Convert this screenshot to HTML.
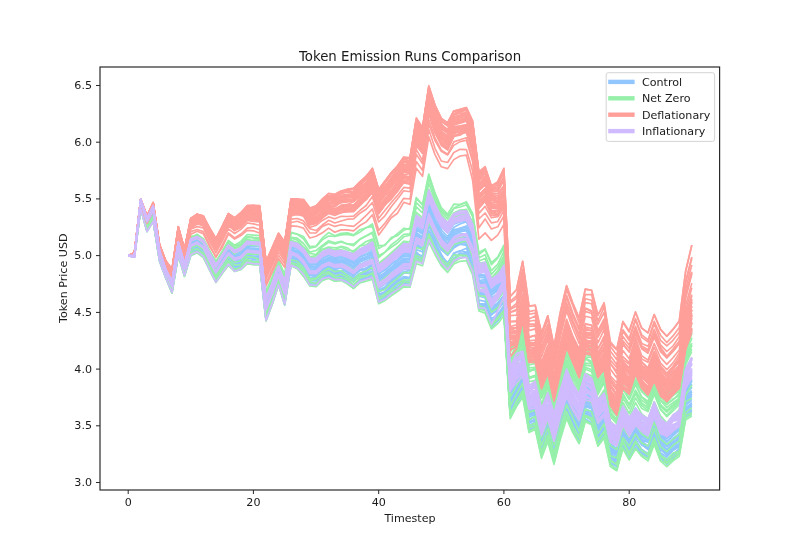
<!DOCTYPE html>
<html><head><meta charset="utf-8"><title>Token Emission Runs Comparison</title>
<style>
html,body{margin:0;padding:0;background:#fff;}
svg{display:block;}
text{font-family:"DejaVu Sans","Liberation Sans",sans-serif;fill:#1a1a1a;}
</style></head>
<body>
<svg width="800" height="560" viewBox="0 0 800 560">
<rect x="0" y="0" width="800" height="560" fill="#ffffff"/>
<clipPath id="ax"><rect x="100" y="66.5" width="620" height="423.5"/></clipPath>
<g clip-path="url(#ax)">
<g fill="none" stroke="#92C6FF" stroke-width="1.67" stroke-linejoin="round" stroke-linecap="butt">
<polyline points="128.2,255.6 134.4,256.0 140.7,206.2 147.0,227.6 153.2,216.6 159.5,257.3 165.8,274.2 172.0,288.5 178.3,247.9 184.5,271.5 190.8,247.9 197.1,244.4 203.3,250.3 209.6,262.8 215.9,275.9 222.1,266.0 228.4,257.0 234.6,261.7 240.9,259.1 247.2,253.3 253.4,253.4 259.7,253.3 266.0,310.8 272.2,294.8 278.5,276.6 284.7,294.8 291.0,254.5 297.3,257.7 303.5,264.9 309.8,274.6 316.1,275.1 322.3,269.6 328.6,266.1 334.8,268.8 341.1,266.4 347.4,269.7 353.6,274.6 359.9,267.4 366.2,265.1 372.4,263.7 378.7,287.1 384.9,283.7 391.2,278.2 397.5,275.2 403.7,269.3 410.0,269.7 416.3,246.0 422.5,248.3 428.8,222.4 435.0,233.3 441.3,245.6 447.6,252.1 453.8,242.7 460.1,240.1 466.4,239.9 472.6,253.9 478.9,292.9 485.1,292.5 491.4,309.9 497.7,303.7 503.9,295.1 510.2,401.4 516.5,389.8 522.7,377.6 529.0,413.6 535.2,413.6 541.5,442.4 547.8,426.2 554.0,450.4 560.3,424.3 566.6,402.4 572.8,419.0 579.1,428.4 585.3,405.7 591.6,408.1 597.9,430.1 604.1,420.5 610.4,449.0 616.7,455.1 622.9,431.2 629.2,444.2 635.5,431.0 641.7,441.1 648.0,446.0 654.2,430.3 660.5,446.4 666.8,451.3 673.0,445.2 679.3,440.3 685.6,402.5 691.8,394.2"/>
<polyline points="128.2,255.6 134.4,256.2 140.7,206.8 147.0,228.4 153.2,217.8 159.5,258.2 165.8,275.4 172.0,289.0 178.3,250.7 184.5,272.3 190.8,249.8 197.1,246.4 203.3,252.8 209.6,265.5 215.9,276.6 222.1,266.3 228.4,258.3 234.6,263.7 240.9,262.3 247.2,255.1 253.4,257.4 259.7,256.5 266.0,312.9 272.2,296.6 278.5,277.5 284.7,296.2 291.0,257.4 297.3,259.0 303.5,267.0 309.8,274.6 316.1,273.8 322.3,269.1 328.6,266.6 334.8,269.3 341.1,268.0 347.4,272.0 353.6,275.2 359.9,270.3 366.2,268.2 372.4,265.2 378.7,290.0 384.9,287.8 391.2,280.0 397.5,276.4 403.7,272.6 410.0,269.9 416.3,244.6 422.5,248.0 428.8,221.4 435.0,235.4 441.3,248.5 447.6,254.2 453.8,245.3 460.1,242.2 466.4,241.6 472.6,256.6 478.9,293.2 485.1,295.3 491.4,311.2 497.7,306.0 503.9,298.3 510.2,402.1 516.5,392.4 522.7,379.9 529.0,416.8 535.2,414.7 541.5,442.7 547.8,426.0 554.0,449.5 560.3,423.4 566.6,403.2 572.8,417.8 579.1,430.8 585.3,406.3 591.6,408.1 597.9,429.5 604.1,421.6 610.4,452.2 616.7,454.7 622.9,434.8 629.2,447.2 635.5,434.5 641.7,443.4 648.0,448.2 654.2,433.1 660.5,448.4 666.8,454.2 673.0,446.9 679.3,441.0 685.6,405.4 691.8,400.4"/>
<polyline points="128.2,255.6 134.4,255.1 140.7,204.0 147.0,224.7 153.2,213.3 159.5,254.9 165.8,271.9 172.0,285.2 178.3,244.8 184.5,266.7 190.8,244.1 197.1,240.7 203.3,244.6 209.6,257.2 215.9,269.7 222.1,260.4 228.4,250.9 234.6,255.6 240.9,253.5 247.2,247.9 253.4,249.3 259.7,248.3 266.0,305.9 272.2,290.2 278.5,271.7 284.7,289.1 291.0,248.4 297.3,252.0 303.5,256.9 309.8,268.0 316.1,267.8 322.3,261.4 328.6,257.7 334.8,260.8 341.1,260.0 347.4,260.2 353.6,264.4 359.9,258.6 366.2,256.7 372.4,254.1 378.7,277.2 384.9,272.4 391.2,266.8 397.5,261.5 403.7,255.9 410.0,256.7 416.3,229.7 422.5,234.1 428.8,205.2 435.0,219.8 441.3,232.9 447.6,238.5 453.8,229.3 460.1,229.1 466.4,226.1 472.6,238.9 478.9,277.3 485.1,277.9 491.4,295.3 497.7,288.6 503.9,279.0 510.2,389.7 516.5,378.8 522.7,365.3 529.0,405.4 535.2,401.4 541.5,429.3 547.8,413.8 554.0,437.1 560.3,411.5 566.6,389.2 572.8,403.8 579.1,414.9 585.3,392.4 591.6,394.4 597.9,417.9 604.1,409.5 610.4,439.2 616.7,445.2 622.9,420.8 629.2,430.7 635.5,418.5 641.7,429.5 648.0,433.1 654.2,416.3 660.5,432.1 666.8,438.9 673.0,431.7 679.3,428.1 685.6,388.1 691.8,379.6"/>
<polyline points="128.2,255.6 134.4,255.4 140.7,205.0 147.0,225.8 153.2,214.8 159.5,255.7 165.8,273.0 172.0,286.4 178.3,247.7 184.5,269.2 190.8,247.3 197.1,244.3 203.3,248.0 209.6,260.3 215.9,271.7 222.1,260.8 228.4,253.3 234.6,259.8 240.9,256.5 247.2,249.8 253.4,250.9 259.7,252.3 266.0,308.1 272.2,292.4 278.5,275.5 284.7,292.9 291.0,251.6 297.3,256.4 303.5,261.1 309.8,270.8 316.1,269.0 322.3,263.2 328.6,260.9 334.8,262.5 341.1,262.5 347.4,263.2 353.6,266.2 359.9,261.7 366.2,259.2 372.4,256.7 378.7,281.4 384.9,275.4 391.2,270.1 397.5,264.9 403.7,259.3 410.0,259.2 416.3,233.1 422.5,238.4 428.8,212.3 435.0,225.3 441.3,237.2 447.6,243.1 453.8,232.8 460.1,230.1 466.4,229.1 472.6,244.2 478.9,283.3 485.1,284.7 491.4,302.0 497.7,296.8 503.9,287.8 510.2,395.5 516.5,383.2 522.7,371.9 529.0,409.5 535.2,406.0 541.5,433.3 547.8,416.8 554.0,441.6 560.3,414.8 566.6,394.5 572.8,408.0 579.1,418.0 585.3,398.3 591.6,398.7 597.9,420.2 604.1,411.8 610.4,443.6 616.7,448.7 622.9,426.2 629.2,436.7 635.5,422.8 641.7,432.9 648.0,437.4 654.2,420.8 660.5,436.4 666.8,444.7 673.0,438.3 679.3,433.4 685.6,395.0 691.8,387.1"/>
<polyline points="128.2,255.6 134.4,256.4 140.7,207.1 147.0,228.7 153.2,218.2 159.5,258.6 165.8,275.5 172.0,289.6 178.3,251.6 184.5,272.5 190.8,249.3 197.1,247.1 203.3,251.9 209.6,266.2 215.9,277.2 222.1,269.5 228.4,259.3 234.6,266.1 240.9,262.1 247.2,258.4 253.4,257.5 259.7,257.9 266.0,316.1 272.2,298.6 278.5,278.7 284.7,297.6 291.0,259.8 297.3,261.6 303.5,268.7 309.8,277.9 316.1,278.0 322.3,270.1 328.6,268.6 334.8,271.8 341.1,271.2 347.4,273.8 353.6,277.8 359.9,273.4 366.2,269.9 372.4,268.8 378.7,292.4 384.9,287.8 391.2,281.7 397.5,278.2 403.7,273.1 410.0,272.8 416.3,246.6 422.5,249.2 428.8,223.0 435.0,237.1 441.3,248.2 447.6,255.3 453.8,248.0 460.1,244.0 466.4,245.4 472.6,259.2 478.9,295.3 485.1,297.9 491.4,315.0 497.7,309.9 503.9,301.8 510.2,408.0 516.5,396.3 522.7,386.6 529.0,422.7 535.2,420.2 541.5,447.8 547.8,432.6 554.0,455.3 560.3,429.3 566.6,409.4 572.8,423.6 579.1,433.1 585.3,411.2 591.6,413.7 597.9,435.1 604.1,427.3 610.4,453.2 616.7,460.4 622.9,437.2 629.2,448.9 635.5,436.3 641.7,444.4 648.0,449.7 654.2,432.6 660.5,449.8 666.8,454.1 673.0,449.5 679.3,446.2 685.6,407.4 691.8,403.7"/>
<polyline points="128.2,255.6 134.4,255.3 140.7,204.7 147.0,225.3 153.2,214.2 159.5,255.2 165.8,272.5 172.0,285.3 178.3,246.9 184.5,268.0 190.8,244.8 197.1,242.2 203.3,245.8 209.6,258.7 215.9,269.8 222.1,260.9 228.4,252.0 234.6,256.8 240.9,254.7 247.2,247.1 253.4,250.2 259.7,249.8 266.0,305.9 272.2,289.9 278.5,272.4 284.7,290.8 291.0,250.8 297.3,251.8 303.5,256.9 309.8,266.4 316.1,267.6 322.3,261.6 328.6,259.8 334.8,263.5 341.1,260.6 347.4,263.4 353.6,267.2 359.9,260.6 366.2,257.5 372.4,254.9 378.7,279.3 384.9,276.1 391.2,271.1 397.5,266.8 403.7,261.3 410.0,261.0 416.3,235.9 422.5,239.6 428.8,210.3 435.0,225.1 441.3,237.7 447.6,244.2 453.8,234.3 460.1,231.8 466.4,230.7 472.6,243.6 478.9,282.8 485.1,282.9 491.4,299.7 497.7,294.5 503.9,286.1 510.2,393.8 516.5,383.3 522.7,371.2 529.0,406.7 535.2,403.1 541.5,431.6 547.8,413.7 554.0,439.5 560.3,410.7 566.6,388.0 572.8,403.5 579.1,414.3 585.3,393.1 591.6,394.5 597.9,416.6 604.1,407.8 610.4,440.3 616.7,444.4 622.9,420.5 629.2,430.4 635.5,417.4 641.7,427.5 648.0,432.0 654.2,415.6 660.5,432.5 666.8,438.6 673.0,433.3 679.3,427.2 685.6,389.9 691.8,381.3"/>
<polyline points="128.2,255.6 134.4,255.3 140.7,204.7 147.0,225.5 153.2,214.0 159.5,255.1 165.8,272.3 172.0,284.7 178.3,245.9 184.5,267.8 190.8,244.5 197.1,241.8 203.3,245.6 209.6,258.7 215.9,270.8 222.1,261.7 228.4,250.8 234.6,256.4 240.9,254.9 247.2,247.8 253.4,249.5 259.7,251.3 266.0,306.1 272.2,289.7 278.5,273.2 284.7,290.3 291.0,249.3 297.3,252.7 303.5,258.1 309.8,267.6 316.1,267.0 322.3,261.2 328.6,259.3 334.8,261.8 341.1,260.3 347.4,262.4 353.6,266.5 359.9,260.7 366.2,257.0 372.4,254.8 378.7,276.0 384.9,273.6 391.2,268.5 397.5,263.4 403.7,258.2 410.0,258.4 416.3,232.4 422.5,237.0 428.8,210.2 435.0,223.7 441.3,234.7 447.6,243.7 453.8,235.4 460.1,231.5 466.4,229.9 472.6,244.6 478.9,282.9 485.1,284.3 491.4,300.3 497.7,295.0 503.9,285.0 510.2,392.6 516.5,380.9 522.7,369.6 529.0,405.6 535.2,404.2 541.5,433.6 547.8,414.7 554.0,440.1 560.3,413.7 566.6,391.8 572.8,406.3 579.1,418.1 585.3,396.2 591.6,397.4 597.9,420.0 604.1,411.1 610.4,441.0 616.7,446.1 622.9,425.0 629.2,435.4 635.5,421.2 641.7,429.7 648.0,434.6 654.2,419.4 660.5,434.6 666.8,442.0 673.0,435.3 679.3,430.0 685.6,391.5 691.8,383.9"/>
<polyline points="128.2,255.6 134.4,254.7 140.7,203.2 147.0,223.3 153.2,211.9 159.5,253.4 165.8,270.7 172.0,283.3 178.3,243.7 184.5,266.3 190.8,241.4 197.1,239.3 203.3,242.6 209.6,256.1 215.9,266.9 222.1,256.5 228.4,248.4 234.6,253.8 240.9,250.3 247.2,243.9 253.4,245.1 259.7,245.6 266.0,302.4 272.2,287.4 278.5,269.1 284.7,285.7 291.0,245.4 297.3,247.9 303.5,253.8 309.8,263.0 316.1,262.9 322.3,257.5 328.6,253.8 334.8,257.4 341.1,254.9 347.4,256.1 353.6,258.4 359.9,253.2 366.2,249.4 372.4,247.4 378.7,272.1 384.9,266.3 391.2,262.0 397.5,257.5 403.7,253.1 410.0,252.9 416.3,225.7 422.5,230.2 428.8,202.9 435.0,215.2 441.3,227.0 447.6,232.8 453.8,224.1 460.1,222.0 466.4,220.9 472.6,235.7 478.9,275.6 485.1,275.9 491.4,292.7 497.7,286.8 503.9,279.6 510.2,388.9 516.5,375.9 522.7,363.7 529.0,400.8 535.2,398.6 541.5,427.8 547.8,411.0 554.0,436.1 560.3,408.9 566.6,384.9 572.8,399.9 579.1,410.8 585.3,386.8 591.6,389.6 597.9,410.7 604.1,401.6 610.4,432.5 616.7,436.5 622.9,414.4 629.2,424.5 635.5,410.2 641.7,421.6 648.0,425.5 654.2,409.3 660.5,426.6 666.8,432.8 673.0,428.1 679.3,422.3 685.6,382.6 691.8,371.7"/>
<polyline points="128.2,255.6 134.4,255.7 140.7,205.7 147.0,226.9 153.2,216.1 159.5,256.0 165.8,273.3 172.0,287.1 178.3,248.1 184.5,269.1 190.8,246.7 197.1,244.3 203.3,248.3 209.6,260.4 215.9,273.2 222.1,264.8 228.4,254.1 234.6,261.7 240.9,258.7 247.2,251.1 253.4,252.3 259.7,252.7 266.0,309.3 272.2,292.4 278.5,274.8 284.7,294.0 291.0,252.7 297.3,257.3 303.5,262.7 309.8,269.8 316.1,270.6 322.3,265.6 328.6,263.1 334.8,265.9 341.1,264.6 347.4,267.9 353.6,271.8 359.9,265.8 366.2,263.3 372.4,260.6 378.7,285.0 384.9,280.7 391.2,276.1 397.5,271.5 403.7,266.2 410.0,265.4 416.3,238.2 422.5,242.9 428.8,217.7 435.0,230.7 441.3,244.1 447.6,248.7 453.8,239.9 460.1,238.2 466.4,239.5 472.6,253.6 478.9,290.2 485.1,292.1 491.4,307.4 497.7,302.6 503.9,296.1 510.2,400.5 516.5,390.4 522.7,378.0 529.0,413.5 535.2,412.7 541.5,440.6 547.8,424.2 554.0,448.5 560.3,420.8 566.6,401.5 572.8,414.3 579.1,427.6 585.3,404.4 591.6,406.9 597.9,429.0 604.1,420.5 610.4,450.3 616.7,455.9 622.9,432.5 629.2,442.1 635.5,431.1 641.7,440.6 648.0,441.9 654.2,426.5 660.5,442.1 666.8,449.4 673.0,443.2 679.3,437.6 685.6,399.2 691.8,391.8"/>
<polyline points="128.2,255.6 134.4,257.1 140.7,208.3 147.0,231.1 153.2,220.6 159.5,260.6 165.8,277.4 172.0,292.6 178.3,255.0 184.5,274.8 190.8,254.0 197.1,250.1 203.3,256.2 209.6,269.0 215.9,279.3 222.1,273.0 228.4,264.6 234.6,270.5 240.9,269.0 247.2,262.3 253.4,263.6 259.7,263.8 266.0,319.5 272.2,300.9 278.5,282.8 284.7,305.0 291.0,264.5 297.3,267.6 303.5,273.9 309.8,284.2 316.1,283.1 322.3,278.0 328.6,276.1 334.8,279.4 341.1,279.0 347.4,282.1 353.6,285.4 359.9,279.4 366.2,278.4 372.4,275.1 378.7,299.7 384.9,296.3 391.2,291.4 397.5,287.1 403.7,282.0 410.0,282.9 416.3,255.7 422.5,259.3 428.8,235.0 435.0,246.4 441.3,258.3 447.6,265.4 453.8,258.2 460.1,254.9 466.4,253.6 472.6,267.2 478.9,304.5 485.1,306.2 491.4,323.9 497.7,320.1 503.9,309.8 510.2,414.3 516.5,402.7 522.7,394.2 529.0,429.2 535.2,427.1 541.5,454.4 547.8,438.3 554.0,460.4 560.3,435.3 566.6,413.9 572.8,427.9 579.1,439.1 585.3,416.4 591.6,420.0 597.9,442.8 604.1,433.9 610.4,461.0 616.7,466.7 622.9,443.4 629.2,455.4 635.5,444.4 641.7,453.2 648.0,457.0 654.2,441.3 660.5,456.8 666.8,464.1 673.0,458.8 679.3,453.9 685.6,416.4 691.8,414.5"/>
<polyline points="128.2,255.6 134.4,256.1 140.7,206.3 147.0,227.7 153.2,217.2 159.5,257.0 165.8,274.6 172.0,288.5 178.3,250.5 184.5,269.9 190.8,247.3 197.1,246.5 203.3,250.2 209.6,262.3 215.9,276.2 222.1,266.6 228.4,255.7 234.6,263.3 240.9,261.1 247.2,255.4 253.4,256.2 259.7,256.0 266.0,313.7 272.2,297.7 278.5,278.5 284.7,295.1 291.0,256.5 297.3,259.9 303.5,265.6 309.8,274.8 316.1,275.4 322.3,270.3 328.6,266.3 334.8,269.2 341.1,267.4 347.4,272.2 353.6,273.7 359.9,269.4 366.2,268.1 372.4,263.7 378.7,288.7 384.9,284.1 391.2,279.3 397.5,273.0 403.7,267.7 410.0,268.4 416.3,244.7 422.5,249.7 428.8,223.8 435.0,236.4 441.3,249.2 447.6,254.1 453.8,244.8 460.1,242.0 466.4,240.3 472.6,254.9 478.9,292.6 485.1,294.3 491.4,309.5 497.7,303.8 503.9,297.0 510.2,403.0 516.5,390.2 522.7,379.4 529.0,415.6 535.2,413.1 541.5,440.5 547.8,422.6 554.0,447.1 560.3,419.4 566.6,397.8 572.8,412.8 579.1,425.4 585.3,402.7 591.6,404.9 597.9,427.2 604.1,418.2 610.4,448.6 616.7,453.5 622.9,429.5 629.2,443.0 635.5,430.0 641.7,438.6 648.0,442.2 654.2,426.5 660.5,443.8 666.8,450.5 673.0,444.8 679.3,440.7 685.6,403.4 691.8,396.1"/>
<polyline points="128.2,255.6 134.4,257.2 140.7,208.8 147.0,231.3 153.2,221.0 159.5,260.5 165.8,277.8 172.0,292.0 178.3,254.9 184.5,275.4 190.8,255.6 197.1,252.8 203.3,255.7 209.6,269.5 215.9,281.2 222.1,272.4 228.4,263.5 234.6,270.4 240.9,268.4 247.2,262.8 253.4,264.5 259.7,264.2 266.0,320.2 272.2,303.9 278.5,284.2 284.7,303.3 291.0,264.3 297.3,267.3 303.5,275.4 309.8,284.7 316.1,284.9 322.3,278.4 328.6,276.2 334.8,280.0 341.1,279.4 347.4,280.7 353.6,286.4 359.9,279.7 366.2,277.8 372.4,277.8 378.7,301.6 384.9,297.7 391.2,292.6 397.5,288.3 403.7,283.5 410.0,283.3 416.3,259.5 422.5,262.2 428.8,237.9 435.0,249.8 441.3,261.9 447.6,268.4 453.8,259.2 460.1,257.7 466.4,256.8 472.6,270.4 478.9,308.2 485.1,310.3 491.4,327.3 497.7,321.2 503.9,312.5 510.2,414.6 516.5,404.9 522.7,394.3 529.0,430.4 535.2,426.7 541.5,454.9 547.8,439.0 554.0,461.2 560.3,436.7 566.6,416.1 572.8,430.7 579.1,440.1 585.3,418.9 591.6,422.6 597.9,443.6 604.1,437.4 610.4,463.9 616.7,469.6 622.9,446.0 629.2,458.1 635.5,447.2 641.7,453.8 648.0,456.9 654.2,440.8 660.5,457.7 666.8,463.8 673.0,458.0 679.3,452.0 685.6,416.3 691.8,411.8"/>
<polyline points="128.2,255.6 134.4,256.6 140.7,207.6 147.0,229.9 153.2,219.1 159.5,259.1 165.8,276.7 172.0,290.3 178.3,253.2 184.5,273.6 190.8,251.7 197.1,248.6 203.3,253.1 209.6,267.4 215.9,278.5 222.1,270.2 228.4,260.5 234.6,266.2 240.9,264.3 247.2,258.5 253.4,257.9 259.7,259.1 266.0,315.8 272.2,299.5 278.5,279.3 284.7,299.1 291.0,261.0 297.3,261.6 303.5,267.6 309.8,277.8 316.1,279.9 322.3,273.4 328.6,270.8 334.8,273.1 341.1,273.7 347.4,277.6 353.6,281.1 359.9,275.7 366.2,274.8 372.4,272.0 378.7,295.7 384.9,292.4 391.2,286.2 397.5,282.0 403.7,276.8 410.0,278.4 416.3,254.9 422.5,256.2 428.8,231.2 435.0,243.5 441.3,255.9 447.6,263.0 453.8,253.5 460.1,250.8 466.4,252.0 472.6,265.8 478.9,303.9 485.1,303.9 491.4,321.3 497.7,314.5 503.9,306.4 510.2,410.1 516.5,399.3 522.7,387.7 529.0,422.4 535.2,419.5 541.5,447.8 547.8,429.8 554.0,453.4 560.3,428.3 566.6,409.6 572.8,423.6 579.1,434.7 585.3,412.6 591.6,415.7 597.9,436.8 604.1,429.4 610.4,456.6 616.7,462.3 622.9,440.7 629.2,451.7 635.5,439.1 641.7,449.5 648.0,453.8 654.2,437.8 660.5,454.3 666.8,460.5 673.0,454.0 679.3,451.5 685.6,412.0 691.8,406.0"/>
<polyline points="128.2,255.6 134.4,256.6 140.7,207.7 147.0,229.5 153.2,219.3 159.5,259.6 165.8,276.0 172.0,289.8 178.3,251.6 184.5,273.6 190.8,252.3 197.1,249.8 203.3,253.6 209.6,265.9 215.9,278.2 222.1,270.5 228.4,260.4 234.6,266.3 240.9,264.0 247.2,257.7 253.4,258.9 259.7,258.4 266.0,315.0 272.2,298.8 278.5,280.4 284.7,298.5 291.0,259.7 297.3,263.4 303.5,268.6 309.8,278.9 316.1,279.0 322.3,273.8 328.6,271.6 334.8,274.5 341.1,274.6 347.4,277.1 353.6,282.2 359.9,274.0 366.2,273.9 372.4,271.0 378.7,294.3 384.9,291.7 391.2,286.5 397.5,282.0 403.7,276.5 410.0,277.5 416.3,251.8 422.5,258.3 428.8,233.1 435.0,245.9 441.3,257.1 447.6,262.7 453.8,254.6 460.1,254.8 466.4,254.3 472.6,267.3 478.9,304.2 485.1,304.7 491.4,321.2 497.7,317.0 503.9,309.4 510.2,412.8 516.5,400.9 522.7,391.5 529.0,424.9 535.2,422.2 541.5,450.8 547.8,434.7 554.0,456.4 560.3,431.3 566.6,409.4 572.8,424.9 579.1,436.1 585.3,413.3 591.6,416.7 597.9,440.4 604.1,430.7 610.4,458.4 616.7,463.1 622.9,442.3 629.2,453.8 635.5,441.3 641.7,450.5 648.0,456.0 654.2,438.2 660.5,453.9 666.8,459.6 673.0,454.5 679.3,448.3 685.6,411.4 691.8,406.8"/>
<polyline points="128.2,255.6 134.4,254.8 140.7,203.5 147.0,223.6 153.2,212.9 159.5,253.9 165.8,270.8 172.0,283.9 178.3,243.4 184.5,266.1 190.8,243.5 197.1,239.3 203.3,242.4 209.6,257.2 215.9,268.3 222.1,259.4 228.4,249.6 234.6,254.3 240.9,251.4 247.2,245.3 253.4,245.9 259.7,244.7 266.0,303.8 272.2,288.6 278.5,269.1 284.7,286.0 291.0,247.3 297.3,247.8 303.5,254.8 309.8,265.1 316.1,264.4 322.3,258.2 328.6,253.7 334.8,259.0 341.1,257.1 347.4,258.7 353.6,261.9 359.9,256.6 366.2,254.7 372.4,252.0 378.7,274.6 384.9,269.3 391.2,263.1 397.5,260.2 403.7,253.7 410.0,254.3 416.3,228.0 422.5,232.1 428.8,204.1 435.0,216.2 441.3,230.1 447.6,236.5 453.8,227.2 460.1,224.0 466.4,221.7 472.6,236.7 478.9,275.9 485.1,275.3 491.4,292.3 497.7,287.8 503.9,278.6 510.2,389.1 516.5,377.1 522.7,364.6 529.0,402.4 535.2,399.0 541.5,428.2 547.8,411.8 554.0,434.7 560.3,408.6 566.6,384.5 572.8,399.0 579.1,412.4 585.3,388.1 591.6,390.0 597.9,413.4 604.1,405.3 610.4,435.0 616.7,442.3 622.9,416.7 629.2,427.7 635.5,415.1 641.7,424.9 648.0,429.1 654.2,414.1 660.5,429.7 666.8,436.1 673.0,431.2 679.3,426.9 685.6,386.1 691.8,379.1"/>
<polyline points="128.2,255.6 134.4,255.0 140.7,203.9 147.0,224.3 153.2,213.0 159.5,254.2 165.8,271.9 172.0,284.4 178.3,244.5 184.5,267.5 190.8,242.5 197.1,241.3 203.3,245.7 209.6,259.2 215.9,270.8 222.1,261.7 228.4,251.1 234.6,255.8 240.9,254.0 247.2,247.8 253.4,248.7 259.7,248.7 266.0,305.9 272.2,290.4 278.5,270.2 284.7,288.9 291.0,250.0 297.3,251.0 303.5,255.8 309.8,266.7 316.1,265.8 322.3,260.2 328.6,257.7 334.8,257.8 341.1,255.1 347.4,260.0 353.6,263.2 359.9,255.3 366.2,252.3 372.4,249.6 378.7,272.9 384.9,270.3 391.2,264.4 397.5,260.1 403.7,255.3 410.0,255.4 416.3,228.9 422.5,233.8 428.8,207.5 435.0,222.6 441.3,233.5 447.6,239.6 453.8,230.5 460.1,228.1 466.4,226.3 472.6,241.2 478.9,280.5 485.1,279.5 491.4,295.4 497.7,290.4 503.9,283.3 510.2,390.0 516.5,379.8 522.7,366.6 529.0,402.8 535.2,400.4 541.5,428.8 547.8,410.8 554.0,435.0 560.3,409.2 566.6,384.6 572.8,399.1 579.1,410.5 585.3,387.5 591.6,389.8 597.9,411.3 604.1,402.5 610.4,434.8 616.7,440.1 622.9,417.0 629.2,428.8 635.5,416.5 641.7,426.4 648.0,432.4 654.2,416.0 660.5,432.4 666.8,437.4 673.0,432.2 679.3,430.0 685.6,390.0 691.8,381.1"/>
<polyline points="128.2,255.6 134.4,254.6 140.7,203.1 147.0,222.9 153.2,211.8 159.5,253.1 165.8,270.0 172.0,282.8 178.3,243.8 184.5,264.6 190.8,239.9 197.1,238.2 203.3,243.5 209.6,256.6 215.9,267.5 222.1,258.7 228.4,247.4 234.6,252.3 240.9,251.9 247.2,243.6 253.4,243.7 259.7,244.8 266.0,301.0 272.2,285.8 278.5,267.6 284.7,283.2 291.0,244.9 297.3,248.1 303.5,253.1 309.8,262.8 316.1,261.4 322.3,255.7 328.6,252.8 334.8,254.4 341.1,252.1 347.4,254.4 353.6,257.6 359.9,252.6 366.2,250.1 372.4,248.2 378.7,271.5 384.9,266.4 391.2,260.4 397.5,255.1 403.7,248.0 410.0,250.2 416.3,223.6 422.5,228.4 428.8,199.0 435.0,212.8 441.3,225.8 447.6,230.4 453.8,221.5 460.1,219.9 466.4,217.8 472.6,232.5 478.9,270.7 485.1,272.3 491.4,289.3 497.7,284.3 503.9,274.9 510.2,384.3 516.5,373.7 522.7,357.4 529.0,396.2 535.2,393.6 541.5,423.0 547.8,404.8 554.0,430.0 560.3,402.2 566.6,378.9 572.8,394.0 579.1,406.3 585.3,382.5 591.6,385.4 597.9,407.4 604.1,397.4 610.4,429.7 616.7,434.5 622.9,411.6 629.2,420.7 635.5,407.9 641.7,418.3 648.0,423.3 654.2,408.0 660.5,424.1 666.8,431.3 673.0,425.5 679.3,422.2 685.6,382.0 691.8,371.0"/>
<polyline points="128.2,255.6 134.4,256.1 140.7,206.5 147.0,228.0 153.2,217.5 159.5,257.7 165.8,274.7 172.0,288.6 178.3,249.6 184.5,271.2 190.8,248.9 197.1,245.7 203.3,251.1 209.6,264.4 215.9,276.0 222.1,267.2 228.4,257.4 234.6,263.5 240.9,261.8 247.2,255.4 253.4,256.9 259.7,256.6 266.0,313.0 272.2,296.0 278.5,278.5 284.7,296.9 291.0,257.1 297.3,260.2 303.5,266.5 309.8,277.5 316.1,276.3 322.3,270.2 328.6,267.5 334.8,270.4 341.1,270.8 347.4,270.7 353.6,276.0 359.9,270.4 366.2,269.5 372.4,265.7 378.7,290.5 384.9,286.9 391.2,281.8 397.5,276.4 403.7,271.9 410.0,272.7 416.3,244.1 422.5,248.9 428.8,223.8 435.0,235.4 441.3,247.7 447.6,254.4 453.8,246.3 460.1,243.2 466.4,242.7 472.6,256.9 478.9,294.6 485.1,296.1 491.4,312.2 497.7,306.6 503.9,298.0 510.2,403.5 516.5,392.8 522.7,381.4 529.0,418.7 535.2,416.6 541.5,443.3 547.8,428.3 554.0,449.9 560.3,422.4 566.6,404.2 572.8,416.5 579.1,430.9 585.3,406.5 591.6,408.6 597.9,430.6 604.1,424.5 610.4,453.8 616.7,457.9 622.9,433.4 629.2,445.9 635.5,433.7 641.7,441.8 648.0,446.5 654.2,429.7 660.5,446.3 666.8,454.0 673.0,445.4 679.3,444.5 685.6,404.1 691.8,399.2"/>
<polyline points="128.2,255.6 134.4,256.6 140.7,207.4 147.0,229.4 153.2,218.7 159.5,259.2 165.8,276.2 172.0,289.8 178.3,252.8 184.5,273.3 190.8,252.7 197.1,248.8 203.3,253.2 209.6,266.1 215.9,278.6 222.1,270.2 228.4,260.6 234.6,266.7 240.9,263.4 247.2,257.0 253.4,259.5 259.7,258.5 266.0,315.8 272.2,299.3 278.5,281.1 284.7,300.7 291.0,259.9 297.3,262.7 303.5,270.7 309.8,280.8 316.1,280.5 322.3,275.4 328.6,272.0 334.8,273.8 341.1,272.4 347.4,276.8 353.6,279.8 359.9,274.3 366.2,273.5 372.4,273.1 378.7,295.0 384.9,292.3 391.2,286.2 397.5,282.2 403.7,277.5 410.0,278.0 416.3,254.4 422.5,255.8 428.8,230.5 435.0,241.4 441.3,254.2 447.6,265.0 453.8,253.0 460.1,250.9 466.4,248.3 472.6,263.5 478.9,300.1 485.1,301.4 491.4,318.8 497.7,314.6 503.9,304.9 510.2,409.3 516.5,398.1 522.7,386.2 529.0,422.9 535.2,419.3 541.5,447.9 547.8,431.6 554.0,454.6 560.3,428.9 566.6,408.0 572.8,422.2 579.1,432.8 585.3,409.8 591.6,413.8 597.9,437.2 604.1,428.0 610.4,456.4 616.7,460.8 622.9,438.3 629.2,449.8 635.5,435.6 641.7,445.0 648.0,448.3 654.2,434.2 660.5,448.5 666.8,455.4 673.0,448.7 679.3,444.2 685.6,408.4 691.8,405.2"/>
<polyline points="128.2,255.6 134.4,255.9 140.7,206.0 147.0,227.6 153.2,216.3 159.5,256.8 165.8,275.0 172.0,287.3 178.3,249.4 184.5,269.7 190.8,247.8 197.1,245.3 203.3,249.2 209.6,261.6 215.9,274.3 222.1,265.1 228.4,256.8 234.6,260.8 240.9,259.0 247.2,252.0 253.4,254.3 259.7,254.9 266.0,311.8 272.2,294.8 278.5,277.1 284.7,295.9 291.0,255.1 297.3,257.4 303.5,265.5 309.8,275.3 316.1,273.6 322.3,269.1 328.6,263.9 334.8,268.4 341.1,266.4 347.4,271.2 353.6,274.1 359.9,266.7 366.2,265.0 372.4,262.9 378.7,284.8 384.9,282.7 391.2,277.6 397.5,273.0 403.7,267.4 410.0,266.4 416.3,241.5 422.5,245.6 428.8,219.5 435.0,232.1 441.3,244.7 447.6,250.6 453.8,242.5 460.1,239.9 466.4,238.3 472.6,252.3 478.9,291.9 485.1,291.8 491.4,306.1 497.7,304.9 503.9,296.0 510.2,403.5 516.5,390.3 522.7,378.5 529.0,414.5 535.2,411.3 541.5,440.6 547.8,422.0 554.0,447.1 560.3,421.6 566.6,398.3 572.8,413.8 579.1,424.5 585.3,401.4 591.6,403.3 597.9,425.6 604.1,418.5 610.4,447.1 616.7,453.0 622.9,426.3 629.2,438.7 635.5,426.5 641.7,436.0 648.0,439.4 654.2,423.7 660.5,439.8 666.8,445.6 673.0,442.5 679.3,438.3 685.6,399.8 691.8,392.0"/>
<polyline points="128.2,255.6 134.4,254.9 140.7,203.7 147.0,223.9 153.2,212.7 159.5,254.3 165.8,271.3 172.0,284.5 178.3,245.4 184.5,266.4 190.8,242.4 197.1,239.1 203.3,243.3 209.6,256.5 215.9,269.0 222.1,259.2 228.4,249.2 234.6,253.7 240.9,251.8 247.2,246.2 253.4,247.0 259.7,246.1 266.0,303.7 272.2,287.3 278.5,269.7 284.7,286.2 291.0,248.1 297.3,249.3 303.5,254.8 309.8,264.2 316.1,263.8 322.3,258.4 328.6,255.8 334.8,257.3 341.1,257.3 347.4,258.1 353.6,261.6 359.9,256.9 366.2,254.3 372.4,251.3 378.7,272.8 384.9,268.0 391.2,262.5 397.5,257.1 403.7,250.8 410.0,252.0 416.3,225.4 422.5,228.2 428.8,200.8 435.0,214.0 441.3,227.0 447.6,232.1 453.8,223.2 460.1,219.1 466.4,219.6 472.6,234.2 478.9,274.3 485.1,275.0 491.4,291.8 497.7,286.4 503.9,278.7 510.2,386.9 516.5,376.2 522.7,363.1 529.0,401.6 535.2,399.6 541.5,426.5 547.8,411.2 554.0,435.0 560.3,407.8 566.6,385.3 572.8,402.2 579.1,414.2 585.3,388.3 591.6,390.9 597.9,414.4 604.1,405.4 610.4,437.0 616.7,441.9 622.9,417.5 629.2,430.0 635.5,416.2 641.7,425.7 648.0,431.5 654.2,414.8 660.5,434.1 666.8,438.3 673.0,433.2 679.3,426.2 685.6,388.9 691.8,381.0"/>
<polyline points="128.2,255.6 134.4,255.5 140.7,205.1 147.0,226.0 153.2,214.7 159.5,256.2 165.8,272.7 172.0,286.1 178.3,247.4 184.5,269.2 190.8,246.1 197.1,243.6 203.3,246.2 209.6,259.9 215.9,271.2 222.1,262.2 228.4,253.6 234.6,259.3 240.9,257.0 247.2,249.8 253.4,251.2 259.7,251.4 266.0,307.4 272.2,292.2 278.5,272.5 284.7,292.3 291.0,250.8 297.3,253.6 303.5,261.3 309.8,269.6 316.1,270.4 322.3,264.0 328.6,262.1 334.8,263.7 341.1,263.8 347.4,266.9 353.6,269.0 359.9,264.2 366.2,262.9 372.4,258.6 378.7,282.2 384.9,276.7 391.2,272.8 397.5,268.6 403.7,261.4 410.0,262.1 416.3,235.2 422.5,240.3 428.8,212.1 435.0,226.2 441.3,239.9 447.6,245.1 453.8,235.0 460.1,231.6 466.4,230.2 472.6,244.5 478.9,283.3 485.1,282.4 491.4,300.7 497.7,295.5 503.9,285.8 510.2,394.1 516.5,382.3 522.7,369.3 529.0,407.9 535.2,404.2 541.5,434.1 547.8,416.6 554.0,441.5 560.3,415.4 566.6,395.5 572.8,410.0 579.1,421.1 585.3,398.0 591.6,401.0 597.9,423.4 604.1,414.0 610.4,444.7 616.7,450.4 622.9,428.7 629.2,439.0 635.5,425.0 641.7,435.1 648.0,438.5 654.2,423.6 660.5,438.8 666.8,446.2 673.0,439.3 679.3,435.8 685.6,396.9 691.8,390.5"/>
<polyline points="128.2,255.6 134.4,255.2 140.7,204.4 147.0,224.7 153.2,213.4 159.5,255.1 165.8,271.7 172.0,284.7 178.3,247.1 184.5,266.9 190.8,245.4 197.1,241.1 203.3,246.5 209.6,259.7 215.9,269.7 222.1,260.6 228.4,251.3 234.6,256.8 240.9,254.6 247.2,248.3 253.4,249.9 259.7,248.9 266.0,305.8 272.2,290.3 278.5,272.4 284.7,289.3 291.0,250.3 297.3,252.1 303.5,258.0 309.8,267.1 316.1,268.1 322.3,261.2 328.6,258.2 334.8,259.8 341.1,258.7 347.4,261.1 353.6,263.9 359.9,259.8 366.2,257.1 372.4,252.6 378.7,278.8 384.9,273.5 391.2,269.7 397.5,266.0 403.7,260.2 410.0,259.6 416.3,234.5 422.5,237.4 428.8,208.9 435.0,222.7 441.3,234.6 447.6,240.3 453.8,231.3 460.1,229.2 466.4,229.0 472.6,241.7 478.9,281.9 485.1,280.7 491.4,298.0 497.7,293.4 503.9,283.2 510.2,392.7 516.5,382.0 522.7,367.7 529.0,405.8 535.2,402.4 541.5,430.0 547.8,414.3 554.0,439.0 560.3,411.8 566.6,389.7 572.8,404.6 579.1,417.5 585.3,395.1 591.6,395.7 597.9,417.9 604.1,409.5 610.4,440.1 616.7,445.0 622.9,421.1 629.2,432.0 635.5,421.1 641.7,431.6 648.0,435.3 654.2,418.4 660.5,433.9 666.8,441.8 673.0,435.6 679.3,429.6 685.6,392.6 691.8,384.7"/>
<polyline points="128.2,255.6 134.4,256.9 140.7,208.2 147.0,230.3 153.2,220.3 159.5,259.9 165.8,277.4 172.0,291.2 178.3,253.7 184.5,274.8 190.8,254.2 197.1,250.5 203.3,256.1 209.6,268.2 215.9,280.3 222.1,270.9 228.4,263.4 234.6,267.9 240.9,267.3 247.2,262.0 253.4,261.9 259.7,261.6 266.0,318.6 272.2,302.7 278.5,282.8 284.7,302.6 291.0,263.2 297.3,264.5 303.5,271.8 309.8,282.3 316.1,282.4 322.3,276.6 328.6,274.0 334.8,276.2 341.1,275.7 347.4,278.9 353.6,281.0 359.9,276.7 366.2,275.4 372.4,271.3 378.7,296.9 384.9,294.2 391.2,287.4 397.5,283.5 403.7,278.1 410.0,278.9 416.3,255.8 422.5,258.4 428.8,234.2 435.0,247.1 441.3,258.1 447.6,266.0 453.8,258.3 460.1,252.7 466.4,254.5 472.6,267.3 478.9,304.2 485.1,306.4 491.4,324.1 497.7,317.6 503.9,309.4 510.2,412.8 516.5,401.2 522.7,390.8 529.0,426.1 535.2,425.1 541.5,451.8 547.8,436.1 554.0,459.9 560.3,434.4 566.6,411.5 572.8,425.2 579.1,438.6 585.3,415.1 591.6,417.3 597.9,440.3 604.1,433.4 610.4,463.4 616.7,466.0 622.9,443.5 629.2,454.2 635.5,442.1 641.7,450.8 648.0,455.7 654.2,440.6 660.5,457.1 666.8,462.9 673.0,457.5 679.3,451.2 685.6,415.9 691.8,410.4"/>
<polyline points="128.2,255.6 134.4,256.8 140.7,208.0 147.0,230.1 153.2,220.0 159.5,259.5 165.8,276.9 172.0,291.9 178.3,253.4 184.5,275.2 190.8,253.5 197.1,250.1 203.3,255.5 209.6,267.0 215.9,280.7 222.1,270.7 228.4,261.4 234.6,267.1 240.9,265.8 247.2,259.9 253.4,261.0 259.7,261.0 266.0,316.7 272.2,301.7 278.5,282.3 284.7,302.3 291.0,263.1 297.3,266.5 303.5,271.7 309.8,283.7 316.1,284.0 322.3,277.0 328.6,274.5 334.8,277.7 341.1,276.5 347.4,278.8 353.6,285.1 359.9,278.9 366.2,278.2 372.4,274.6 378.7,299.9 384.9,296.6 391.2,291.0 397.5,284.7 403.7,281.1 410.0,281.7 416.3,257.4 422.5,260.2 428.8,235.1 435.0,246.3 441.3,257.8 447.6,262.9 453.8,255.1 460.1,254.5 466.4,252.1 472.6,267.5 478.9,304.9 485.1,307.2 491.4,321.3 497.7,317.1 503.9,309.1 510.2,413.1 516.5,401.9 522.7,390.6 529.0,426.0 535.2,423.3 541.5,453.3 547.8,437.6 554.0,457.8 560.3,433.7 566.6,411.2 572.8,426.8 579.1,436.4 585.3,414.8 591.6,417.3 597.9,439.5 604.1,432.2 610.4,460.8 616.7,464.9 622.9,441.9 629.2,454.1 635.5,442.5 641.7,449.8 648.0,453.8 654.2,436.3 660.5,452.8 666.8,457.1 673.0,450.5 679.3,446.2 685.6,410.3 691.8,403.7"/>
<polyline points="128.2,255.6 134.4,255.6 140.7,205.3 147.0,226.3 153.2,215.2 159.5,256.0 165.8,273.4 172.0,286.6 178.3,248.2 184.5,270.3 190.8,247.7 197.1,245.4 203.3,248.5 209.6,261.5 215.9,273.9 222.1,263.3 228.4,254.6 234.6,259.5 240.9,256.2 247.2,250.7 253.4,252.0 259.7,252.4 266.0,306.2 272.2,291.3 278.5,274.7 284.7,291.2 291.0,253.1 297.3,254.8 303.5,260.5 309.8,270.5 316.1,270.8 322.3,261.8 328.6,260.6 334.8,262.5 341.1,261.6 347.4,264.9 353.6,267.7 359.9,261.9 366.2,259.0 372.4,257.1 378.7,281.3 384.9,277.7 391.2,271.8 397.5,269.0 403.7,261.9 410.0,263.1 416.3,236.3 422.5,242.1 428.8,213.8 435.0,226.3 441.3,236.6 447.6,245.5 453.8,237.3 460.1,233.9 466.4,233.9 472.6,246.9 478.9,285.9 485.1,287.5 491.4,303.0 497.7,298.1 503.9,289.9 510.2,397.6 516.5,386.9 522.7,375.2 529.0,412.1 535.2,411.0 541.5,437.3 547.8,421.7 554.0,445.3 560.3,420.6 566.6,397.7 572.8,412.5 579.1,424.4 585.3,402.3 591.6,404.5 597.9,424.9 604.1,416.3 610.4,447.5 616.7,451.8 622.9,429.4 629.2,441.2 635.5,428.3 641.7,436.6 648.0,440.9 654.2,424.9 660.5,440.6 666.8,446.7 673.0,442.4 679.3,439.8 685.6,400.9 691.8,394.0"/>
<polyline points="128.2,255.6 134.4,256.3 140.7,206.8 147.0,228.7 153.2,217.7 159.5,258.7 165.8,275.5 172.0,289.4 178.3,251.1 184.5,272.8 190.8,251.9 197.1,249.1 203.3,251.8 209.6,265.2 215.9,278.1 222.1,267.8 228.4,260.2 234.6,266.3 240.9,264.6 247.2,256.7 253.4,257.1 259.7,259.4 266.0,315.0 272.2,298.1 278.5,278.5 284.7,300.4 291.0,258.7 297.3,260.9 303.5,269.0 309.8,277.7 316.1,277.8 322.3,271.7 328.6,270.5 334.8,272.8 341.1,272.4 347.4,274.9 353.6,278.6 359.9,273.3 366.2,272.5 372.4,268.2 378.7,291.7 384.9,288.7 391.2,285.2 397.5,280.0 403.7,272.9 410.0,273.4 416.3,249.5 422.5,251.9 428.8,226.1 435.0,239.0 441.3,249.9 447.6,255.0 453.8,246.1 460.1,244.4 466.4,244.4 472.6,258.6 478.9,296.3 485.1,297.0 491.4,314.7 497.7,308.1 503.9,300.6 510.2,406.7 516.5,396.6 522.7,384.6 529.0,420.9 535.2,416.7 541.5,443.5 547.8,426.9 554.0,451.3 560.3,426.4 566.6,403.0 572.8,418.8 579.1,431.1 585.3,408.7 591.6,411.5 597.9,433.1 604.1,424.8 610.4,453.2 616.7,458.5 622.9,435.7 629.2,446.5 635.5,435.7 641.7,444.0 648.0,449.1 654.2,433.1 660.5,448.9 666.8,455.5 673.0,449.2 679.3,445.1 685.6,408.5 691.8,402.5"/>
<polyline points="128.2,255.6 134.4,257.0 140.7,208.3 147.0,230.7 153.2,220.2 159.5,260.4 165.8,276.9 172.0,291.8 178.3,253.5 184.5,274.9 190.8,253.6 197.1,249.7 203.3,254.9 209.6,268.5 215.9,281.3 222.1,270.7 228.4,262.1 234.6,269.0 240.9,266.9 247.2,261.2 253.4,262.0 259.7,261.7 266.0,317.2 272.2,300.9 278.5,282.7 284.7,301.2 291.0,261.6 297.3,264.8 303.5,271.7 309.8,282.6 316.1,283.4 322.3,276.9 328.6,275.3 334.8,277.9 341.1,278.5 347.4,279.9 353.6,286.4 359.9,279.9 366.2,277.9 372.4,275.3 378.7,298.2 384.9,295.3 391.2,290.8 397.5,288.0 403.7,283.4 410.0,282.8 416.3,258.7 422.5,260.3 428.8,236.6 435.0,250.3 441.3,261.5 447.6,268.3 453.8,260.9 460.1,258.1 466.4,256.4 472.6,269.8 478.9,305.3 485.1,307.2 491.4,325.2 497.7,319.1 503.9,310.6 510.2,415.5 516.5,402.4 522.7,390.7 529.0,426.1 535.2,423.4 541.5,452.6 547.8,437.1 554.0,459.2 560.3,435.4 566.6,412.4 572.8,425.8 579.1,438.1 585.3,416.3 591.6,420.1 597.9,440.9 604.1,432.0 610.4,461.5 616.7,465.2 622.9,443.9 629.2,455.5 635.5,442.7 641.7,451.1 648.0,456.0 654.2,439.5 660.5,455.4 666.8,461.6 673.0,456.5 679.3,450.5 685.6,413.5 691.8,409.4"/>
<polyline points="128.2,255.6 134.4,255.7 140.7,205.6 147.0,226.5 153.2,215.7 159.5,256.5 165.8,273.8 172.0,287.0 178.3,247.2 184.5,270.0 190.8,247.3 197.1,244.4 203.3,248.4 209.6,262.3 215.9,274.8 222.1,264.7 228.4,255.2 234.6,261.4 240.9,259.0 247.2,252.9 253.4,253.3 259.7,253.5 266.0,310.6 272.2,294.2 278.5,275.2 284.7,293.3 291.0,254.8 297.3,256.6 303.5,262.5 309.8,271.9 316.1,273.7 322.3,265.6 328.6,263.5 334.8,265.7 341.1,264.4 347.4,267.8 353.6,270.9 359.9,264.4 366.2,261.2 372.4,258.7 378.7,283.9 384.9,280.2 391.2,275.3 397.5,269.5 403.7,266.5 410.0,266.8 416.3,240.1 422.5,244.3 428.8,218.7 435.0,232.0 441.3,242.7 447.6,249.9 453.8,240.7 460.1,238.1 466.4,236.9 472.6,250.8 478.9,287.2 485.1,287.8 491.4,305.0 497.7,299.3 503.9,291.3 510.2,398.5 516.5,387.7 522.7,374.3 529.0,411.0 535.2,408.5 541.5,436.7 547.8,420.3 554.0,444.8 560.3,417.1 566.6,395.0 572.8,409.4 579.1,419.7 585.3,397.0 591.6,400.4 597.9,422.1 604.1,413.5 610.4,445.0 616.7,450.3 622.9,427.1 629.2,437.1 635.5,423.7 641.7,432.9 648.0,439.4 654.2,422.9 660.5,440.4 666.8,445.8 673.0,440.6 679.3,435.9 685.6,394.9 691.8,387.4"/>
<polyline points="128.2,255.6 134.4,254.5 140.7,203.0 147.0,222.7 153.2,211.6 159.5,253.3 165.8,270.4 172.0,283.4 178.3,244.0 184.5,265.6 190.8,241.3 197.1,239.5 203.3,243.7 209.6,254.2 215.9,267.5 222.1,257.5 228.4,246.8 234.6,252.7 240.9,250.7 247.2,244.4 253.4,243.7 259.7,244.6 266.0,301.2 272.2,285.2 278.5,270.1 284.7,285.1 291.0,245.1 297.3,247.8 303.5,251.4 309.8,260.8 316.1,260.8 322.3,255.2 328.6,250.5 334.8,252.8 341.1,251.8 347.4,253.6 353.6,256.1 359.9,250.1 366.2,248.4 372.4,243.1 378.7,267.7 384.9,262.9 391.2,256.6 397.5,252.3 403.7,248.0 410.0,247.7 416.3,222.1 422.5,226.3 428.8,193.7 435.0,209.2 441.3,222.6 447.6,228.8 453.8,219.7 460.1,217.7 466.4,216.5 472.6,232.1 478.9,271.3 485.1,272.0 491.4,290.2 497.7,285.0 503.9,276.0 510.2,385.7 516.5,373.1 522.7,359.7 529.0,398.0 535.2,394.9 541.5,422.3 547.8,406.1 554.0,432.3 560.3,403.2 566.6,381.0 572.8,395.0 579.1,406.1 585.3,382.9 591.6,387.3 597.9,408.8 604.1,399.2 610.4,431.0 616.7,438.2 622.9,414.3 629.2,423.2 635.5,410.6 641.7,421.1 648.0,426.3 654.2,409.7 660.5,427.0 666.8,433.6 673.0,425.7 679.3,421.2 685.6,383.5 691.8,374.7"/>
</g>
<g fill="none" stroke="#97F0AA" stroke-width="1.67" stroke-linejoin="round" stroke-linecap="butt">
<polyline points="128.2,255.6 134.4,257.0 140.7,208.4 147.0,230.9 153.2,220.7 159.5,260.6 165.8,277.6 172.0,292.4 178.3,255.0 184.5,275.9 190.8,252.7 197.1,251.4 203.3,256.4 209.6,269.3 215.9,280.7 222.1,271.8 228.4,263.7 234.6,271.5 240.9,267.9 247.2,261.4 253.4,262.7 259.7,262.7 266.0,319.1 272.2,301.6 278.5,283.7 284.7,302.2 291.0,263.6 297.3,266.0 303.5,272.9 309.8,282.5 316.1,283.4 322.3,276.4 328.6,273.4 334.8,277.8 341.1,277.9 347.4,279.6 353.6,285.1 359.9,278.2 366.2,276.0 372.4,273.8 378.7,299.8 384.9,295.6 391.2,291.0 397.5,288.9 403.7,281.7 410.0,282.9 416.3,258.3 422.5,261.1 428.8,236.9 435.0,249.9 441.3,261.0 447.6,267.6 453.8,259.1 460.1,255.1 466.4,255.8 472.6,270.9 478.9,305.4 485.1,308.0 491.4,324.5 497.7,317.6 503.9,311.0 510.2,415.0 516.5,400.8 522.7,390.7 529.0,426.0 535.2,423.0 541.5,452.3 547.8,435.1 554.0,458.7 560.3,433.4 566.6,412.0 572.8,426.7 579.1,438.1 585.3,415.8 591.6,420.3 597.9,440.1 604.1,431.6 610.4,460.0 616.7,464.8 622.9,442.1 629.2,455.3 635.5,442.2 641.7,450.6 648.0,455.1 654.2,439.5 660.5,455.5 666.8,462.6 673.0,456.1 679.3,451.7 685.6,415.3 691.8,412.9"/>
<polyline points="128.2,255.6 134.4,256.7 140.7,207.8 147.0,230.1 153.2,219.2 159.5,260.0 165.8,276.6 172.0,290.3 178.3,253.7 184.5,275.2 190.8,253.8 197.1,251.5 203.3,254.9 209.6,268.3 215.9,281.0 222.1,271.6 228.4,262.1 234.6,269.3 240.9,267.2 247.2,259.3 253.4,261.9 259.7,261.3 266.0,316.3 272.2,300.7 278.5,283.0 284.7,301.6 291.0,262.5 297.3,264.0 303.5,270.2 309.8,281.2 316.1,279.0 322.3,273.7 328.6,271.9 334.8,275.7 341.1,274.3 347.4,277.5 353.6,282.0 359.9,275.8 366.2,275.9 372.4,273.0 378.7,297.6 384.9,293.9 391.2,289.1 397.5,283.5 403.7,280.1 410.0,279.8 416.3,255.3 422.5,258.8 428.8,233.8 435.0,248.1 441.3,258.7 447.6,264.3 453.8,254.8 460.1,255.3 466.4,255.7 472.6,269.7 478.9,307.0 485.1,308.1 491.4,324.9 497.7,318.1 503.9,310.5 510.2,413.6 516.5,402.6 522.7,391.8 529.0,427.7 535.2,425.7 541.5,452.5 547.8,435.0 554.0,458.6 560.3,433.2 566.6,411.5 572.8,426.1 579.1,436.4 585.3,415.3 591.6,418.0 597.9,440.2 604.1,431.3 610.4,460.9 616.7,464.2 622.9,440.5 629.2,452.6 635.5,441.1 641.7,450.4 648.0,454.1 654.2,437.7 660.5,454.9 666.8,459.7 673.0,453.1 679.3,451.3 685.6,412.5 691.8,407.6"/>
<polyline points="128.2,255.6 134.4,255.5 140.7,205.3 147.0,226.5 153.2,215.9 159.5,256.7 165.8,274.2 172.0,287.5 178.3,249.4 184.5,270.7 190.8,248.1 197.1,245.3 203.3,249.7 209.6,263.0 215.9,275.5 222.1,266.0 228.4,256.7 234.6,262.5 240.9,260.8 247.2,253.8 253.4,254.1 259.7,254.4 266.0,310.9 272.2,293.8 278.5,275.1 284.7,294.5 291.0,252.7 297.3,255.3 303.5,262.0 309.8,271.4 316.1,272.0 322.3,265.8 328.6,263.9 334.8,265.9 341.1,264.5 347.4,266.4 353.6,270.1 359.9,264.9 366.2,262.2 372.4,259.0 378.7,282.9 384.9,278.1 391.2,273.2 397.5,269.2 403.7,263.9 410.0,265.9 416.3,239.3 422.5,242.9 428.8,218.0 435.0,231.8 441.3,242.8 447.6,248.3 453.8,239.2 460.1,237.6 466.4,235.8 472.6,248.5 478.9,286.9 485.1,288.4 491.4,303.9 497.7,299.9 503.9,291.5 510.2,397.2 516.5,386.1 522.7,374.0 529.0,412.3 535.2,410.1 541.5,437.8 547.8,420.8 554.0,445.0 560.3,418.5 566.6,395.6 572.8,411.1 579.1,420.8 585.3,399.5 591.6,402.6 597.9,423.4 604.1,415.2 610.4,445.6 616.7,449.6 622.9,427.4 629.2,437.2 635.5,423.8 641.7,434.0 648.0,438.3 654.2,422.4 660.5,439.0 666.8,444.4 673.0,439.3 679.3,434.2 685.6,395.0 691.8,385.2"/>
<polyline points="128.2,255.6 134.4,257.3 140.7,209.1 147.0,231.8 153.2,221.6 159.5,261.3 165.8,278.3 172.0,293.1 178.3,255.6 184.5,276.4 190.8,255.6 197.1,252.8 203.3,257.3 209.6,270.4 215.9,282.6 222.1,273.8 228.4,265.3 234.6,271.5 240.9,269.8 247.2,263.6 253.4,264.7 259.7,264.7 266.0,321.1 272.2,304.4 278.5,285.1 284.7,305.0 291.0,265.8 297.3,268.7 303.5,276.1 309.8,286.0 316.1,286.6 322.3,280.6 328.6,278.3 334.8,281.2 341.1,280.6 347.4,284.0 353.6,288.5 359.9,282.9 366.2,281.2 372.4,279.5 378.7,303.8 384.9,300.7 391.2,295.9 397.5,291.5 403.7,286.8 410.0,287.2 416.3,263.6 422.5,265.8 428.8,242.0 435.0,254.5 441.3,265.8 447.6,272.4 453.8,264.1 460.1,261.3 466.4,260.7 472.6,274.9 478.9,310.9 485.1,313.1 491.4,329.0 497.7,323.7 503.9,315.8 510.2,418.6 516.5,406.5 522.7,397.4 529.0,432.6 535.2,429.6 541.5,458.3 547.8,441.7 554.0,464.4 560.3,439.4 566.6,418.4 572.8,432.6 579.1,443.6 585.3,421.8 591.6,424.7 597.9,446.2 604.1,438.3 610.4,466.6 616.7,470.7 622.9,448.5 629.2,459.8 635.5,448.5 641.7,456.4 648.0,460.9 654.2,444.5 660.5,460.9 666.8,466.6 673.0,460.9 679.3,456.4 685.6,420.1 691.8,416.1"/>
<polyline points="128.2,255.6 134.4,257.2 140.7,208.8 147.0,231.4 153.2,220.7 159.5,260.9 165.8,277.8 172.0,293.1 178.3,255.6 184.5,276.3 190.8,254.7 197.1,252.8 203.3,257.3 209.6,269.6 215.9,282.1 222.1,273.8 228.4,265.0 234.6,270.6 240.9,268.8 247.2,263.6 253.4,264.4 259.7,264.7 266.0,319.9 272.2,304.1 278.5,285.1 284.7,304.5 291.0,265.1 297.3,268.7 303.5,276.1 309.8,285.4 316.1,285.7 322.3,280.0 328.6,278.3 334.8,281.2 341.1,279.8 347.4,283.0 353.6,288.5 359.9,282.5 366.2,279.6 372.4,278.1 378.7,302.8 384.9,299.6 391.2,294.0 397.5,289.8 403.7,285.0 410.0,284.8 416.3,260.5 422.5,262.1 428.8,238.0 435.0,250.4 441.3,264.1 447.6,269.5 453.8,262.4 460.1,258.2 466.4,256.7 472.6,271.8 478.9,308.9 485.1,310.7 491.4,326.0 497.7,319.2 503.9,312.3 510.2,415.4 516.5,402.5 522.7,394.1 529.0,431.1 535.2,428.0 541.5,456.1 547.8,439.2 554.0,462.8 560.3,436.3 566.6,416.7 572.8,430.2 579.1,443.3 585.3,420.3 591.6,424.3 597.9,444.4 604.1,436.0 610.4,464.5 616.7,469.5 622.9,448.1 629.2,459.6 635.5,448.5 641.7,455.2 648.0,458.6 654.2,442.6 660.5,460.8 666.8,463.2 673.0,459.5 679.3,454.0 685.6,418.4 691.8,414.4"/>
<polyline points="128.2,255.6 134.4,256.1 140.7,206.7 147.0,228.4 153.2,217.7 159.5,258.3 165.8,275.3 172.0,289.8 178.3,251.5 184.5,273.4 190.8,250.3 197.1,248.7 203.3,253.3 209.6,266.9 215.9,277.9 222.1,269.2 228.4,260.3 234.6,265.1 240.9,264.5 247.2,256.9 253.4,257.4 259.7,259.6 266.0,314.1 272.2,297.7 278.5,279.4 284.7,298.0 291.0,259.8 297.3,261.3 303.5,267.6 309.8,278.9 316.1,278.1 322.3,272.0 328.6,268.3 334.8,271.8 341.1,270.5 347.4,275.4 353.6,279.1 359.9,273.6 366.2,270.9 372.4,267.3 378.7,291.2 384.9,289.7 391.2,283.2 397.5,278.3 403.7,272.5 410.0,272.6 416.3,247.3 422.5,249.5 428.8,222.5 435.0,235.0 441.3,247.1 447.6,253.9 453.8,244.5 460.1,242.7 466.4,240.6 472.6,256.6 478.9,295.8 485.1,296.2 491.4,312.2 497.7,307.7 503.9,298.9 510.2,406.2 516.5,394.1 522.7,383.4 529.0,419.7 535.2,416.3 541.5,445.6 547.8,428.3 554.0,453.5 560.3,427.7 566.6,404.5 572.8,417.7 579.1,431.1 585.3,409.0 591.6,411.8 597.9,433.6 604.1,423.9 610.4,455.7 616.7,458.0 622.9,437.5 629.2,446.0 635.5,434.0 641.7,443.1 648.0,446.0 654.2,428.6 660.5,446.7 666.8,451.6 673.0,445.3 679.3,441.0 685.6,401.9 691.8,398.2"/>
<polyline points="128.2,255.6 134.4,255.7 140.7,199.3 147.0,218.3 153.2,206.2 159.5,250.5 165.8,270.1 172.0,282.2 178.3,242.6 184.5,264.1 190.8,240.0 197.1,237.8 203.3,241.6 209.6,254.9 215.9,264.8 222.1,256.6 228.4,245.3 234.6,251.8 240.9,248.4 247.2,244.1 253.4,244.0 259.7,245.1 266.0,300.8 272.2,285.2 278.5,267.9 284.7,284.3 291.0,243.7 297.3,245.0 303.5,251.5 309.8,261.9 316.1,260.7 322.3,253.7 328.6,253.1 334.8,253.4 341.1,253.1 347.4,255.0 353.6,256.0 359.9,249.8 366.2,246.9 372.4,244.8 378.7,269.1 384.9,263.5 391.2,257.7 397.5,251.9 403.7,246.3 410.0,247.8 416.3,218.8 422.5,223.8 428.8,195.8 435.0,208.8 441.3,220.9 447.6,227.9 453.8,220.1 460.1,214.5 466.4,215.3 472.6,227.7 478.9,266.3 485.1,266.4 491.4,282.2 497.7,277.2 503.9,264.5 510.2,373.6 516.5,363.2 522.7,346.7 529.0,385.2 535.2,383.0 541.5,410.6 547.8,394.6 554.0,420.1 560.3,391.8 566.6,368.7 572.8,383.9 579.1,397.5 585.3,373.4 591.6,375.7 597.9,399.4 604.1,389.9 610.4,421.2 616.7,428.0 622.9,402.3 629.2,413.5 635.5,397.9 641.7,408.4 648.0,411.6 654.2,394.3 660.5,409.3 666.8,416.6 673.0,410.8 679.3,404.6 685.6,364.6 691.8,351.5"/>
<polyline points="128.2,255.6 134.4,255.0 140.7,201.4 147.0,220.4 153.2,208.8 159.5,251.5 165.8,269.6 172.0,280.9 178.3,241.4 184.5,262.9 190.8,239.2 197.1,235.3 203.3,240.1 209.6,252.3 215.9,264.9 222.1,254.4 228.4,244.3 234.6,248.4 240.9,245.3 247.2,241.8 253.4,240.2 259.7,240.1 266.0,297.1 272.2,281.8 278.5,262.8 284.7,279.7 291.0,238.0 297.3,240.1 303.5,246.7 309.8,253.4 316.1,254.5 322.3,246.8 328.6,242.3 334.8,244.0 341.1,241.9 347.4,244.0 353.6,245.7 359.9,239.5 366.2,236.1 372.4,232.9 378.7,255.8 384.9,252.1 391.2,247.3 397.5,243.0 403.7,236.8 410.0,235.3 416.3,206.8 422.5,212.9 428.8,182.9 435.0,200.7 441.3,213.7 447.6,222.5 453.8,213.0 460.1,210.1 466.4,210.3 472.6,222.2 478.9,260.9 485.1,258.4 491.4,274.4 497.7,267.4 503.9,256.0 510.2,351.7 516.5,342.4 522.7,323.0 529.0,361.6 535.2,361.3 541.5,390.5 547.8,373.7 554.0,400.1 560.3,371.7 566.6,348.8 572.8,365.4 579.1,376.4 585.3,353.1 591.6,354.9 597.9,377.0 604.1,367.4 610.4,401.7 616.7,405.2 622.9,380.1 629.2,388.7 635.5,374.3 641.7,386.8 648.0,392.0 654.2,376.3 660.5,392.2 666.8,399.6 673.0,394.7 679.3,388.8 685.6,346.6 691.8,333.3"/>
<polyline points="128.2,255.6 134.4,255.6 140.7,199.3 147.0,218.4 153.2,206.3 159.5,250.7 165.8,270.2 172.0,282.0 178.3,241.9 184.5,264.6 190.8,240.4 197.1,237.0 203.3,241.6 209.6,253.8 215.9,265.8 222.1,256.1 228.4,245.2 234.6,251.5 240.9,249.1 247.2,243.7 253.4,244.5 259.7,244.0 266.0,299.8 272.2,283.3 278.5,267.8 284.7,284.8 291.0,243.1 297.3,247.5 303.5,250.9 309.8,260.3 316.1,259.5 322.3,254.4 328.6,251.2 334.8,255.3 341.1,253.1 347.4,254.8 353.6,258.7 359.9,253.0 366.2,248.2 372.4,246.7 378.7,270.6 384.9,265.3 391.2,258.9 397.5,254.4 403.7,247.8 410.0,248.7 416.3,219.0 422.5,224.9 428.8,195.8 435.0,209.4 441.3,219.2 447.6,227.2 453.8,218.5 460.1,215.4 466.4,215.4 472.6,230.4 478.9,269.7 485.1,267.5 491.4,284.6 497.7,276.0 503.9,264.0 510.2,366.1 516.5,357.4 522.7,339.6 529.0,378.8 535.2,376.2 541.5,406.5 547.8,387.7 554.0,414.9 560.3,386.0 566.6,363.8 572.8,378.9 579.1,390.5 585.3,367.3 591.6,369.6 597.9,392.4 604.1,382.3 610.4,414.2 616.7,421.6 622.9,394.8 629.2,405.2 635.5,391.6 641.7,404.2 648.0,406.6 654.2,388.8 660.5,405.1 666.8,411.8 673.0,405.9 679.3,400.2 685.6,359.8 691.8,345.0"/>
<polyline points="128.2,255.6 134.4,255.7 140.7,199.4 147.0,218.3 153.2,206.5 159.5,250.5 165.8,270.0 172.0,281.5 178.3,242.7 184.5,265.4 190.8,240.4 197.1,236.8 203.3,242.1 209.6,254.3 215.9,266.1 222.1,256.0 228.4,246.5 234.6,253.9 240.9,249.2 247.2,244.5 253.4,245.1 259.7,246.0 266.0,301.1 272.2,286.1 278.5,268.0 284.7,284.6 291.0,244.8 297.3,247.1 303.5,251.3 309.8,261.1 316.1,260.5 322.3,256.1 328.6,253.1 334.8,253.3 341.1,252.5 347.4,256.9 353.6,259.0 359.9,253.7 366.2,251.8 372.4,248.2 378.7,270.4 384.9,267.4 391.2,260.9 397.5,256.4 403.7,250.8 410.0,248.6 416.3,221.7 422.5,227.1 428.8,197.6 435.0,212.2 441.3,224.4 447.6,228.9 453.8,219.3 460.1,218.4 466.4,217.6 472.6,231.0 478.9,270.3 485.1,270.2 491.4,285.5 497.7,277.6 503.9,266.4 510.2,374.1 516.5,365.9 522.7,350.6 529.0,389.0 535.2,386.3 541.5,414.2 547.8,397.7 554.0,423.7 560.3,393.1 566.6,370.9 572.8,386.7 579.1,400.4 585.3,375.0 591.6,378.8 597.9,401.8 604.1,391.9 610.4,425.6 616.7,430.2 622.9,405.7 629.2,417.7 635.5,402.6 641.7,413.8 648.0,418.9 654.2,401.7 660.5,415.9 666.8,423.1 673.0,415.9 679.3,409.7 685.6,368.9 691.8,357.9"/>
<polyline points="128.2,255.6 134.4,255.5 140.7,199.6 147.0,218.7 153.2,206.6 159.5,250.9 165.8,270.0 172.0,281.9 178.3,241.5 184.5,263.6 190.8,239.7 197.1,237.8 203.3,240.8 209.6,254.6 215.9,266.5 222.1,256.2 228.4,246.2 234.6,252.1 240.9,248.0 247.2,242.7 253.4,244.2 259.7,243.8 266.0,301.6 272.2,284.6 278.5,266.8 284.7,283.0 291.0,243.8 297.3,244.3 303.5,250.1 309.8,259.0 316.1,259.1 322.3,253.5 328.6,250.7 334.8,253.6 341.1,252.9 347.4,253.7 353.6,255.5 359.9,250.4 366.2,247.9 372.4,245.1 378.7,268.4 384.9,264.4 391.2,258.9 397.5,254.6 403.7,248.5 410.0,246.7 416.3,218.1 422.5,222.9 428.8,193.3 435.0,208.4 441.3,221.3 447.6,226.7 453.8,218.2 460.1,216.6 466.4,214.3 472.6,227.2 478.9,266.8 485.1,265.3 491.4,283.3 497.7,275.5 503.9,262.0 510.2,360.5 516.5,351.2 522.7,332.5 529.0,370.7 535.2,369.7 541.5,397.8 547.8,381.8 554.0,408.7 560.3,378.0 566.6,354.1 572.8,369.8 579.1,383.4 585.3,358.1 591.6,361.6 597.9,384.9 604.1,375.8 610.4,408.8 616.7,413.9 622.9,388.8 629.2,399.6 635.5,384.2 641.7,397.2 648.0,403.6 654.2,386.4 660.5,400.5 666.8,407.7 673.0,402.6 679.3,398.3 685.6,354.9 691.8,343.3"/>
<polyline points="128.2,255.6 134.4,255.6 140.7,199.5 147.0,218.9 153.2,206.9 159.5,251.2 165.8,270.0 172.0,281.8 178.3,243.6 184.5,265.0 190.8,240.5 197.1,236.5 203.3,241.3 209.6,253.4 215.9,265.5 222.1,255.6 228.4,247.3 234.6,253.5 240.9,248.8 247.2,241.3 253.4,244.6 259.7,244.7 266.0,299.2 272.2,283.0 278.5,267.6 284.7,283.6 291.0,242.6 297.3,244.7 303.5,249.9 309.8,258.9 316.1,260.5 322.3,254.9 328.6,250.7 334.8,254.9 341.1,252.0 347.4,254.9 353.6,256.5 359.9,251.7 366.2,248.8 372.4,244.7 378.7,269.4 384.9,264.7 391.2,260.0 397.5,253.3 403.7,247.9 410.0,247.6 416.3,219.7 422.5,225.4 428.8,193.4 435.0,208.2 441.3,220.4 447.6,227.3 453.8,217.2 460.1,214.5 466.4,214.7 472.6,227.2 478.9,267.8 485.1,265.8 491.4,281.4 497.7,273.9 503.9,265.0 510.2,364.2 516.5,352.3 522.7,333.3 529.0,372.0 535.2,368.3 541.5,398.2 547.8,384.4 554.0,408.9 560.3,381.6 566.6,359.2 572.8,373.7 579.1,387.1 585.3,363.1 591.6,363.8 597.9,387.7 604.1,378.6 610.4,412.2 616.7,419.2 622.9,394.5 629.2,404.9 635.5,390.1 641.7,400.1 648.0,405.2 654.2,388.3 660.5,404.6 666.8,410.3 673.0,404.7 679.3,398.5 685.6,356.2 691.8,343.5"/>
<polyline points="128.2,255.6 134.4,255.3 140.7,200.5 147.0,220.0 153.2,207.9 159.5,251.1 165.8,269.3 172.0,281.4 178.3,242.7 184.5,263.2 190.8,238.9 197.1,237.1 203.3,239.3 209.6,253.1 215.9,265.5 222.1,255.1 228.4,244.5 234.6,250.0 240.9,248.2 247.2,239.9 253.4,242.1 259.7,242.6 266.0,298.4 272.2,282.5 278.5,263.9 284.7,279.4 291.0,241.5 297.3,242.5 303.5,247.5 309.8,256.9 316.1,255.6 322.3,249.2 328.6,247.1 334.8,247.9 341.1,247.0 347.4,250.0 353.6,251.0 359.9,246.0 366.2,244.8 372.4,240.0 378.7,263.6 384.9,258.9 391.2,254.2 397.5,248.9 403.7,241.5 410.0,244.2 416.3,214.3 422.5,220.5 428.8,190.1 435.0,205.5 441.3,218.1 447.6,225.0 453.8,216.5 460.1,214.0 466.4,213.6 472.6,224.7 478.9,265.4 485.1,263.1 491.4,278.5 497.7,270.8 503.9,259.0 510.2,357.5 516.5,344.9 522.7,326.1 529.0,364.9 535.2,363.5 541.5,393.1 547.8,377.1 554.0,404.4 560.3,374.4 566.6,349.8 572.8,366.0 579.1,379.0 585.3,354.1 591.6,356.5 597.9,380.1 604.1,370.5 610.4,402.9 616.7,410.3 622.9,385.0 629.2,394.5 635.5,379.3 641.7,390.3 648.0,395.7 654.2,378.7 660.5,395.6 666.8,402.2 673.0,395.6 679.3,391.3 685.6,348.4 691.8,333.7"/>
<polyline points="128.2,255.6 134.4,254.5 140.7,203.0 147.0,222.4 153.2,210.3 159.5,251.8 165.8,268.8 172.0,279.8 178.3,240.6 184.5,262.6 190.8,237.8 197.1,234.2 203.3,238.8 209.6,250.3 215.9,261.2 222.1,251.5 228.4,240.4 234.6,245.2 240.9,241.4 247.2,234.5 253.4,235.1 259.7,235.5 266.0,291.4 272.2,276.5 278.5,259.9 284.7,275.8 291.0,232.2 297.3,234.0 303.5,236.5 309.8,246.7 316.1,246.0 322.3,238.1 328.6,232.6 334.8,235.7 341.1,233.4 347.4,232.9 353.6,234.8 359.9,229.7 366.2,227.9 372.4,224.0 378.7,245.6 384.9,245.4 391.2,237.6 397.5,235.6 403.7,230.3 410.0,228.1 416.3,197.5 422.5,204.7 428.8,174.0 435.0,193.7 441.3,209.9 447.6,216.2 453.8,208.2 460.1,204.6 466.4,202.1 472.6,214.3 478.9,254.5 485.1,249.7 491.4,264.7 497.7,258.1 503.9,247.7 510.2,349.5 516.5,338.0 522.7,316.7 529.0,357.9 535.2,356.3 541.5,384.1 547.8,368.6 554.0,395.1 560.3,364.8 566.6,341.6 572.8,359.3 579.1,372.1 585.3,346.1 591.6,347.8 597.9,373.4 604.1,361.9 610.4,396.1 616.7,401.7 622.9,377.0 629.2,387.0 635.5,371.7 641.7,384.9 648.0,388.6 654.2,370.3 660.5,386.3 666.8,392.2 673.0,386.5 679.3,381.8 685.6,337.7 691.8,324.5"/>
<polyline points="128.2,255.6 134.4,254.9 140.7,201.6 147.0,220.9 153.2,209.2 159.5,251.5 165.8,269.8 172.0,280.8 178.3,241.7 184.5,263.0 190.8,237.9 197.1,235.6 203.3,238.7 209.6,253.2 215.9,263.8 222.1,253.0 228.4,243.3 234.6,247.7 240.9,244.8 247.2,237.4 253.4,237.9 259.7,239.4 266.0,295.4 272.2,280.0 278.5,263.3 284.7,278.1 291.0,237.3 297.3,238.1 303.5,243.5 309.8,252.1 316.1,250.5 322.3,245.5 328.6,240.7 334.8,242.8 341.1,241.2 347.4,243.9 353.6,244.2 359.9,239.1 366.2,235.8 372.4,232.1 378.7,257.7 384.9,252.3 391.2,244.9 397.5,240.2 403.7,234.4 410.0,233.8 416.3,202.6 422.5,208.6 428.8,177.9 435.0,196.9 441.3,211.2 447.6,219.1 453.8,208.5 460.1,207.0 466.4,204.8 472.6,216.7 478.9,257.7 485.1,254.7 491.4,270.7 497.7,264.3 503.9,251.5 510.2,351.6 516.5,342.9 522.7,320.3 529.0,362.3 535.2,358.9 541.5,388.9 547.8,373.0 554.0,399.0 560.3,369.4 566.6,346.7 572.8,361.5 579.1,375.3 585.3,349.5 591.6,354.2 597.9,376.1 604.1,367.1 610.4,401.0 616.7,406.6 622.9,380.1 629.2,390.1 635.5,375.8 641.7,388.8 648.0,392.4 654.2,374.5 660.5,389.1 666.8,396.5 673.0,390.6 679.3,386.9 685.6,344.5 691.8,331.7"/>
<polyline points="128.2,255.6 134.4,255.7 140.7,199.3 147.0,218.3 153.2,206.8 159.5,250.7 165.8,269.7 172.0,283.0 178.3,242.2 184.5,264.4 190.8,241.1 197.1,238.4 203.3,242.7 209.6,254.5 215.9,268.0 222.1,256.1 228.4,247.7 234.6,253.0 240.9,250.3 247.2,243.4 253.4,244.9 259.7,244.8 266.0,300.0 272.2,284.0 278.5,267.5 284.7,284.1 291.0,244.0 297.3,246.1 303.5,251.3 309.8,261.4 316.1,262.2 322.3,254.6 328.6,251.6 334.8,253.4 341.1,252.4 347.4,253.7 353.6,257.9 359.9,251.5 366.2,249.8 372.4,245.0 378.7,268.1 384.9,264.3 391.2,257.8 397.5,251.5 403.7,247.5 410.0,247.1 416.3,219.5 422.5,222.6 428.8,195.9 435.0,209.2 441.3,220.2 447.6,224.2 453.8,217.1 460.1,217.7 466.4,216.7 472.6,228.4 478.9,269.3 485.1,267.4 491.4,283.5 497.7,276.6 503.9,264.4 510.2,370.0 516.5,359.0 522.7,342.7 529.0,381.7 535.2,380.4 541.5,409.0 547.8,392.5 554.0,417.6 560.3,389.1 566.6,364.7 572.8,382.6 579.1,393.7 585.3,369.0 591.6,371.7 597.9,394.7 604.1,382.6 610.4,416.8 616.7,423.6 622.9,398.1 629.2,408.8 635.5,393.7 641.7,405.6 648.0,410.3 654.2,393.1 660.5,409.3 666.8,415.3 673.0,408.7 679.3,402.4 685.6,362.2 691.8,348.9"/>
<polyline points="128.2,255.6 134.4,255.6 140.7,199.3 147.0,218.5 153.2,207.0 159.5,250.9 165.8,270.0 172.0,281.9 178.3,241.9 184.5,264.4 190.8,240.4 197.1,238.4 203.3,242.6 209.6,255.1 215.9,267.2 222.1,256.5 228.4,245.8 234.6,251.9 240.9,249.9 247.2,242.8 253.4,243.0 259.7,244.5 266.0,300.9 272.2,285.3 278.5,267.7 284.7,285.7 291.0,244.5 297.3,247.2 303.5,251.7 309.8,260.8 316.1,261.1 322.3,253.6 328.6,251.5 334.8,254.0 341.1,252.4 347.4,255.8 353.6,257.4 359.9,252.6 366.2,251.0 372.4,246.6 378.7,270.3 384.9,267.2 391.2,260.4 397.5,253.4 403.7,247.7 410.0,248.2 416.3,219.8 422.5,223.6 428.8,193.8 435.0,208.6 441.3,220.7 447.6,227.6 453.8,217.4 460.1,217.7 466.4,215.3 472.6,231.1 478.9,270.8 485.1,268.7 491.4,282.9 497.7,277.2 503.9,264.6 510.2,365.4 516.5,355.9 522.7,338.3 529.0,377.3 535.2,375.4 541.5,404.6 547.8,385.0 554.0,412.9 560.3,383.7 566.6,361.1 572.8,376.2 579.1,387.2 585.3,365.2 591.6,366.1 597.9,390.5 604.1,380.8 610.4,412.8 616.7,419.3 622.9,393.3 629.2,404.9 635.5,392.0 641.7,402.8 648.0,408.5 654.2,390.8 660.5,406.7 666.8,412.0 673.0,406.5 679.3,400.3 685.6,358.9 691.8,345.7"/>
<polyline points="128.2,255.6 134.4,255.4 140.7,200.2 147.0,219.6 153.2,207.4 159.5,251.0 165.8,269.8 172.0,281.7 178.3,242.7 184.5,264.7 190.8,238.4 197.1,238.1 203.3,240.2 209.6,254.0 215.9,265.0 222.1,255.1 228.4,244.7 234.6,250.7 240.9,246.6 247.2,239.3 253.4,240.7 259.7,240.9 266.0,298.8 272.2,283.3 278.5,265.1 284.7,282.8 291.0,239.9 297.3,242.8 303.5,248.0 309.8,256.5 316.1,257.7 322.3,249.7 328.6,248.1 334.8,250.2 341.1,246.3 347.4,247.9 353.6,252.4 359.9,246.0 366.2,241.5 372.4,239.1 378.7,263.4 384.9,258.5 391.2,252.8 397.5,247.2 403.7,241.3 410.0,241.8 416.3,212.3 422.5,217.7 428.8,189.0 435.0,204.0 441.3,216.3 447.6,223.8 453.8,213.2 460.1,210.6 466.4,209.4 472.6,224.0 478.9,263.3 485.1,262.1 491.4,277.9 497.7,271.7 503.9,259.9 510.2,357.7 516.5,347.9 522.7,326.4 529.0,367.8 535.2,367.4 541.5,396.3 547.8,378.3 554.0,405.9 560.3,375.8 566.6,354.8 572.8,369.8 579.1,382.4 585.3,357.0 591.6,357.4 597.9,382.5 604.1,373.4 610.4,405.3 616.7,411.3 622.9,387.4 629.2,397.9 635.5,381.8 641.7,391.6 648.0,397.3 654.2,382.2 660.5,396.6 666.8,403.1 673.0,400.0 679.3,393.4 685.6,352.0 691.8,338.6"/>
<polyline points="128.2,255.6 134.4,254.7 140.7,202.5 147.0,222.1 153.2,209.9 159.5,251.4 165.8,269.0 172.0,281.2 178.3,239.7 184.5,262.8 190.8,236.3 197.1,235.7 203.3,239.4 209.6,251.3 215.9,262.6 222.1,253.7 228.4,242.4 234.6,246.1 240.9,243.6 247.2,236.6 253.4,237.3 259.7,237.8 266.0,293.0 272.2,277.9 278.5,260.9 284.7,274.4 291.0,232.8 297.3,234.4 303.5,238.7 309.8,248.3 316.1,246.7 322.3,239.9 328.6,236.0 334.8,236.4 341.1,234.9 347.4,234.4 353.6,235.6 359.9,232.2 366.2,227.5 372.4,226.6 378.7,248.5 384.9,244.7 391.2,239.0 397.5,233.7 403.7,228.4 410.0,229.3 416.3,198.4 422.5,204.8 428.8,175.2 435.0,193.2 441.3,207.5 447.6,214.1 453.8,204.2 460.1,204.7 466.4,202.1 472.6,213.3 478.9,252.4 485.1,248.9 491.4,262.7 497.7,257.1 503.9,245.2 510.2,348.9 516.5,336.9 522.7,315.3 529.0,358.7 535.2,356.8 541.5,386.9 547.8,370.1 554.0,397.1 560.3,367.5 566.6,344.4 572.8,359.4 579.1,370.7 585.3,345.1 591.6,349.0 597.9,371.1 604.1,361.9 610.4,397.1 616.7,403.1 622.9,377.7 629.2,388.6 635.5,372.9 641.7,386.4 648.0,390.4 654.2,372.1 660.5,387.2 666.8,395.2 673.0,389.0 679.3,385.2 685.6,344.4 691.8,329.0"/>
<polyline points="128.2,255.6 134.4,255.5 140.7,200.0 147.0,219.1 153.2,207.0 159.5,250.8 165.8,269.8 172.0,281.6 178.3,242.8 184.5,265.2 190.8,240.7 197.1,237.3 203.3,241.4 209.6,254.1 215.9,266.7 222.1,256.1 228.4,245.0 234.6,251.3 240.9,247.9 247.2,242.3 253.4,243.2 259.7,242.4 266.0,298.3 272.2,283.4 278.5,265.7 284.7,283.1 291.0,243.1 297.3,245.6 303.5,249.6 309.8,258.1 316.1,258.6 322.3,253.3 328.6,248.7 334.8,250.9 341.1,249.4 347.4,252.1 353.6,253.2 359.9,249.2 366.2,245.9 372.4,243.3 378.7,265.4 384.9,260.6 391.2,254.8 397.5,252.3 403.7,244.2 410.0,246.2 416.3,217.2 422.5,222.5 428.8,193.4 435.0,208.3 441.3,221.8 447.6,228.4 453.8,217.6 460.1,216.9 466.4,216.2 472.6,228.8 478.9,269.1 485.1,268.4 491.4,282.6 497.7,275.7 503.9,264.4 510.2,360.8 516.5,350.6 522.7,330.6 529.0,370.5 535.2,368.5 541.5,396.0 547.8,380.4 554.0,405.2 560.3,376.9 566.6,354.3 572.8,369.7 579.1,382.8 585.3,358.7 591.6,363.0 597.9,386.3 604.1,376.2 610.4,409.6 616.7,415.9 622.9,389.4 629.2,398.6 635.5,384.9 641.7,396.9 648.0,401.2 654.2,383.2 660.5,399.7 666.8,404.9 673.0,399.1 679.3,395.7 685.6,352.4 691.8,337.5"/>
</g>
<g fill="none" stroke="#FF9F9A" stroke-width="1.67" stroke-linejoin="round" stroke-linecap="butt">
<polyline points="128.2,255.6 134.4,253.8 140.7,202.0 147.0,219.5 153.2,206.2 159.5,248.5 165.8,264.9 172.0,275.0 178.3,231.9 184.5,255.1 190.8,224.6 197.1,222.1 203.3,225.0 209.6,237.6 215.9,248.0 222.1,238.1 228.4,225.0 234.6,230.2 240.9,223.6 247.2,218.4 253.4,218.7 259.7,221.3 266.0,274.1 272.2,261.3 278.5,246.4 284.7,255.2 291.0,213.3 297.3,213.5 303.5,214.2 309.8,223.0 316.1,221.4 322.3,215.9 328.6,210.6 334.8,213.2 341.1,209.8 347.4,209.8 353.6,209.3 359.9,204.0 366.2,199.1 372.4,191.7 378.7,212.6 384.9,205.2 391.2,196.1 397.5,189.1 403.7,180.5 410.0,180.7 416.3,141.4 422.5,150.5 428.8,110.5 435.0,130.8 441.3,141.7 447.6,144.9 453.8,133.6 460.1,131.7 466.4,129.5 472.6,150.3 478.9,203.4 485.1,197.9 491.4,211.3 497.7,211.6 503.9,204.2 510.2,342.4 516.5,339.4 522.7,313.3 529.0,354.8 535.2,354.9 541.5,380.7 547.8,364.8 554.0,392.4 560.3,363.6 566.6,339.7 572.8,356.4 579.1,369.8 585.3,343.8 591.6,345.9 597.9,369.8 604.1,359.7 610.4,397.0 616.7,407.0 622.9,377.5 629.2,385.0 635.5,364.3 641.7,380.1 648.0,387.2 654.2,369.8 660.5,386.6 666.8,393.4 673.0,386.9 679.3,378.9 685.6,341.2 691.8,322.6"/>
<polyline points="128.2,255.6 134.4,253.1 140.7,199.9 147.0,217.0 153.2,203.5 159.5,245.5 165.8,262.5 172.0,271.5 178.3,228.9 184.5,251.4 190.8,219.7 197.1,217.0 203.3,218.3 209.6,231.0 215.9,240.2 222.1,228.5 228.4,218.2 234.6,220.7 240.9,216.0 247.2,208.9 253.4,208.5 259.7,209.4 266.0,264.2 272.2,251.9 278.5,238.0 284.7,245.6 291.0,202.6 297.3,203.9 303.5,203.7 309.8,212.3 316.1,210.4 322.3,203.9 328.6,199.5 334.8,199.8 341.1,197.1 347.4,197.0 353.6,196.3 359.9,189.5 366.2,185.1 372.4,176.7 378.7,197.6 384.9,190.4 391.2,180.3 397.5,173.8 403.7,165.2 410.0,165.3 416.3,124.9 422.5,134.9 428.8,93.7 435.0,112.9 441.3,126.6 447.6,130.7 453.8,118.7 460.1,115.4 466.4,115.0 472.6,129.8 478.9,183.4 485.1,177.4 491.4,195.1 497.7,197.7 503.9,189.9 510.2,326.5 516.5,324.8 522.7,298.2 529.0,340.8 535.2,340.2 541.5,365.7 547.8,350.8 554.0,380.2 560.3,347.5 566.6,322.2 572.8,339.7 579.1,354.2 585.3,327.1 591.6,328.4 597.9,352.8 604.1,342.6 610.4,380.9 616.7,388.8 622.9,361.0 629.2,367.8 635.5,347.4 641.7,362.1 648.0,367.9 654.2,351.8 660.5,367.7 666.8,373.6 673.0,366.6 679.3,359.6 685.6,315.8 691.8,294.4"/>
<polyline points="128.2,255.6 134.4,253.9 140.7,202.4 147.0,219.8 153.2,207.4 159.5,249.0 165.8,266.2 172.0,274.8 178.3,234.4 184.5,256.1 190.8,226.2 197.1,222.1 203.3,225.6 209.6,237.1 215.9,249.3 222.1,237.3 228.4,225.9 234.6,230.0 240.9,225.0 247.2,220.0 253.4,220.0 259.7,219.8 266.0,273.4 272.2,260.5 278.5,246.7 284.7,254.3 291.0,212.5 297.3,212.2 303.5,213.2 309.8,224.9 316.1,223.5 322.3,218.2 328.6,212.7 334.8,213.7 341.1,212.3 347.4,211.9 353.6,211.7 359.9,205.6 366.2,199.1 372.4,192.2 378.7,213.0 384.9,204.5 391.2,197.5 397.5,190.5 403.7,183.0 410.0,184.3 416.3,145.9 422.5,152.9 428.8,113.1 435.0,131.5 441.3,143.2 447.6,148.0 453.8,136.7 460.1,133.0 466.4,132.4 472.6,151.3 478.9,206.6 485.1,199.3 491.4,213.6 497.7,215.0 503.9,206.5 510.2,344.3 516.5,343.6 522.7,318.6 529.0,356.7 535.2,358.0 541.5,382.5 547.8,369.1 554.0,396.1 560.3,366.4 566.6,343.0 572.8,359.0 579.1,373.5 585.3,349.5 591.6,350.6 597.9,373.4 604.1,362.9 610.4,401.5 616.7,410.1 622.9,382.0 629.2,386.2 635.5,367.2 641.7,383.1 648.0,389.4 654.2,374.4 660.5,388.7 666.8,396.3 673.0,390.3 679.3,382.6 685.6,343.9 691.8,327.6"/>
<polyline points="128.2,255.6 134.4,253.2 140.7,200.2 147.0,217.5 153.2,204.2 159.5,246.1 165.8,262.9 172.0,272.0 178.3,228.6 184.5,251.8 190.8,221.4 197.1,218.7 203.3,219.2 209.6,232.4 215.9,242.4 222.1,230.2 228.4,217.7 234.6,222.1 240.9,216.3 247.2,210.4 253.4,209.4 259.7,211.9 266.0,266.4 272.2,253.1 278.5,237.5 284.7,247.1 291.0,205.2 297.3,204.2 303.5,205.7 309.8,214.8 316.1,213.5 322.3,205.9 328.6,200.1 334.8,202.0 341.1,198.8 347.4,196.5 353.6,197.4 359.9,189.6 366.2,185.4 372.4,178.3 378.7,198.6 384.9,191.0 391.2,182.0 397.5,175.6 403.7,166.9 410.0,168.0 416.3,128.6 422.5,136.9 428.8,93.9 435.0,112.8 441.3,128.5 447.6,132.3 453.8,121.4 460.1,120.8 466.4,118.1 472.6,136.2 478.9,187.8 485.1,182.6 491.4,199.6 497.7,201.8 503.9,192.4 510.2,329.9 516.5,327.6 522.7,300.8 529.0,342.5 535.2,344.1 541.5,366.2 547.8,353.5 554.0,381.5 560.3,348.4 566.6,324.9 572.8,342.0 579.1,355.5 585.3,329.9 591.6,330.5 597.9,354.4 604.1,343.1 610.4,381.7 616.7,389.9 622.9,363.4 629.2,367.9 635.5,347.8 641.7,366.0 648.0,370.0 654.2,353.6 660.5,369.0 666.8,376.8 673.0,369.0 679.3,361.5 685.6,320.4 691.8,299.1"/>
<polyline points="128.2,255.6 134.4,254.0 140.7,202.5 147.0,220.0 153.2,207.0 159.5,249.1 165.8,266.1 172.0,275.3 178.3,233.3 184.5,255.5 190.8,228.1 197.1,224.1 203.3,224.9 209.6,238.0 215.9,249.9 222.1,237.1 228.4,224.6 234.6,230.6 240.9,225.3 247.2,219.7 253.4,219.0 259.7,219.9 266.0,275.7 272.2,262.0 278.5,247.5 284.7,257.5 291.0,213.2 297.3,212.8 303.5,214.5 309.8,224.0 316.1,222.0 322.3,217.1 328.6,213.0 334.8,214.0 341.1,211.7 347.4,209.2 353.6,210.9 359.9,203.9 366.2,199.5 372.4,189.7 378.7,211.8 384.9,203.5 391.2,198.2 397.5,191.5 403.7,181.3 410.0,182.5 416.3,144.4 422.5,153.3 428.8,113.5 435.0,132.8 441.3,144.2 447.6,149.8 453.8,135.7 460.1,134.6 466.4,132.0 472.6,151.4 478.9,208.0 485.1,200.8 491.4,212.5 497.7,214.6 503.9,206.3 510.2,343.1 516.5,343.0 522.7,317.2 529.0,358.8 535.2,359.1 541.5,383.5 547.8,370.0 554.0,396.7 560.3,366.6 566.6,344.3 572.8,358.6 579.1,372.4 585.3,347.2 591.6,349.9 597.9,373.4 604.1,363.8 610.4,400.1 616.7,409.7 622.9,383.2 629.2,388.9 635.5,368.2 641.7,384.0 648.0,391.1 654.2,377.5 660.5,390.0 666.8,398.7 673.0,392.7 679.3,384.8 685.6,345.4 691.8,328.4"/>
<polyline points="128.2,255.6 134.4,253.4 140.7,200.9 147.0,218.0 153.2,205.1 159.5,247.0 165.8,263.6 172.0,272.1 178.3,231.0 184.5,253.4 190.8,222.9 197.1,219.5 203.3,221.5 209.6,232.7 215.9,244.9 222.1,232.6 228.4,220.6 234.6,223.9 240.9,219.8 247.2,213.0 253.4,213.1 259.7,213.9 266.0,270.2 272.2,254.5 278.5,239.8 284.7,250.0 291.0,206.3 297.3,207.2 303.5,206.8 309.8,216.7 316.1,214.1 322.3,207.4 328.6,202.6 334.8,203.7 341.1,202.6 347.4,201.4 353.6,199.1 359.9,194.4 366.2,189.4 372.4,182.8 378.7,202.7 384.9,194.9 391.2,185.4 397.5,180.0 403.7,169.3 410.0,170.3 416.3,131.9 422.5,142.5 428.8,99.2 435.0,119.1 441.3,131.8 447.6,136.9 453.8,123.6 460.1,121.9 466.4,119.8 472.6,136.8 478.9,190.7 485.1,185.2 491.4,200.1 497.7,202.7 503.9,195.7 510.2,331.9 516.5,333.1 522.7,306.7 529.0,350.5 535.2,347.8 541.5,374.7 547.8,359.3 554.0,387.5 560.3,358.1 566.6,334.0 572.8,351.0 579.1,364.9 585.3,341.0 591.6,341.5 597.9,364.5 604.1,353.2 610.4,393.1 616.7,401.0 622.9,371.4 629.2,379.3 635.5,357.7 641.7,374.8 648.0,378.2 654.2,362.4 660.5,377.6 666.8,384.7 673.0,378.8 679.3,370.0 685.6,328.8 691.8,309.6"/>
<polyline points="128.2,255.6 134.4,253.7 140.7,201.8 147.0,219.3 153.2,206.2 159.5,248.1 165.8,265.1 172.0,273.2 178.3,231.4 184.5,254.9 190.8,224.9 197.1,220.4 203.3,224.5 209.6,237.8 215.9,247.9 222.1,236.3 228.4,223.6 234.6,228.4 240.9,222.4 247.2,216.9 253.4,217.0 259.7,217.4 266.0,271.8 272.2,259.1 278.5,244.2 284.7,252.8 291.0,210.5 297.3,210.6 303.5,212.9 309.8,221.2 316.1,220.5 322.3,214.0 328.6,209.8 334.8,212.6 341.1,209.4 347.4,208.6 353.6,208.6 359.9,202.7 366.2,197.0 372.4,188.3 378.7,211.1 384.9,202.3 391.2,193.3 397.5,185.3 403.7,176.7 410.0,177.5 416.3,139.6 422.5,149.4 428.8,108.2 435.0,127.8 441.3,139.5 447.6,144.0 453.8,132.3 460.1,132.0 466.4,129.3 472.6,146.2 478.9,201.4 485.1,195.4 491.4,208.1 497.7,208.7 503.9,202.2 510.2,339.7 516.5,338.4 522.7,314.3 529.0,355.8 535.2,356.4 541.5,381.6 547.8,365.2 554.0,393.2 560.3,363.5 566.6,337.9 572.8,356.5 579.1,370.3 585.3,345.5 591.6,346.6 597.9,368.9 604.1,360.4 610.4,398.5 616.7,404.9 622.9,378.1 629.2,385.2 635.5,364.8 641.7,381.5 648.0,386.6 654.2,372.4 660.5,385.7 666.8,393.6 673.0,387.6 679.3,377.7 685.6,338.4 691.8,317.2"/>
<polyline points="128.2,255.6 134.4,253.7 140.7,201.7 147.0,219.1 153.2,206.3 159.5,248.0 165.8,265.1 172.0,274.0 178.3,232.3 184.5,254.9 190.8,225.0 197.1,221.9 203.3,224.2 209.6,237.2 215.9,247.7 222.1,237.1 228.4,223.4 234.6,228.0 240.9,223.1 247.2,216.4 253.4,217.0 259.7,216.8 266.0,273.3 272.2,258.0 278.5,243.6 284.7,253.2 291.0,210.6 297.3,209.8 303.5,211.8 309.8,220.4 316.1,218.4 322.3,212.9 328.6,208.2 334.8,211.4 341.1,207.5 347.4,206.3 353.6,206.0 359.9,200.9 366.2,196.3 372.4,189.3 378.7,210.2 384.9,201.3 391.2,193.4 397.5,186.8 403.7,178.1 410.0,180.1 416.3,139.3 422.5,149.7 428.8,108.8 435.0,127.1 441.3,138.3 447.6,141.9 453.8,130.4 460.1,128.9 466.4,127.0 472.6,144.0 478.9,197.6 485.1,191.6 491.4,205.3 497.7,205.3 503.9,200.1 510.2,338.6 516.5,336.8 522.7,309.6 529.0,350.7 535.2,348.5 541.5,374.3 547.8,360.8 554.0,386.4 560.3,358.5 566.6,335.1 572.8,352.0 579.1,367.1 585.3,340.5 591.6,341.5 597.9,364.7 604.1,355.1 610.4,393.6 616.7,401.9 622.9,376.1 629.2,381.1 635.5,361.5 641.7,377.2 648.0,382.2 654.2,368.7 660.5,382.9 666.8,389.0 673.0,381.5 679.3,375.2 685.6,336.3 691.8,319.3"/>
<polyline points="128.2,255.6 134.4,253.5 140.7,201.2 147.0,218.4 153.2,205.2 159.5,247.5 165.8,264.3 172.0,273.3 178.3,231.5 184.5,254.4 190.8,222.7 197.1,220.6 203.3,222.2 209.6,234.5 215.9,244.8 222.1,235.6 228.4,221.4 234.6,226.5 240.9,222.0 247.2,216.3 253.4,214.3 259.7,214.9 266.0,270.3 272.2,257.4 278.5,243.3 284.7,251.5 291.0,208.0 297.3,209.0 303.5,209.2 309.8,218.5 316.1,217.0 322.3,210.5 328.6,205.7 334.8,209.6 341.1,205.2 347.4,204.4 353.6,201.8 359.9,196.8 366.2,191.0 372.4,184.2 378.7,203.2 384.9,195.6 391.2,187.5 397.5,180.0 403.7,171.4 410.0,172.3 416.3,135.2 422.5,144.4 428.8,101.7 435.0,121.7 441.3,134.4 447.6,137.9 453.8,126.7 460.1,125.9 466.4,124.9 472.6,140.7 478.9,194.8 485.1,188.9 491.4,202.3 497.7,203.3 503.9,194.9 510.2,333.8 516.5,332.5 522.7,307.6 529.0,347.3 535.2,347.7 541.5,371.6 547.8,358.1 554.0,386.2 560.3,355.0 566.6,331.0 572.8,348.0 579.1,363.4 585.3,337.6 591.6,338.6 597.9,362.7 604.1,353.1 610.4,390.2 616.7,398.2 622.9,371.9 629.2,379.1 635.5,359.0 641.7,372.8 648.0,378.9 654.2,364.2 660.5,378.8 666.8,384.4 673.0,379.3 679.3,370.5 685.6,330.6 691.8,313.0"/>
<polyline points="128.2,255.6 134.4,253.6 140.7,201.1 147.0,218.4 153.2,205.1 159.5,247.7 165.8,264.2 172.0,273.2 178.3,231.2 184.5,254.2 190.8,224.5 197.1,221.2 203.3,223.7 209.6,233.9 215.9,246.4 222.1,235.1 228.4,221.3 234.6,226.5 240.9,221.5 247.2,214.5 253.4,214.6 259.7,214.9 266.0,269.9 272.2,257.9 278.5,242.1 284.7,250.7 291.0,209.0 297.3,207.9 303.5,210.2 309.8,219.3 316.1,217.8 322.3,211.5 328.6,204.9 334.8,209.1 341.1,206.9 347.4,205.1 353.6,205.4 359.9,198.7 366.2,193.2 372.4,186.1 378.7,207.1 384.9,198.8 391.2,190.8 397.5,182.8 403.7,174.6 410.0,173.6 416.3,136.5 422.5,146.5 428.8,106.0 435.0,124.2 441.3,136.5 447.6,142.4 453.8,129.9 460.1,128.8 466.4,125.8 472.6,143.6 478.9,197.5 485.1,192.6 491.4,205.2 497.7,208.3 503.9,200.9 510.2,337.3 516.5,337.4 522.7,311.1 529.0,352.4 535.2,351.7 541.5,375.7 547.8,361.6 554.0,390.6 560.3,359.1 566.6,334.9 572.8,350.3 579.1,363.3 585.3,339.4 591.6,342.2 597.9,365.5 604.1,353.5 610.4,392.5 616.7,401.9 622.9,373.7 629.2,379.3 635.5,359.3 641.7,375.4 648.0,381.0 654.2,365.1 660.5,379.9 666.8,387.6 673.0,380.1 679.3,373.3 685.6,333.4 691.8,314.5"/>
<polyline points="128.2,255.6 134.4,253.3 140.7,200.5 147.0,217.7 153.2,204.1 159.5,246.7 165.8,263.6 172.0,271.5 178.3,230.0 184.5,252.8 190.8,223.0 197.1,219.2 203.3,220.9 209.6,232.8 215.9,244.7 222.1,232.5 228.4,220.1 234.6,222.7 240.9,217.5 247.2,212.0 253.4,212.4 259.7,212.3 266.0,268.2 272.2,254.1 278.5,239.6 284.7,248.9 291.0,205.5 297.3,205.1 303.5,206.3 309.8,215.4 316.1,212.8 322.3,205.9 328.6,202.0 334.8,204.0 341.1,200.6 347.4,199.4 353.6,200.3 359.9,194.3 366.2,189.3 372.4,180.7 378.7,202.2 384.9,194.2 391.2,185.7 397.5,180.3 403.7,171.9 410.0,172.0 416.3,131.7 422.5,141.0 428.8,100.4 435.0,120.2 441.3,132.1 447.6,136.5 453.8,125.0 460.1,123.3 466.4,121.1 472.6,136.0 478.9,188.5 485.1,183.3 491.4,198.4 497.7,202.6 503.9,195.7 510.2,332.3 516.5,332.3 522.7,304.4 529.0,347.4 535.2,347.3 541.5,373.5 547.8,358.6 554.0,384.6 560.3,353.9 566.6,331.0 572.8,345.1 579.1,360.1 585.3,334.8 591.6,335.1 597.9,358.8 604.1,348.9 610.4,385.2 616.7,394.9 622.9,365.9 629.2,372.5 635.5,353.3 641.7,369.2 648.0,374.5 654.2,358.3 660.5,371.8 666.8,379.7 673.0,373.0 679.3,365.1 685.6,323.3 691.8,302.7"/>
<polyline points="128.2,255.6 134.4,253.1 140.7,200.0 147.0,217.1 153.2,203.7 159.5,246.0 165.8,262.3 172.0,271.5 178.3,229.3 184.5,250.2 190.8,219.5 197.1,217.9 203.3,220.4 209.6,231.5 215.9,241.6 222.1,230.2 228.4,217.0 234.6,222.3 240.9,215.9 247.2,208.8 253.4,210.1 259.7,208.9 266.0,265.9 272.2,252.8 278.5,237.2 284.7,246.2 291.0,203.5 297.3,202.3 303.5,204.4 309.8,212.3 316.1,211.2 322.3,203.7 328.6,198.4 334.8,199.9 341.1,196.5 347.4,195.1 353.6,193.8 359.9,190.2 366.2,184.8 372.4,175.4 378.7,195.7 384.9,186.9 391.2,178.5 397.5,173.5 403.7,164.4 410.0,166.6 416.3,126.2 422.5,136.7 428.8,94.8 435.0,113.3 441.3,127.3 447.6,130.0 453.8,120.3 460.1,117.8 466.4,116.3 472.6,130.6 478.9,184.9 485.1,179.8 491.4,197.6 497.7,198.8 503.9,190.9 510.2,327.3 516.5,327.8 522.7,301.1 529.0,343.7 535.2,342.5 541.5,365.7 547.8,352.5 554.0,379.3 560.3,348.1 566.6,323.2 572.8,340.0 579.1,354.0 585.3,327.9 591.6,331.2 597.9,354.4 604.1,343.0 610.4,380.1 616.7,389.6 622.9,362.5 629.2,370.4 635.5,348.3 641.7,365.0 648.0,370.4 654.2,356.8 660.5,369.5 666.8,375.8 673.0,369.3 679.3,361.3 685.6,319.6 691.8,299.5"/>
<polyline points="128.2,255.6 134.4,253.6 140.7,201.6 147.0,218.9 153.2,205.7 159.5,248.0 165.8,265.0 172.0,274.0 178.3,231.9 184.5,253.8 190.8,224.2 197.1,221.3 203.3,222.6 209.6,235.7 215.9,246.6 222.1,235.6 228.4,221.5 234.6,226.1 240.9,222.5 247.2,215.6 253.4,216.3 259.7,216.9 266.0,271.2 272.2,257.5 278.5,245.0 284.7,251.0 291.0,208.9 297.3,210.4 303.5,210.8 309.8,220.5 316.1,219.1 322.3,213.2 328.6,207.9 334.8,209.7 341.1,206.9 347.4,205.3 353.6,205.9 359.9,201.1 366.2,195.3 372.4,188.3 378.7,208.6 384.9,199.7 391.2,193.5 397.5,187.3 403.7,177.3 410.0,178.2 416.3,140.7 422.5,148.9 428.8,109.5 435.0,128.0 441.3,139.4 447.6,143.8 453.8,133.9 460.1,129.2 466.4,127.9 472.6,145.4 478.9,198.0 485.1,191.2 491.4,206.7 497.7,207.7 503.9,199.5 510.2,337.2 516.5,335.9 522.7,310.2 529.0,350.6 535.2,350.4 541.5,377.3 547.8,362.6 554.0,390.1 560.3,359.8 566.6,335.5 572.8,351.3 579.1,366.1 585.3,342.9 591.6,343.3 597.9,368.8 604.1,357.7 610.4,395.8 616.7,403.2 622.9,377.3 629.2,382.1 635.5,362.6 641.7,377.8 648.0,382.2 654.2,368.6 660.5,382.0 666.8,389.4 673.0,383.2 679.3,376.5 685.6,335.6 691.8,315.1"/>
<polyline points="128.2,255.6 134.4,253.2 140.7,200.3 147.0,217.5 153.2,203.9 159.5,246.1 165.8,262.5 172.0,272.1 178.3,229.1 184.5,251.2 190.8,222.0 197.1,218.7 203.3,218.8 209.6,232.0 215.9,242.3 222.1,229.8 228.4,218.6 234.6,221.5 240.9,216.3 247.2,210.5 253.4,208.7 259.7,210.5 266.0,264.5 272.2,250.6 278.5,236.8 284.7,244.8 291.0,202.1 297.3,202.5 303.5,204.2 309.8,212.4 316.1,211.0 322.3,205.3 328.6,199.1 334.8,200.8 341.1,197.4 347.4,196.0 353.6,194.8 359.9,189.1 366.2,184.0 372.4,174.6 378.7,195.9 384.9,190.2 391.2,181.5 397.5,175.0 403.7,164.7 410.0,164.8 416.3,125.8 422.5,134.2 428.8,92.9 435.0,113.4 441.3,126.3 447.6,129.7 453.8,118.2 460.1,116.5 466.4,114.3 472.6,132.1 478.9,183.2 485.1,178.7 491.4,195.7 497.7,198.1 503.9,191.2 510.2,327.5 516.5,327.9 522.7,301.8 529.0,342.9 535.2,344.3 541.5,368.0 547.8,353.9 554.0,383.3 560.3,352.0 566.6,328.0 572.8,345.8 579.1,361.7 585.3,335.3 591.6,335.9 597.9,359.3 604.1,348.2 610.4,387.0 616.7,394.3 622.9,365.4 629.2,372.1 635.5,350.8 641.7,368.4 648.0,371.6 654.2,356.4 660.5,373.1 666.8,379.3 673.0,374.3 679.3,365.9 685.6,325.8 691.8,306.2"/>
<polyline points="128.2,255.6 134.4,252.7 140.7,199.1 147.0,216.0 153.2,202.7 159.5,244.4 165.8,260.7 172.0,269.3 178.3,226.9 184.5,248.8 190.8,218.5 197.1,214.2 203.3,216.0 209.6,228.5 215.9,238.6 222.1,227.4 228.4,213.9 234.6,218.2 240.9,213.0 247.2,206.0 253.4,205.8 259.7,206.0 266.0,261.8 272.2,248.2 278.5,233.6 284.7,242.0 291.0,199.8 297.3,199.5 303.5,201.2 309.8,208.4 316.1,208.3 322.3,199.8 328.6,195.3 334.8,195.4 341.1,191.3 347.4,189.3 353.6,189.2 359.9,182.5 366.2,177.5 372.4,170.3 378.7,190.3 384.9,181.3 391.2,173.5 397.5,167.4 403.7,158.0 410.0,158.6 416.3,119.3 422.5,128.7 428.8,88.5 435.0,107.4 441.3,120.7 447.6,125.9 453.8,114.6 460.1,112.0 466.4,110.0 472.6,122.8 478.9,172.7 485.1,167.2 491.4,185.9 497.7,181.9 503.9,168.6 510.2,296.5 516.5,289.7 522.7,261.3 529.0,306.1 535.2,305.5 541.5,333.7 547.8,315.8 554.0,346.4 560.3,312.4 566.6,285.7 572.8,303.3 579.1,318.0 585.3,289.1 591.6,290.3 597.9,315.2 604.1,304.4 610.4,343.8 616.7,349.9 622.9,322.3 629.2,332.0 635.5,312.5 641.7,328.2 648.0,332.8 654.2,314.6 660.5,329.4 666.8,336.2 673.0,329.4 679.3,320.9 685.6,271.5 691.8,245.1"/>
<polyline points="128.2,255.6 134.4,253.2 140.7,200.4 147.0,217.8 153.2,204.2 159.5,246.4 165.8,263.2 172.0,271.6 178.3,229.9 184.5,251.2 190.8,221.1 197.1,218.4 203.3,218.7 209.6,233.1 215.9,243.2 222.1,230.8 228.4,218.3 234.6,221.5 240.9,217.7 247.2,210.2 253.4,209.9 259.7,211.0 266.0,265.8 272.2,253.7 278.5,237.1 284.7,247.2 291.0,204.7 297.3,205.0 303.5,204.5 309.8,213.3 316.1,212.4 322.3,205.8 328.6,199.9 334.8,202.4 341.1,200.1 347.4,197.7 353.6,196.7 359.9,190.7 366.2,185.9 372.4,179.3 378.7,198.6 384.9,190.8 391.2,181.9 397.5,177.2 403.7,167.5 410.0,167.8 416.3,128.7 422.5,139.1 428.8,97.6 435.0,116.5 441.3,129.1 447.6,133.3 453.8,120.3 460.1,119.2 466.4,117.6 472.6,132.1 478.9,185.5 485.1,180.6 491.4,195.9 497.7,198.2 503.9,192.0 510.2,327.8 516.5,328.5 522.7,301.7 529.0,343.7 535.2,342.9 541.5,369.3 547.8,353.8 554.0,382.6 560.3,350.9 566.6,326.2 572.8,343.6 579.1,358.3 585.3,333.1 591.6,333.9 597.9,356.2 604.1,348.7 610.4,385.6 616.7,394.8 622.9,366.8 629.2,374.5 635.5,352.0 641.7,367.5 648.0,374.3 654.2,358.8 660.5,373.6 666.8,379.0 673.0,371.5 679.3,365.8 685.6,322.5 691.8,301.2"/>
<polyline points="128.2,255.6 134.4,253.4 140.7,200.9 147.0,218.4 153.2,205.0 159.5,247.0 165.8,263.7 172.0,272.5 178.3,231.8 184.5,252.6 190.8,223.2 197.1,218.6 203.3,222.2 209.6,234.5 215.9,244.2 222.1,233.2 228.4,221.3 234.6,225.2 240.9,220.3 247.2,213.8 253.4,213.7 259.7,215.3 266.0,269.0 272.2,255.0 278.5,242.6 284.7,250.2 291.0,206.5 297.3,207.8 303.5,208.9 309.8,218.4 316.1,214.5 322.3,209.1 328.6,205.4 334.8,205.2 341.1,202.5 347.4,201.8 353.6,200.9 359.9,195.5 366.2,191.2 372.4,182.9 378.7,204.8 384.9,195.4 391.2,190.1 397.5,182.4 403.7,172.0 410.0,173.3 416.3,134.1 422.5,143.3 428.8,103.4 435.0,122.3 441.3,133.5 447.6,139.5 453.8,127.2 460.1,127.1 466.4,125.2 472.6,142.9 478.9,195.6 485.1,188.7 491.4,205.3 497.7,206.1 503.9,199.3 510.2,334.9 516.5,335.2 522.7,308.9 529.0,349.0 535.2,350.1 541.5,375.7 547.8,361.9 554.0,388.5 560.3,359.2 566.6,334.5 572.8,351.6 579.1,366.7 585.3,340.7 591.6,341.4 597.9,364.4 604.1,352.8 610.4,390.6 616.7,398.3 622.9,370.1 629.2,377.6 635.5,356.5 641.7,372.0 648.0,375.7 654.2,361.4 660.5,375.9 666.8,387.1 673.0,379.7 679.3,372.8 685.6,329.7 691.8,310.2"/>
<polyline points="128.2,255.6 134.4,252.8 140.7,199.3 147.0,216.4 153.2,202.9 159.5,244.5 165.8,261.2 172.0,270.3 178.3,227.4 184.5,249.9 190.8,218.7 197.1,214.4 203.3,216.9 209.6,230.7 215.9,240.6 222.1,228.7 228.4,214.4 234.6,220.0 240.9,214.3 247.2,206.9 253.4,205.7 259.7,208.9 266.0,261.7 272.2,249.2 278.5,233.7 284.7,244.3 291.0,200.3 297.3,200.9 303.5,202.5 309.8,210.1 316.1,208.1 322.3,202.0 328.6,195.5 334.8,197.6 341.1,192.6 347.4,191.9 353.6,191.3 359.9,184.2 366.2,178.3 372.4,169.6 378.7,190.6 384.9,182.7 391.2,173.3 397.5,166.0 403.7,157.8 410.0,157.5 416.3,119.6 422.5,128.7 428.8,86.5 435.0,105.3 441.3,118.4 447.6,122.9 453.8,111.3 460.1,110.4 466.4,109.5 472.6,123.5 478.9,176.6 485.1,171.5 491.4,189.9 497.7,189.2 503.9,177.0 510.2,309.5 516.5,306.0 522.7,278.5 529.0,321.2 535.2,320.2 541.5,347.3 547.8,330.7 554.0,360.2 560.3,327.8 566.6,302.8 572.8,320.3 579.1,334.0 585.3,308.0 591.6,310.8 597.9,333.2 604.1,321.7 610.4,360.3 616.7,367.4 622.9,340.7 629.2,348.3 635.5,329.0 641.7,345.9 648.0,349.8 654.2,332.7 660.5,347.3 666.8,356.3 673.0,349.1 679.3,340.9 685.6,294.2 691.8,271.8"/>
<polyline points="128.2,255.6 134.4,252.9 140.7,199.5 147.0,216.8 153.2,203.0 159.5,244.8 165.8,262.0 172.0,270.2 178.3,228.4 184.5,249.8 190.8,219.7 197.1,214.8 203.3,217.7 209.6,229.0 215.9,241.0 222.1,227.9 228.4,215.5 234.6,220.6 240.9,214.5 247.2,207.8 253.4,207.3 259.7,207.6 266.0,263.7 272.2,249.0 278.5,235.9 284.7,242.7 291.0,201.2 297.3,201.2 303.5,202.3 309.8,210.1 316.1,208.2 322.3,201.1 328.6,195.5 334.8,196.4 341.1,193.7 347.4,191.4 353.6,191.7 359.9,185.1 366.2,178.1 372.4,171.9 378.7,193.2 384.9,186.1 391.2,178.5 397.5,171.7 403.7,161.0 410.0,162.4 416.3,122.0 422.5,131.1 428.8,87.8 435.0,109.3 441.3,121.2 447.6,125.0 453.8,113.9 460.1,110.1 466.4,110.8 472.6,125.2 478.9,177.2 485.1,170.7 491.4,188.7 497.7,187.3 503.9,179.9 510.2,312.4 516.5,310.4 522.7,282.5 529.0,326.3 535.2,325.9 541.5,352.5 547.8,337.1 554.0,365.8 560.3,332.5 566.6,307.8 572.8,323.1 579.1,339.4 585.3,311.4 591.6,313.5 597.9,336.0 604.1,326.5 610.4,363.8 616.7,371.0 622.9,344.6 629.2,351.8 635.5,333.9 641.7,348.7 648.0,353.2 654.2,337.2 660.5,351.6 666.8,358.0 673.0,351.4 679.3,343.6 685.6,298.6 691.8,273.7"/>
<polyline points="128.2,255.6 134.4,253.0 140.7,199.8 147.0,216.7 153.2,203.5 159.5,245.1 165.8,261.9 172.0,271.1 178.3,228.9 184.5,252.0 190.8,219.8 197.1,216.8 203.3,218.4 209.6,229.2 215.9,242.7 222.1,230.1 228.4,216.8 234.6,220.9 240.9,214.7 247.2,208.1 253.4,208.1 259.7,209.4 266.0,264.7 272.2,251.5 278.5,235.7 284.7,244.6 291.0,201.9 297.3,203.7 303.5,203.2 309.8,212.5 316.1,208.9 322.3,202.6 328.6,197.7 334.8,198.8 341.1,195.2 347.4,194.7 353.6,193.8 359.9,187.2 366.2,182.4 372.4,173.8 378.7,194.9 384.9,187.1 391.2,178.7 397.5,172.7 403.7,162.2 410.0,163.1 416.3,124.8 422.5,135.5 428.8,93.7 435.0,112.8 441.3,126.4 447.6,130.6 453.8,117.3 460.1,117.6 466.4,114.8 472.6,129.6 478.9,184.0 485.1,178.2 491.4,193.9 497.7,195.8 503.9,186.9 510.2,321.7 516.5,320.9 522.7,294.1 529.0,337.1 535.2,335.4 541.5,363.3 547.8,347.4 554.0,376.2 560.3,344.6 566.6,320.0 572.8,336.2 579.1,348.8 585.3,323.6 591.6,325.3 597.9,349.0 604.1,336.2 610.4,376.0 616.7,382.7 622.9,356.6 629.2,362.6 635.5,340.7 641.7,359.1 648.0,362.3 654.2,347.3 660.5,363.1 666.8,369.7 673.0,362.9 679.3,353.1 685.6,311.1 691.8,287.8"/>
<polyline points="128.2,255.6 134.4,253.9 140.7,202.1 147.0,219.6 153.2,206.7 159.5,249.2 165.8,265.9 172.0,274.5 178.3,232.9 184.5,255.8 190.8,227.3 197.1,222.7 203.3,225.8 209.6,237.1 215.9,248.7 222.1,237.7 228.4,224.5 234.6,229.3 240.9,224.8 247.2,219.4 253.4,219.6 259.7,219.1 266.0,274.5 272.2,260.1 278.5,246.0 284.7,256.8 291.0,213.8 297.3,215.0 303.5,214.2 309.8,224.7 316.1,223.1 322.3,217.7 328.6,213.5 334.8,215.4 341.1,212.8 347.4,210.3 353.6,210.0 359.9,203.5 366.2,198.5 372.4,192.6 378.7,213.7 384.9,205.0 391.2,199.3 397.5,190.8 403.7,181.2 410.0,183.8 416.3,142.9 422.5,152.2 428.8,111.6 435.0,131.9 441.3,143.2 447.6,146.8 453.8,135.4 460.1,134.6 466.4,130.2 472.6,150.8 478.9,204.4 485.1,197.6 491.4,210.9 497.7,213.7 503.9,204.0 510.2,342.4 516.5,341.4 522.7,316.4 529.0,356.7 535.2,355.8 541.5,380.6 547.8,367.5 554.0,394.4 560.3,364.6 566.6,341.5 572.8,357.3 579.1,371.6 585.3,345.8 591.6,349.8 597.9,372.4 604.1,360.0 610.4,399.7 616.7,409.4 622.9,381.5 629.2,385.6 635.5,365.5 641.7,382.2 648.0,387.7 654.2,371.5 660.5,385.2 666.8,393.5 673.0,385.5 679.3,378.7 685.6,340.3 691.8,322.3"/>
<polyline points="128.2,255.6 134.4,253.6 140.7,201.3 147.0,218.6 153.2,205.6 159.5,247.9 165.8,264.6 172.0,273.5 178.3,231.4 184.5,253.7 190.8,225.3 197.1,219.4 203.3,222.5 209.6,235.6 215.9,247.2 222.1,234.7 228.4,221.6 234.6,227.3 240.9,222.5 247.2,214.6 253.4,215.1 259.7,216.0 266.0,271.5 272.2,256.8 278.5,244.0 284.7,252.9 291.0,210.8 297.3,210.6 303.5,212.1 309.8,220.0 316.1,218.3 322.3,212.5 328.6,206.3 334.8,209.0 341.1,206.2 347.4,204.9 353.6,205.0 359.9,199.1 366.2,193.4 372.4,186.9 378.7,207.8 384.9,199.3 391.2,191.2 397.5,184.6 403.7,175.5 410.0,176.9 416.3,137.1 422.5,146.7 428.8,106.0 435.0,125.0 441.3,136.1 447.6,140.2 453.8,129.8 460.1,128.9 466.4,125.8 472.6,144.6 478.9,197.8 485.1,191.5 491.4,207.1 497.7,207.8 503.9,202.6 510.2,339.5 516.5,337.7 522.7,311.4 529.0,353.3 535.2,351.6 541.5,377.8 547.8,362.5 554.0,391.4 560.3,360.8 566.6,338.0 572.8,354.9 579.1,367.5 585.3,340.4 591.6,343.6 597.9,367.8 604.1,357.9 610.4,394.9 616.7,404.2 622.9,377.3 629.2,382.4 635.5,360.6 641.7,376.0 648.0,380.4 654.2,365.4 660.5,381.2 666.8,388.5 673.0,382.0 679.3,376.1 685.6,337.5 691.8,314.7"/>
<polyline points="128.2,255.6 134.4,253.3 140.7,200.5 147.0,217.8 153.2,204.4 159.5,246.4 165.8,263.1 172.0,271.9 178.3,229.7 184.5,252.4 190.8,222.4 197.1,218.1 203.3,220.7 209.6,232.4 215.9,243.9 222.1,231.2 228.4,219.6 234.6,221.7 240.9,218.4 247.2,212.0 253.4,212.4 259.7,212.6 266.0,266.0 272.2,252.3 278.5,239.2 284.7,247.6 291.0,205.4 297.3,204.9 303.5,207.0 309.8,214.8 316.1,213.1 322.3,207.9 328.6,202.5 334.8,203.2 341.1,200.7 347.4,199.0 353.6,198.8 359.9,193.0 366.2,187.1 372.4,182.0 378.7,200.1 384.9,192.6 391.2,183.8 397.5,177.0 403.7,167.8 410.0,169.9 416.3,130.0 422.5,139.2 428.8,96.9 435.0,116.1 441.3,128.4 447.6,132.2 453.8,121.3 460.1,120.1 466.4,119.6 472.6,135.0 478.9,188.0 485.1,181.7 491.4,197.9 497.7,201.1 503.9,190.1 510.2,328.5 516.5,331.6 522.7,302.3 529.0,344.7 535.2,344.6 541.5,369.6 547.8,355.0 554.0,382.6 560.3,351.8 566.6,327.9 572.8,343.9 579.1,357.6 585.3,332.1 591.6,333.0 597.9,357.5 604.1,346.8 610.4,384.8 616.7,393.9 622.9,364.5 629.2,371.2 635.5,351.1 641.7,367.9 648.0,373.3 654.2,357.5 660.5,372.9 666.8,381.2 673.0,373.8 679.3,365.9 685.6,323.8 691.8,302.1"/>
<polyline points="128.2,255.6 134.4,253.0 140.7,199.6 147.0,216.6 153.2,203.3 159.5,245.4 165.8,261.8 172.0,270.7 178.3,227.7 184.5,250.8 190.8,220.9 197.1,215.8 203.3,219.3 209.6,230.9 215.9,242.5 222.1,231.0 228.4,216.6 234.6,222.0 240.9,215.5 247.2,209.7 253.4,209.5 259.7,209.5 266.0,264.3 272.2,251.4 278.5,237.2 284.7,245.7 291.0,202.8 297.3,202.4 303.5,204.1 309.8,212.8 316.1,210.7 322.3,203.9 328.6,197.0 334.8,198.6 341.1,197.1 347.4,194.6 353.6,195.8 359.9,188.0 366.2,183.1 372.4,174.8 378.7,193.6 384.9,187.0 391.2,177.4 397.5,169.3 403.7,161.5 410.0,161.3 416.3,121.8 422.5,131.5 428.8,90.8 435.0,111.4 441.3,124.0 447.6,129.7 453.8,115.0 460.1,113.2 466.4,112.9 472.6,127.9 478.9,178.9 485.1,173.1 491.4,190.6 497.7,191.5 503.9,180.0 510.2,315.7 516.5,315.2 522.7,287.2 529.0,330.6 535.2,328.9 541.5,356.9 547.8,339.7 554.0,369.2 560.3,337.4 566.6,310.9 572.8,328.3 579.1,343.5 585.3,316.3 591.6,317.7 597.9,343.0 604.1,329.7 610.4,369.3 616.7,377.8 622.9,350.5 629.2,358.8 635.5,337.5 641.7,355.8 648.0,360.1 654.2,343.5 660.5,357.5 666.8,364.4 673.0,357.7 679.3,350.0 685.6,305.7 691.8,283.1"/>
<polyline points="128.2,255.6 134.4,252.8 140.7,199.0 147.0,216.2 153.2,202.4 159.5,244.5 165.8,261.2 172.0,269.8 178.3,226.8 184.5,250.0 190.8,218.2 197.1,215.4 203.3,215.9 209.6,230.5 215.9,238.6 222.1,227.1 228.4,213.7 234.6,219.1 240.9,213.0 247.2,205.7 253.4,205.8 259.7,206.4 266.0,262.6 272.2,248.0 278.5,234.0 284.7,243.0 291.0,200.5 297.3,199.5 303.5,200.7 309.8,209.1 316.1,207.6 322.3,201.1 328.6,196.0 334.8,194.4 341.1,191.0 347.4,190.5 353.6,188.5 359.9,181.9 366.2,176.9 372.4,168.3 378.7,190.1 384.9,181.3 391.2,172.8 397.5,166.0 403.7,157.2 410.0,158.5 416.3,119.1 422.5,127.5 428.8,86.9 435.0,105.3 441.3,119.0 447.6,122.9 453.8,111.0 460.1,109.6 466.4,107.6 472.6,121.4 478.9,173.5 485.1,168.2 491.4,186.8 497.7,183.5 503.9,171.9 510.2,301.3 516.5,296.0 522.7,269.1 529.0,311.6 535.2,310.2 541.5,336.2 547.8,319.2 554.0,349.4 560.3,315.8 566.6,289.7 572.8,305.8 579.1,322.6 585.3,294.5 591.6,294.6 597.9,321.1 604.1,307.2 610.4,346.5 616.7,355.1 622.9,329.8 629.2,338.4 635.5,318.6 641.7,334.8 648.0,339.9 654.2,321.3 660.5,335.2 666.8,342.5 673.0,335.9 679.3,327.5 685.6,281.5 691.8,256.9"/>
<polyline points="128.2,255.6 134.4,252.8 140.7,199.2 147.0,216.1 153.2,202.8 159.5,245.0 165.8,261.7 172.0,270.3 178.3,226.9 184.5,249.3 190.8,219.5 197.1,214.2 203.3,216.1 209.6,229.7 215.9,240.0 222.1,228.9 228.4,213.7 234.6,217.7 240.9,214.2 247.2,207.3 253.4,205.7 259.7,207.5 266.0,261.7 272.2,248.9 278.5,235.1 284.7,244.5 291.0,198.9 297.3,200.5 303.5,200.1 309.8,208.1 316.1,206.8 322.3,200.3 328.6,195.9 334.8,195.8 341.1,191.5 347.4,189.5 353.6,188.7 359.9,183.4 366.2,176.2 372.4,169.7 378.7,189.5 384.9,182.0 391.2,174.1 397.5,168.5 403.7,158.8 410.0,160.8 416.3,120.9 422.5,130.0 428.8,88.4 435.0,108.0 441.3,121.3 447.6,125.8 453.8,114.6 460.1,111.0 466.4,109.9 472.6,122.7 478.9,174.5 485.1,170.2 491.4,188.3 497.7,187.6 503.9,177.0 510.2,308.6 516.5,303.4 522.7,275.3 529.0,319.0 535.2,315.9 541.5,342.9 547.8,326.9 554.0,357.0 560.3,324.7 566.6,297.8 572.8,316.2 579.1,329.9 585.3,302.6 591.6,303.8 597.9,330.9 604.1,319.0 610.4,356.1 616.7,364.4 622.9,336.4 629.2,345.0 635.5,326.3 641.7,343.4 648.0,346.3 654.2,329.3 660.5,344.9 666.8,351.5 673.0,346.0 679.3,336.6 685.6,289.7 691.8,264.9"/>
<polyline points="128.2,255.6 134.4,253.8 140.7,201.8 147.0,219.3 153.2,206.4 159.5,248.2 165.8,265.4 172.0,274.4 178.3,232.5 184.5,255.0 190.8,227.1 197.1,222.0 203.3,224.9 209.6,237.8 215.9,249.0 222.1,237.3 228.4,225.1 234.6,227.6 240.9,222.5 247.2,217.1 253.4,216.7 259.7,217.7 266.0,271.8 272.2,258.5 278.5,243.5 284.7,253.0 291.0,210.2 297.3,211.6 303.5,212.7 309.8,221.1 316.1,219.9 322.3,214.9 328.6,210.5 334.8,213.0 341.1,209.2 347.4,208.9 353.6,207.4 359.9,202.5 366.2,196.6 372.4,188.3 378.7,208.3 384.9,201.2 391.2,192.9 397.5,185.1 403.7,179.0 410.0,177.4 416.3,138.9 422.5,149.0 428.8,108.1 435.0,125.7 441.3,138.3 447.6,142.9 453.8,131.8 460.1,130.7 466.4,128.8 472.6,148.2 478.9,201.2 485.1,195.7 491.4,210.3 497.7,210.8 503.9,203.6 510.2,342.2 516.5,339.9 522.7,312.1 529.0,354.5 535.2,352.9 541.5,378.6 547.8,363.1 554.0,392.3 560.3,361.2 566.6,339.7 572.8,354.9 579.1,370.2 585.3,344.9 591.6,346.8 597.9,370.3 604.1,358.1 610.4,396.8 616.7,406.9 622.9,380.0 629.2,385.6 635.5,366.6 641.7,382.1 648.0,386.2 654.2,372.8 660.5,384.7 666.8,393.9 673.0,385.5 679.3,378.6 685.6,340.9 691.8,322.5"/>
<polyline points="128.2,255.6 134.4,252.9 140.7,199.5 147.0,216.6 153.2,203.4 159.5,245.3 165.8,261.6 172.0,269.7 178.3,227.3 184.5,250.1 190.8,220.4 197.1,216.5 203.3,219.9 209.6,229.9 215.9,241.4 222.1,229.0 228.4,216.1 234.6,220.2 240.9,214.3 247.2,207.9 253.4,206.9 259.7,208.2 266.0,263.9 272.2,249.8 278.5,234.4 284.7,243.3 291.0,200.2 297.3,199.3 303.5,201.0 309.8,210.2 316.1,205.7 322.3,201.5 328.6,195.9 334.8,197.1 341.1,192.9 347.4,192.4 353.6,192.7 359.9,185.6 366.2,180.0 372.4,172.9 378.7,194.4 384.9,187.0 391.2,178.9 397.5,171.9 403.7,162.0 410.0,163.9 416.3,123.2 422.5,133.1 428.8,92.7 435.0,112.8 441.3,124.9 447.6,130.0 453.8,116.5 460.1,115.0 466.4,113.7 472.6,129.0 478.9,179.8 485.1,173.2 491.4,192.3 497.7,190.9 503.9,179.9 510.2,312.2 516.5,309.6 522.7,281.9 529.0,324.1 535.2,324.0 541.5,349.7 547.8,333.5 554.0,361.9 560.3,330.4 566.6,305.7 572.8,323.0 579.1,336.7 585.3,308.6 591.6,311.8 597.9,337.2 604.1,324.3 610.4,363.4 616.7,373.2 622.9,343.2 629.2,351.9 635.5,330.0 641.7,347.6 648.0,351.2 654.2,335.1 660.5,349.2 666.8,357.5 673.0,351.2 679.3,343.5 685.6,297.0 691.8,272.7"/>
<polyline points="128.2,255.6 134.4,252.7 140.7,198.9 147.0,215.9 153.2,202.3 159.5,244.3 165.8,260.7 172.0,269.3 178.3,226.7 184.5,248.8 190.8,218.2 197.1,214.2 203.3,215.9 209.6,227.8 215.9,238.6 222.1,226.7 228.4,213.7 234.6,217.6 240.9,212.5 247.2,205.7 253.4,205.2 259.7,205.7 266.0,261.3 272.2,247.7 278.5,233.0 284.7,242.0 291.0,198.9 297.3,198.9 303.5,199.5 309.8,208.0 316.1,205.7 322.3,198.9 328.6,193.3 334.8,194.4 341.1,191.0 347.4,189.3 353.6,188.1 359.9,181.9 366.2,176.2 372.4,168.3 378.7,189.3 384.9,181.3 391.2,172.8 397.5,166.0 403.7,157.0 410.0,157.5 416.3,117.8 422.5,127.5 428.8,85.7 435.0,105.3 441.3,118.4 447.6,122.9 453.8,111.0 460.1,109.3 466.4,107.6 472.6,120.7 478.9,171.7 485.1,166.6 491.4,185.9 497.7,181.9 503.9,168.3 510.2,296.5 516.5,289.7 522.7,261.3 529.0,306.1 535.2,305.0 541.5,332.8 547.8,315.8 554.0,346.4 560.3,312.4 566.6,285.7 572.8,303.3 579.1,318.0 585.3,289.1 591.6,290.2 597.9,315.2 604.1,302.7 610.4,341.8 616.7,349.2 622.9,321.4 629.2,331.1 635.5,311.8 641.7,328.2 648.0,332.8 654.2,314.6 660.5,329.4 666.8,336.2 673.0,329.4 679.3,320.9 685.6,271.5 691.8,245.1"/>
<polyline points="128.2,255.6 134.4,253.9 140.7,202.3 147.0,219.8 153.2,206.7 159.5,249.2 165.8,266.1 172.0,274.4 178.3,232.5 184.5,255.9 190.8,226.0 197.1,222.7 203.3,224.2 209.6,237.2 215.9,248.5 222.1,237.1 228.4,225.7 234.6,228.0 240.9,223.3 247.2,218.7 253.4,218.3 259.7,219.2 266.0,274.1 272.2,261.7 278.5,245.6 284.7,254.3 291.0,212.0 297.3,213.4 303.5,214.0 309.8,224.3 316.1,220.8 322.3,217.2 328.6,211.8 334.8,212.3 341.1,212.6 347.4,210.3 353.6,211.2 359.9,203.9 366.2,199.4 372.4,192.1 378.7,212.9 384.9,204.3 391.2,196.7 397.5,190.4 403.7,182.0 410.0,183.7 416.3,144.5 422.5,153.2 428.8,113.1 435.0,132.3 441.3,145.5 447.6,149.7 453.8,136.3 460.1,135.1 466.4,130.8 472.6,152.4 478.9,208.3 485.1,201.3 491.4,215.3 497.7,216.2 503.9,207.2 510.2,345.4 516.5,345.0 522.7,317.7 529.0,356.6 535.2,356.4 541.5,382.7 547.8,368.5 554.0,396.7 560.3,366.8 566.6,343.3 572.8,359.8 579.1,373.5 585.3,348.9 591.6,351.7 597.9,373.0 604.1,362.7 610.4,399.9 616.7,409.3 622.9,381.4 629.2,387.1 635.5,365.3 641.7,381.7 648.0,387.2 654.2,372.6 660.5,387.7 666.8,393.4 673.0,388.1 679.3,380.5 685.6,340.9 691.8,323.3"/>
<polyline points="128.2,255.6 134.4,254.4 140.7,203.6 147.0,221.1 153.2,208.7 159.5,250.6 165.8,267.9 172.0,276.3 178.3,234.9 184.5,258.5 190.8,228.9 197.1,226.6 203.3,227.9 209.6,241.1 215.9,252.9 222.1,241.2 228.4,228.9 234.6,233.5 240.9,229.4 247.2,222.9 253.4,223.9 259.7,225.3 266.0,279.0 272.2,265.3 278.5,251.9 284.7,260.7 291.0,219.2 297.3,218.5 303.5,220.9 309.8,228.7 316.1,230.5 322.3,225.0 328.6,220.3 334.8,223.0 341.1,221.0 347.4,219.2 353.6,218.9 359.9,213.2 366.2,209.3 372.4,202.5 378.7,222.0 384.9,215.8 391.2,206.8 397.5,198.9 403.7,190.8 410.0,191.8 416.3,154.4 422.5,163.5 428.8,124.2 435.0,140.5 441.3,151.4 447.6,155.0 453.8,145.4 460.1,141.6 466.4,140.2 472.6,161.4 478.9,219.0 485.1,213.0 491.4,222.9 497.7,221.7 503.9,210.3 510.2,349.4 516.5,346.5 522.7,320.2 529.0,360.8 535.2,359.5 541.5,386.3 547.8,369.6 554.0,398.4 560.3,368.8 566.6,343.6 572.8,360.9 579.1,374.7 585.3,349.4 591.6,351.0 597.9,373.8 604.1,364.3 610.4,401.8 616.7,410.8 622.9,382.3 629.2,388.2 635.5,366.8 641.7,383.6 648.0,389.5 654.2,376.5 660.5,389.3 666.8,398.3 673.0,390.8 679.3,384.0 685.6,346.9 691.8,329.4"/>
<polyline points="128.2,255.6 134.4,253.3 140.7,200.7 147.0,218.1 153.2,204.6 159.5,246.8 165.8,264.2 172.0,272.3 178.3,231.3 184.5,252.6 190.8,222.9 197.1,218.8 203.3,221.3 209.6,232.7 215.9,242.9 222.1,230.9 228.4,219.2 234.6,222.5 240.9,217.0 247.2,211.4 253.4,212.0 259.7,211.5 266.0,267.5 272.2,253.7 278.5,238.8 284.7,248.3 291.0,205.9 297.3,206.8 303.5,206.3 309.8,215.7 316.1,213.2 322.3,208.0 328.6,203.1 334.8,203.7 341.1,201.7 347.4,199.7 353.6,199.4 359.9,192.7 366.2,187.0 372.4,181.2 378.7,202.7 384.9,194.0 391.2,183.8 397.5,177.8 403.7,167.0 410.0,169.3 416.3,130.4 422.5,140.8 428.8,99.5 435.0,118.9 441.3,131.1 447.6,135.9 453.8,123.4 460.1,121.1 466.4,119.8 472.6,136.1 478.9,189.8 485.1,184.4 491.4,199.3 497.7,202.6 503.9,193.8 510.2,333.1 516.5,331.0 522.7,305.9 529.0,345.3 535.2,344.9 541.5,371.1 547.8,356.3 554.0,386.0 560.3,352.8 566.6,330.5 572.8,348.1 579.1,362.5 585.3,336.3 591.6,337.9 597.9,360.2 604.1,349.2 610.4,385.8 616.7,395.7 622.9,369.2 629.2,373.5 635.5,354.3 641.7,370.9 648.0,374.2 654.2,360.9 660.5,375.4 666.8,382.7 673.0,376.5 679.3,368.0 685.6,324.8 691.8,305.9"/>
<polyline points="128.2,255.6 134.4,252.8 140.7,199.2 147.0,216.1 153.2,203.0 159.5,244.8 165.8,261.0 172.0,269.7 178.3,226.8 184.5,249.6 190.8,219.2 197.1,214.2 203.3,216.9 209.6,227.8 215.9,238.6 222.1,226.7 228.4,213.7 234.6,220.0 240.9,214.5 247.2,206.9 253.4,205.5 259.7,206.7 266.0,262.6 272.2,248.1 278.5,234.0 284.7,242.6 291.0,199.2 297.3,200.2 303.5,199.5 309.8,208.0 316.1,206.7 322.3,200.8 328.6,196.3 334.8,196.8 341.1,192.0 347.4,191.2 353.6,188.4 359.9,183.3 366.2,177.0 372.4,170.8 378.7,192.8 384.9,183.2 391.2,174.7 397.5,169.4 403.7,159.4 410.0,161.8 416.3,121.5 422.5,130.6 428.8,89.4 435.0,107.6 441.3,122.1 447.6,124.7 453.8,113.9 460.1,112.1 466.4,109.0 472.6,123.3 478.9,173.9 485.1,168.9 491.4,188.3 497.7,185.3 503.9,172.4 510.2,302.9 516.5,298.6 522.7,269.9 529.0,314.3 535.2,313.1 541.5,339.7 547.8,324.4 554.0,354.4 560.3,321.3 566.6,295.3 572.8,313.0 579.1,327.6 585.3,298.8 591.6,300.2 597.9,324.4 604.1,312.3 610.4,351.3 616.7,359.6 622.9,331.4 629.2,340.6 635.5,320.3 641.7,337.3 648.0,341.9 654.2,323.8 660.5,340.4 666.8,345.9 673.0,340.3 679.3,332.2 685.6,283.4 691.8,258.2"/>
<polyline points="128.2,255.6 134.4,253.0 140.7,199.9 147.0,217.1 153.2,203.6 159.5,245.6 165.8,262.4 172.0,270.5 178.3,228.9 184.5,249.9 190.8,218.7 197.1,215.5 203.3,218.7 209.6,230.9 215.9,240.5 222.1,229.2 228.4,217.1 234.6,220.6 240.9,215.9 247.2,209.6 253.4,209.2 259.7,210.0 266.0,265.7 272.2,253.2 278.5,236.1 284.7,247.2 291.0,202.4 297.3,203.7 303.5,204.2 309.8,212.6 316.1,210.5 322.3,203.8 328.6,200.0 334.8,199.0 341.1,195.9 347.4,195.9 353.6,193.0 359.9,188.3 366.2,182.8 372.4,175.6 378.7,197.2 384.9,189.7 391.2,181.5 397.5,175.3 403.7,167.1 410.0,165.3 416.3,126.4 422.5,136.9 428.8,95.5 435.0,112.7 441.3,126.0 447.6,130.6 453.8,118.2 460.1,116.9 466.4,115.2 472.6,129.2 478.9,180.7 485.1,176.0 491.4,193.1 497.7,193.6 503.9,185.8 510.2,321.6 516.5,321.6 522.7,294.9 529.0,337.4 535.2,335.3 541.5,362.3 547.8,345.2 554.0,375.4 560.3,345.2 566.6,319.2 572.8,336.9 579.1,351.9 585.3,324.3 591.6,325.3 597.9,348.7 604.1,338.9 610.4,378.1 616.7,386.2 622.9,359.6 629.2,364.1 635.5,344.2 641.7,361.7 648.0,368.4 654.2,351.8 660.5,365.9 666.8,373.2 673.0,366.5 679.3,356.1 685.6,313.6 691.8,295.9"/>
<polyline points="128.2,255.6 134.4,253.6 140.7,201.4 147.0,218.7 153.2,205.6 159.5,248.0 165.8,264.8 172.0,273.5 178.3,231.8 184.5,253.6 190.8,224.2 197.1,220.4 203.3,223.0 209.6,236.6 215.9,246.9 222.1,234.1 228.4,222.2 234.6,226.0 240.9,222.0 247.2,215.8 253.4,216.1 259.7,216.3 266.0,270.9 272.2,258.9 278.5,243.3 284.7,253.0 291.0,210.4 297.3,211.2 303.5,213.2 309.8,221.2 316.1,219.6 322.3,213.8 328.6,208.4 334.8,211.7 341.1,208.2 347.4,206.3 353.6,206.9 359.9,201.0 366.2,195.0 372.4,188.2 378.7,208.4 384.9,202.0 391.2,194.1 397.5,187.0 403.7,177.7 410.0,176.9 416.3,138.0 422.5,148.5 428.8,107.5 435.0,126.0 441.3,137.5 447.6,143.4 453.8,129.3 460.1,128.9 466.4,125.5 472.6,143.8 478.9,199.1 485.1,192.6 491.4,207.6 497.7,208.9 503.9,201.8 510.2,336.4 516.5,336.2 522.7,308.9 529.0,350.1 535.2,351.2 541.5,376.3 547.8,362.5 554.0,392.3 560.3,359.1 566.6,335.9 572.8,352.8 579.1,365.9 585.3,340.5 591.6,342.0 597.9,365.2 604.1,355.8 610.4,393.0 616.7,402.8 622.9,375.1 629.2,380.3 635.5,359.9 641.7,376.1 648.0,381.8 654.2,366.3 660.5,380.8 666.8,390.0 673.0,382.2 679.3,374.3 685.6,335.8 691.8,315.4"/>
<polyline points="128.2,255.6 134.4,253.7 140.7,201.5 147.0,219.1 153.2,205.7 159.5,247.9 165.8,264.5 172.0,273.2 178.3,231.4 184.5,253.5 190.8,225.6 197.1,220.6 203.3,222.4 209.6,236.2 215.9,247.0 222.1,234.7 228.4,222.7 234.6,225.3 240.9,220.8 247.2,215.2 253.4,215.5 259.7,214.9 266.0,271.3 272.2,258.1 278.5,241.3 284.7,250.5 291.0,209.3 297.3,208.4 303.5,211.1 309.8,218.8 316.1,216.4 322.3,212.8 328.6,207.6 334.8,209.8 341.1,208.0 347.4,207.1 353.6,206.7 359.9,201.2 366.2,194.8 372.4,187.1 378.7,207.3 384.9,199.7 391.2,192.2 397.5,185.8 403.7,177.2 410.0,178.7 416.3,139.0 422.5,147.7 428.8,107.0 435.0,124.7 441.3,136.3 447.6,140.5 453.8,129.2 460.1,126.0 466.4,124.8 472.6,141.7 478.9,195.0 485.1,188.6 491.4,203.6 497.7,205.2 503.9,196.3 510.2,336.2 516.5,336.1 522.7,309.8 529.0,350.9 535.2,349.7 541.5,376.4 547.8,361.0 554.0,389.3 560.3,360.3 566.6,337.1 572.8,353.6 579.1,368.5 585.3,341.7 591.6,344.2 597.9,366.8 604.1,357.5 610.4,393.7 616.7,402.3 622.9,376.1 629.2,382.1 635.5,361.3 641.7,377.4 648.0,383.6 654.2,368.8 660.5,382.8 666.8,390.6 673.0,384.4 679.3,375.9 685.6,336.7 691.8,318.3"/>
<polyline points="128.2,255.6 134.4,255.0 140.7,205.3 147.0,223.3 153.2,210.6 159.5,253.2 165.8,270.8 172.0,280.0 178.3,238.7 184.5,261.9 190.8,234.2 197.1,231.2 203.3,233.6 209.6,246.7 215.9,256.4 222.1,247.7 228.4,234.1 234.6,239.1 240.9,235.6 247.2,230.4 253.4,230.8 259.7,233.0 266.0,285.8 272.2,272.5 278.5,258.4 284.7,267.3 291.0,225.9 297.3,226.3 303.5,228.1 309.8,238.0 316.1,236.3 322.3,232.8 328.6,228.1 334.8,232.2 341.1,229.9 347.4,229.9 353.6,230.9 359.9,225.5 366.2,221.9 372.4,214.8 378.7,234.9 384.9,226.7 391.2,217.7 397.5,213.2 403.7,202.3 410.0,204.4 416.3,168.2 422.5,176.3 428.8,136.9 435.0,154.6 441.3,166.8 447.6,168.6 453.8,159.6 460.1,156.0 466.4,155.1 472.6,180.2 478.9,239.1 485.1,232.9 491.4,240.4 497.7,235.1 503.9,224.4 510.2,357.1 516.5,348.7 522.7,321.1 529.0,362.5 535.2,362.4 541.5,388.9 547.8,373.5 554.0,401.1 560.3,373.0 566.6,347.1 572.8,362.4 579.1,376.2 585.3,352.8 591.6,353.3 597.9,377.6 604.1,368.3 610.4,405.2 616.7,414.5 622.9,387.5 629.2,391.6 635.5,372.3 641.7,387.7 648.0,393.3 654.2,380.0 660.5,393.6 666.8,401.7 673.0,394.4 679.3,388.5 685.6,349.2 691.8,332.4"/>
<polyline points="128.2,255.6 134.4,254.1 140.7,202.8 147.0,220.5 153.2,207.5 159.5,249.8 165.8,267.1 172.0,275.6 178.3,234.1 184.5,256.3 190.8,227.6 197.1,223.2 203.3,225.9 209.6,238.5 215.9,248.7 222.1,240.2 228.4,225.7 234.6,230.4 240.9,227.4 247.2,220.4 253.4,221.4 259.7,222.0 266.0,276.5 272.2,263.6 278.5,248.8 284.7,259.0 291.0,216.0 297.3,214.3 303.5,216.1 309.8,227.5 316.1,225.3 322.3,220.4 328.6,216.9 334.8,218.8 341.1,216.3 347.4,216.5 353.6,216.1 359.9,210.5 366.2,205.5 372.4,196.6 378.7,218.2 384.9,210.5 391.2,202.7 397.5,195.4 403.7,187.4 410.0,188.2 416.3,149.3 422.5,160.7 428.8,119.5 435.0,138.0 441.3,150.1 447.6,154.3 453.8,141.9 460.1,139.8 466.4,137.8 472.6,158.1 478.9,213.4 485.1,206.4 491.4,217.8 497.7,216.7 503.9,207.3 510.2,346.2 516.5,343.8 522.7,319.5 529.0,359.9 535.2,359.1 541.5,384.7 547.8,370.4 554.0,399.8 560.3,369.1 566.6,345.9 572.8,362.0 579.1,377.7 585.3,353.5 591.6,355.3 597.9,377.3 604.1,369.2 610.4,405.1 616.7,415.0 622.9,388.4 629.2,394.1 635.5,373.9 641.7,388.2 648.0,395.1 654.2,380.9 660.5,396.0 666.8,401.1 673.0,394.6 679.3,387.2 685.6,349.3 691.8,331.0"/>
<polyline points="128.2,255.6 134.4,253.4 140.7,200.8 147.0,218.1 153.2,204.9 159.5,247.1 165.8,263.7 172.0,273.3 178.3,230.1 184.5,253.5 190.8,223.0 197.1,219.6 203.3,220.4 209.6,232.2 215.9,244.6 222.1,232.0 228.4,220.0 234.6,224.3 240.9,219.1 247.2,213.4 253.4,212.5 259.7,214.5 266.0,269.4 272.2,254.9 278.5,241.1 284.7,248.7 291.0,206.6 297.3,207.5 303.5,207.4 309.8,216.7 316.1,214.0 322.3,208.0 328.6,204.3 334.8,207.0 341.1,201.9 347.4,201.4 353.6,201.1 359.9,194.4 366.2,189.4 372.4,180.8 378.7,202.3 384.9,195.1 391.2,184.4 397.5,177.8 403.7,170.3 410.0,170.5 416.3,131.5 422.5,142.1 428.8,102.3 435.0,118.5 441.3,132.2 447.6,136.5 453.8,124.8 460.1,121.8 466.4,120.5 472.6,137.0 478.9,190.7 485.1,183.2 491.4,199.2 497.7,200.3 503.9,192.5 510.2,331.0 516.5,330.8 522.7,305.0 529.0,346.5 535.2,343.4 541.5,371.7 547.8,356.8 554.0,383.6 560.3,350.8 566.6,327.6 572.8,344.3 579.1,361.6 585.3,333.0 591.6,335.5 597.9,358.7 604.1,347.7 610.4,385.8 616.7,394.6 622.9,367.3 629.2,373.3 635.5,355.1 641.7,371.3 648.0,377.1 654.2,362.0 660.5,376.9 666.8,384.0 673.0,377.0 679.3,368.7 685.6,329.9 691.8,310.1"/>
<polyline points="128.2,255.6 134.4,254.7 140.7,204.3 147.0,222.1 153.2,209.9 159.5,252.1 165.8,269.2 172.0,278.3 178.3,237.6 184.5,260.4 190.8,231.6 197.1,229.5 203.3,231.6 209.6,244.5 215.9,257.3 222.1,245.4 228.4,232.8 234.6,237.9 240.9,234.0 247.2,228.1 253.4,227.4 259.7,229.7 266.0,283.1 272.2,269.3 278.5,255.2 284.7,263.7 291.0,222.5 297.3,221.3 303.5,223.8 309.8,233.0 316.1,232.9 322.3,226.4 328.6,223.9 334.8,226.4 341.1,224.7 347.4,225.7 353.6,226.4 359.9,221.3 366.2,215.3 372.4,209.1 378.7,230.4 384.9,223.3 391.2,214.7 397.5,207.8 403.7,198.3 410.0,199.0 416.3,161.5 422.5,170.3 428.8,129.6 435.0,148.3 441.3,161.0 447.6,162.5 453.8,152.5 460.1,149.3 466.4,149.6 472.6,171.1 478.9,227.8 485.1,218.9 491.4,229.0 497.7,226.8 503.9,216.0 510.2,350.7 516.5,345.7 522.7,319.3 529.0,361.7 535.2,359.9 541.5,384.9 547.8,370.2 554.0,398.7 560.3,368.5 566.6,347.0 572.8,361.3 579.1,376.9 585.3,351.7 591.6,353.8 597.9,376.1 604.1,365.7 610.4,403.8 616.7,414.4 622.9,386.3 629.2,390.5 635.5,370.6 641.7,386.5 648.0,392.3 654.2,377.2 660.5,391.3 666.8,399.6 673.0,392.3 679.3,386.7 685.6,348.3 691.8,330.1"/>
</g>
<g fill="none" stroke="#D0BBFF" stroke-width="1.67" stroke-linejoin="round" stroke-linecap="butt">
<polyline points="128.2,255.6 134.4,257.3 140.7,202.0 147.0,221.4 153.2,208.6 159.5,251.9 165.8,270.7 172.0,282.8 178.3,243.6 184.5,265.3 190.8,240.9 197.1,238.1 203.3,242.4 209.6,255.1 215.9,266.7 222.1,257.2 228.4,247.2 234.6,252.6 240.9,249.7 247.2,243.7 253.4,244.1 259.7,244.9 266.0,301.5 272.2,285.8 278.5,268.7 284.7,284.4 291.0,245.1 297.3,247.5 303.5,252.8 309.8,262.5 316.1,262.4 322.3,256.5 328.6,253.4 334.8,255.9 341.1,254.8 347.4,257.1 353.6,260.0 359.9,255.1 366.2,251.9 372.4,248.3 378.7,272.1 384.9,267.9 391.2,262.2 397.5,257.3 403.7,251.8 410.0,252.6 416.3,225.1 422.5,228.9 428.8,200.6 435.0,215.0 441.3,226.6 447.6,232.8 453.8,223.3 460.1,221.3 466.4,220.2 472.6,234.0 478.9,273.6 485.1,271.9 491.4,287.5 497.7,280.6 503.9,270.9 510.2,374.2 516.5,360.6 522.7,355.8 529.0,391.4 535.2,390.6 541.5,416.0 547.8,399.9 554.0,420.0 560.3,396.9 566.6,375.7 572.8,390.3 579.1,401.3 585.3,379.5 591.6,381.3 597.9,404.2 604.1,397.4 610.4,426.4 616.7,429.8 622.9,409.8 629.2,421.8 635.5,411.1 641.7,416.8 648.0,420.4 654.2,404.2 660.5,419.4 666.8,423.6 673.0,417.2 679.3,411.2 685.6,370.9 691.8,358.6"/>
<polyline points="128.2,255.6 134.4,257.2 140.7,201.7 147.0,221.1 153.2,208.5 159.5,251.6 165.8,270.4 172.0,282.7 178.3,242.9 184.5,265.1 190.8,240.9 197.1,237.8 203.3,242.1 209.6,254.8 215.9,266.8 222.1,256.8 228.4,247.4 234.6,252.7 240.9,250.0 247.2,244.1 253.4,244.1 259.7,244.9 266.0,301.4 272.2,285.7 278.5,268.6 284.7,284.8 291.0,244.6 297.3,247.5 303.5,252.3 309.8,262.4 316.1,262.2 322.3,256.4 328.6,253.4 334.8,256.3 341.1,255.0 347.4,257.0 353.6,259.5 359.9,253.8 366.2,251.0 372.4,247.4 378.7,272.0 384.9,267.8 391.2,262.2 397.5,257.0 403.7,251.7 410.0,251.9 416.3,223.1 422.5,228.0 428.8,199.3 435.0,213.7 441.3,225.6 447.6,231.5 453.8,222.7 460.1,219.8 466.4,218.8 472.6,232.3 478.9,271.5 485.1,270.7 491.4,286.8 497.7,278.7 503.9,268.6 510.2,369.5 516.5,354.4 522.7,351.6 529.0,385.6 535.2,381.1 541.5,408.6 547.8,392.8 554.0,413.4 560.3,391.3 566.6,369.1 572.8,384.3 579.1,394.5 585.3,373.8 591.6,379.5 597.9,400.4 604.1,393.9 610.4,422.6 616.7,428.0 622.9,407.8 629.2,420.9 635.5,410.0 641.7,416.8 648.0,421.2 654.2,407.8 660.5,421.8 666.8,426.5 673.0,417.8 679.3,414.6 685.6,372.3 691.8,357.7"/>
<polyline points="128.2,255.6 134.4,257.0 140.7,201.4 147.0,220.9 153.2,208.3 159.5,251.6 165.8,270.4 172.0,282.4 178.3,243.5 184.5,265.0 190.8,240.6 197.1,237.9 203.3,241.6 209.6,254.7 215.9,266.6 222.1,256.9 228.4,246.3 234.6,252.1 240.9,249.2 247.2,242.9 253.4,244.0 259.7,244.0 266.0,300.3 272.2,284.8 278.5,267.5 284.7,284.3 291.0,244.2 297.3,245.8 303.5,251.9 309.8,261.8 316.1,261.2 322.3,255.1 328.6,252.5 334.8,255.6 341.1,253.6 347.4,256.5 353.6,259.3 359.9,253.5 366.2,251.1 372.4,247.7 378.7,271.1 384.9,267.3 391.2,261.3 397.5,256.3 403.7,250.3 410.0,251.0 416.3,223.1 422.5,227.3 428.8,198.6 435.0,212.8 441.3,224.3 447.6,230.2 453.8,221.1 460.1,219.6 466.4,218.5 472.6,232.1 478.9,271.2 485.1,271.4 491.4,288.0 497.7,281.8 503.9,273.8 510.2,376.8 516.5,365.2 522.7,360.8 529.0,396.7 535.2,392.1 541.5,421.6 547.8,405.3 554.0,426.0 560.3,402.7 566.6,381.3 572.8,394.4 579.1,404.8 585.3,383.3 591.6,387.2 597.9,407.7 604.1,401.5 610.4,430.0 616.7,433.6 622.9,414.1 629.2,426.5 635.5,417.8 641.7,421.9 648.0,426.5 654.2,410.9 660.5,425.8 666.8,429.0 673.0,420.4 679.3,416.9 685.6,377.0 691.8,363.8"/>
<polyline points="128.2,255.6 134.4,256.8 140.7,201.1 147.0,220.4 153.2,208.0 159.5,251.3 165.8,270.5 172.0,282.6 178.3,243.0 184.5,264.7 190.8,240.5 197.1,238.2 203.3,241.7 209.6,254.5 215.9,266.5 222.1,256.0 228.4,246.3 234.6,251.7 240.9,249.2 247.2,243.3 253.4,243.9 259.7,244.5 266.0,300.2 272.2,285.0 278.5,267.4 284.7,283.9 291.0,243.8 297.3,245.8 303.5,251.4 309.8,261.3 316.1,261.2 322.3,254.9 328.6,252.5 334.8,254.5 341.1,253.8 347.4,255.6 353.6,258.8 359.9,253.2 366.2,250.4 372.4,247.7 378.7,270.6 384.9,266.1 391.2,260.5 397.5,255.7 403.7,249.4 410.0,250.4 416.3,221.6 422.5,225.7 428.8,197.4 435.0,211.4 441.3,223.0 447.6,229.2 453.8,220.3 460.1,218.3 466.4,216.3 472.6,230.3 478.9,269.5 485.1,267.3 491.4,282.9 497.7,278.0 503.9,271.7 510.2,377.5 516.5,366.3 522.7,361.9 529.0,396.0 535.2,392.1 541.5,420.5 547.8,405.4 554.0,424.7 560.3,402.5 566.6,380.6 572.8,394.7 579.1,405.2 585.3,383.5 591.6,387.0 597.9,408.3 604.1,401.9 610.4,429.0 616.7,433.9 622.9,412.8 629.2,426.4 635.5,416.2 641.7,422.3 648.0,426.1 654.2,407.5 660.5,425.7 666.8,428.6 673.0,420.5 679.3,418.6 685.6,377.0 691.8,364.0"/>
<polyline points="128.2,255.6 134.4,256.8 140.7,201.0 147.0,220.3 153.2,207.7 159.5,251.3 165.8,270.3 172.0,282.2 178.3,243.1 184.5,264.7 190.8,239.9 197.1,237.9 203.3,241.5 209.6,253.9 215.9,266.1 222.1,256.0 228.4,246.2 234.6,251.8 240.9,249.1 247.2,243.2 253.4,244.1 259.7,244.6 266.0,300.5 272.2,285.5 278.5,267.3 284.7,284.4 291.0,244.6 297.3,246.8 303.5,251.4 309.8,261.2 316.1,260.9 322.3,255.2 328.6,251.2 334.8,254.6 341.1,253.0 347.4,255.2 353.6,258.1 359.9,253.1 366.2,250.0 372.4,246.6 378.7,270.2 384.9,265.8 391.2,259.4 397.5,254.3 403.7,249.0 410.0,249.4 416.3,220.9 422.5,225.3 428.8,196.5 435.0,210.9 441.3,223.0 447.6,228.9 453.8,219.6 460.1,217.0 466.4,216.4 472.6,231.2 478.9,270.2 485.1,268.7 491.4,285.1 497.7,282.2 503.9,276.6 510.2,383.7 516.5,374.7 522.7,369.9 529.0,405.7 535.2,400.8 541.5,428.4 547.8,412.7 554.0,435.1 560.3,410.5 566.6,390.3 572.8,403.9 579.1,413.5 585.3,391.8 591.6,395.7 597.9,417.1 604.1,409.3 610.4,438.3 616.7,441.9 622.9,420.9 629.2,432.6 635.5,421.7 641.7,428.0 648.0,431.1 654.2,416.1 660.5,431.5 666.8,435.8 673.0,425.8 679.3,423.5 685.6,383.9 691.8,374.2"/>
<polyline points="128.2,255.6 134.4,256.5 140.7,200.6 147.0,219.9 153.2,207.5 159.5,251.1 165.8,270.1 172.0,282.4 178.3,243.0 184.5,264.7 190.8,240.4 197.1,237.7 203.3,241.6 209.6,254.0 215.9,265.9 222.1,256.3 228.4,246.2 234.6,251.5 240.9,248.9 247.2,242.8 253.4,243.7 259.7,243.8 266.0,299.8 272.2,284.8 278.5,267.5 284.7,284.0 291.0,243.5 297.3,246.4 303.5,251.5 309.8,260.9 316.1,261.0 322.3,254.2 328.6,251.4 334.8,253.9 341.1,252.6 347.4,254.9 353.6,258.4 359.9,252.0 366.2,249.1 372.4,245.3 378.7,268.8 384.9,264.7 391.2,259.0 397.5,254.0 403.7,248.1 410.0,248.4 416.3,220.9 422.5,225.0 428.8,195.6 435.0,210.5 441.3,222.5 447.6,228.6 453.8,218.7 460.1,216.8 466.4,215.0 472.6,229.2 478.9,269.0 485.1,268.0 491.4,284.4 497.7,277.9 503.9,268.2 510.2,371.3 516.5,357.6 522.7,353.1 529.0,388.2 535.2,384.5 541.5,411.7 547.8,394.6 554.0,415.3 560.3,392.2 566.6,371.1 572.8,385.5 579.1,395.0 585.3,374.1 591.6,378.1 597.9,399.8 604.1,393.1 610.4,422.5 616.7,427.4 622.9,407.0 629.2,419.5 635.5,408.8 641.7,415.9 648.0,418.3 654.2,403.2 660.5,420.7 666.8,424.9 673.0,415.8 679.3,413.1 685.6,371.0 691.8,357.3"/>
<polyline points="128.2,255.6 134.4,256.5 140.7,200.5 147.0,219.7 153.2,207.3 159.5,251.2 165.8,270.1 172.0,282.4 178.3,242.6 184.5,264.6 190.8,240.3 197.1,237.3 203.3,241.2 209.6,254.0 215.9,266.1 222.1,256.0 228.4,246.0 234.6,251.8 240.9,248.8 247.2,242.9 253.4,243.3 259.7,243.7 266.0,300.4 272.2,285.2 278.5,267.4 284.7,283.9 291.0,243.9 297.3,246.4 303.5,251.7 309.8,261.3 316.1,260.4 322.3,254.5 328.6,251.5 334.8,253.6 341.1,252.9 347.4,255.0 353.6,257.6 359.9,251.9 366.2,249.6 372.4,246.2 378.7,270.1 384.9,264.8 391.2,259.2 397.5,253.9 403.7,247.9 410.0,248.8 416.3,220.5 422.5,224.7 428.8,195.7 435.0,210.2 441.3,222.7 447.6,228.8 453.8,219.1 460.1,216.6 466.4,215.9 472.6,229.6 478.9,269.6 485.1,268.4 491.4,285.2 497.7,282.8 503.9,278.1 510.2,386.9 516.5,379.4 522.7,373.3 529.0,407.7 535.2,405.1 541.5,433.1 547.8,416.4 554.0,437.8 560.3,413.0 566.6,392.5 572.8,409.0 579.1,416.9 585.3,396.4 591.6,399.5 597.9,420.1 604.1,413.8 610.4,441.1 616.7,445.3 622.9,422.9 629.2,434.2 635.5,423.1 641.7,430.2 648.0,432.0 654.2,416.2 660.5,431.5 666.8,435.4 673.0,425.2 679.3,422.4 685.6,384.6 691.8,374.2"/>
<polyline points="128.2,255.6 134.4,256.3 140.7,200.3 147.0,219.4 153.2,207.1 159.5,250.9 165.8,269.9 172.0,282.0 178.3,242.8 184.5,264.2 190.8,240.0 197.1,237.0 203.3,240.9 209.6,253.6 215.9,265.2 222.1,255.6 228.4,245.6 234.6,251.0 240.9,248.3 247.2,242.2 253.4,242.8 259.7,243.5 266.0,299.7 272.2,284.8 278.5,267.2 284.7,283.7 291.0,242.8 297.3,245.1 303.5,250.3 309.8,260.2 316.1,259.7 322.3,253.7 328.6,250.3 334.8,253.0 341.1,252.1 347.4,254.2 353.6,257.4 359.9,251.7 366.2,248.8 372.4,245.4 378.7,268.9 384.9,264.9 391.2,259.0 397.5,253.5 403.7,248.3 410.0,248.8 416.3,220.1 422.5,224.8 428.8,195.7 435.0,210.6 441.3,222.3 447.6,228.7 453.8,219.6 460.1,216.3 466.4,215.2 472.6,229.4 478.9,268.2 485.1,268.4 491.4,284.8 497.7,283.3 503.9,279.3 510.2,390.3 516.5,382.8 522.7,376.0 529.0,409.2 535.2,407.9 541.5,435.4 547.8,418.6 554.0,441.2 560.3,416.1 566.6,397.1 572.8,410.2 579.1,420.4 585.3,400.0 591.6,401.4 597.9,423.1 604.1,416.0 610.4,442.2 616.7,445.8 622.9,422.7 629.2,434.9 635.5,422.4 641.7,431.6 648.0,435.7 654.2,416.9 660.5,434.0 666.8,435.7 673.0,429.5 679.3,425.6 685.6,386.0 691.8,378.2"/>
<polyline points="128.2,255.6 134.4,256.1 140.7,200.0 147.0,219.1 153.2,206.8 159.5,250.7 165.8,269.7 172.0,281.9 178.3,243.0 184.5,264.5 190.8,239.8 197.1,236.9 203.3,241.1 209.6,253.4 215.9,265.7 222.1,255.1 228.4,245.6 234.6,251.2 240.9,248.2 247.2,242.5 253.4,243.4 259.7,243.3 266.0,299.6 272.2,283.9 278.5,266.6 284.7,283.3 291.0,242.8 297.3,245.3 303.5,250.6 309.8,260.0 316.1,259.9 322.3,253.7 328.6,250.0 334.8,252.7 341.1,251.8 347.4,253.9 353.6,256.6 359.9,251.4 366.2,247.7 372.4,243.7 378.7,266.8 384.9,262.2 391.2,256.5 397.5,252.2 403.7,245.9 410.0,246.5 416.3,218.0 422.5,222.6 428.8,193.2 435.0,207.8 441.3,219.8 447.6,226.1 453.8,216.2 460.1,214.0 466.4,213.1 472.6,227.3 478.9,266.8 485.1,265.7 491.4,282.1 497.7,275.8 503.9,265.1 510.2,367.7 516.5,353.5 522.7,351.3 529.0,387.8 535.2,383.2 541.5,411.6 547.8,394.8 554.0,414.6 560.3,389.8 566.6,371.1 572.8,384.7 579.1,394.4 585.3,373.8 591.6,378.8 597.9,401.3 604.1,394.3 610.4,422.5 616.7,425.9 622.9,406.0 629.2,417.4 635.5,408.8 641.7,414.6 648.0,419.5 654.2,402.0 660.5,418.7 666.8,423.8 673.0,414.7 679.3,411.0 685.6,368.7 691.8,357.3"/>
<polyline points="128.2,255.6 134.4,256.0 140.7,199.7 147.0,218.8 153.2,206.5 159.5,250.5 165.8,269.8 172.0,281.8 178.3,242.5 184.5,264.6 190.8,239.6 197.1,236.8 203.3,240.8 209.6,253.6 215.9,265.3 222.1,255.5 228.4,245.4 234.6,250.9 240.9,248.0 247.2,241.3 253.4,242.3 259.7,243.2 266.0,299.1 272.2,283.6 278.5,266.1 284.7,282.6 291.0,242.3 297.3,243.6 303.5,249.1 309.8,258.3 316.1,258.9 322.3,252.1 328.6,249.8 334.8,251.5 341.1,250.8 347.4,252.4 353.6,255.4 359.9,249.8 366.2,247.1 372.4,243.4 378.7,267.4 384.9,262.3 391.2,256.6 397.5,251.4 403.7,245.6 410.0,246.1 416.3,217.0 422.5,221.6 428.8,192.2 435.0,207.0 441.3,218.7 447.6,225.2 453.8,215.9 460.1,213.3 466.4,212.7 472.6,226.5 478.9,266.4 485.1,266.1 491.4,280.9 497.7,275.9 503.9,269.1 510.2,371.8 516.5,359.7 522.7,357.1 529.0,391.3 535.2,387.4 541.5,414.7 547.8,399.5 554.0,419.6 560.3,397.9 566.6,376.3 572.8,390.0 579.1,398.9 585.3,379.0 591.6,383.8 597.9,403.4 604.1,395.3 610.4,424.2 616.7,429.9 622.9,410.4 629.2,421.8 635.5,413.1 641.7,418.6 648.0,422.1 654.2,404.6 660.5,423.0 666.8,426.0 673.0,417.3 679.3,415.1 685.6,373.6 691.8,359.2"/>
<polyline points="128.2,255.6 134.4,255.8 140.7,199.4 147.0,218.4 153.2,206.3 159.5,250.4 165.8,269.6 172.0,281.9 178.3,242.3 184.5,264.0 190.8,239.5 197.1,236.6 203.3,240.4 209.6,253.4 215.9,265.3 222.1,255.2 228.4,245.2 234.6,250.5 240.9,248.2 247.2,241.5 253.4,242.1 259.7,242.8 266.0,299.2 272.2,283.3 278.5,266.1 284.7,282.3 291.0,241.8 297.3,243.8 303.5,248.8 309.8,258.6 316.1,258.4 322.3,252.0 328.6,248.9 334.8,251.5 341.1,250.7 347.4,251.9 353.6,254.8 359.9,249.0 366.2,246.5 372.4,242.4 378.7,265.8 384.9,261.5 391.2,256.2 397.5,250.3 403.7,244.8 410.0,245.3 416.3,216.6 422.5,221.0 428.8,191.7 435.0,205.8 441.3,217.9 447.6,223.8 453.8,214.9 460.1,212.8 466.4,211.6 472.6,225.2 478.9,265.5 485.1,264.3 491.4,281.2 497.7,277.0 503.9,271.2 510.2,379.8 516.5,368.2 522.7,363.2 529.0,398.9 535.2,396.0 541.5,423.3 547.8,407.2 554.0,428.1 560.3,403.3 566.6,385.5 572.8,399.1 579.1,408.4 585.3,388.8 591.6,392.7 597.9,414.7 604.1,405.5 610.4,433.6 616.7,437.7 622.9,418.1 629.2,428.9 635.5,417.7 641.7,425.2 648.0,427.7 654.2,412.8 660.5,428.7 666.8,431.8 673.0,424.5 679.3,422.3 685.6,381.3 691.8,370.2"/>
<polyline points="128.2,255.6 134.4,255.7 140.7,199.3 147.0,218.2 153.2,206.0 159.5,250.2 165.8,269.5 172.0,281.8 178.3,242.2 184.5,264.2 190.8,239.3 197.1,236.5 203.3,240.6 209.6,253.7 215.9,265.2 222.1,255.7 228.4,245.6 234.6,251.1 240.9,248.2 247.2,241.7 253.4,242.7 259.7,243.0 266.0,298.9 272.2,284.1 278.5,266.4 284.7,283.1 291.0,242.1 297.3,244.9 303.5,250.0 309.8,259.4 316.1,259.0 322.3,252.6 328.6,249.7 334.8,251.9 341.1,250.4 347.4,253.1 353.6,255.9 359.9,249.9 366.2,246.7 372.4,243.0 378.7,266.3 384.9,262.5 391.2,255.9 397.5,251.1 403.7,245.0 410.0,245.8 416.3,216.1 422.5,221.4 428.8,191.4 435.0,205.9 441.3,218.6 447.6,224.9 453.8,214.7 460.1,212.9 466.4,212.3 472.6,226.3 478.9,265.8 485.1,265.8 491.4,282.2 497.7,278.9 503.9,272.3 510.2,379.5 516.5,367.3 522.7,361.3 529.0,397.0 535.2,393.4 541.5,422.6 547.8,405.8 554.0,427.7 560.3,403.2 566.6,384.4 572.8,397.0 579.1,406.1 585.3,383.6 591.6,389.6 597.9,411.9 604.1,403.9 610.4,431.5 616.7,436.7 622.9,414.8 629.2,427.4 635.5,416.4 641.7,423.0 648.0,427.1 654.2,409.9 660.5,425.4 666.8,430.7 673.0,419.1 679.3,416.2 685.6,374.4 691.8,364.3"/>
<polyline points="128.2,255.6 134.4,255.5 140.7,198.9 147.0,217.9 153.2,205.7 159.5,250.1 165.8,269.5 172.0,281.6 178.3,241.7 184.5,263.8 190.8,239.0 197.1,236.8 203.3,240.6 209.6,252.9 215.9,264.6 222.1,255.1 228.4,245.1 234.6,250.5 240.9,247.7 247.2,241.4 253.4,242.2 259.7,242.2 266.0,299.1 272.2,283.3 278.5,266.0 284.7,282.1 291.0,242.4 297.3,244.3 303.5,249.3 309.8,258.7 316.1,258.5 322.3,252.3 328.6,249.2 334.8,251.6 341.1,250.6 347.4,251.9 353.6,254.0 359.9,249.2 366.2,246.1 372.4,242.3 378.7,265.3 384.9,260.3 391.2,255.0 397.5,249.3 403.7,243.6 410.0,244.2 416.3,215.3 422.5,219.6 428.8,190.1 435.0,204.5 441.3,216.8 447.6,222.7 453.8,213.7 460.1,211.0 466.4,210.8 472.6,224.1 478.9,264.1 485.1,262.2 491.4,279.1 497.7,274.6 503.9,268.2 510.2,372.9 516.5,363.4 522.7,357.1 529.0,393.5 535.2,391.6 541.5,418.3 547.8,399.8 554.0,420.9 560.3,398.2 566.6,376.6 572.8,390.7 579.1,400.5 585.3,380.3 591.6,384.9 597.9,405.9 604.1,398.0 610.4,427.6 616.7,434.2 622.9,411.7 629.2,426.2 635.5,416.4 641.7,421.4 648.0,425.1 654.2,407.5 660.5,423.3 666.8,427.0 673.0,416.6 679.3,414.2 685.6,373.4 691.8,358.9"/>
<polyline points="128.2,255.6 134.4,256.9 140.7,201.6 147.0,221.6 153.2,209.8 159.5,253.5 165.8,272.8 172.0,286.0 178.3,247.6 184.5,269.1 190.8,246.0 197.1,243.5 203.3,247.4 209.6,261.0 215.9,272.6 222.1,263.2 228.4,254.1 234.6,260.0 240.9,257.6 247.2,251.3 253.4,252.5 259.7,252.7 266.0,309.2 272.2,292.7 278.5,275.6 284.7,294.0 291.0,253.5 297.3,256.3 303.5,262.9 309.8,273.3 316.1,272.9 322.3,266.9 328.6,264.4 334.8,266.8 341.1,266.6 347.4,269.4 353.6,273.0 359.9,267.5 366.2,265.4 372.4,262.5 378.7,286.8 384.9,282.9 391.2,277.0 397.5,273.0 403.7,267.3 410.0,267.8 416.3,242.0 422.5,245.1 428.8,219.0 435.0,232.8 441.3,244.4 447.6,251.1 453.8,242.4 460.1,240.0 466.4,238.8 472.6,252.7 478.9,290.7 485.1,290.8 491.4,306.3 497.7,298.8 503.9,288.8 510.2,391.5 516.5,377.3 522.7,371.6 529.0,406.2 535.2,402.8 541.5,431.7 547.8,416.6 554.0,438.9 560.3,414.6 566.6,394.7 572.8,408.0 579.1,417.6 585.3,397.1 591.6,399.3 597.9,420.6 604.1,414.4 610.4,440.0 616.7,444.8 622.9,422.5 629.2,434.1 635.5,423.7 641.7,429.7 648.0,433.2 654.2,416.3 660.5,432.2 666.8,436.8 673.0,431.2 679.3,426.6 685.6,388.5 691.8,377.4"/>
<polyline points="128.2,255.6 134.4,256.7 140.7,201.3 147.0,221.3 153.2,209.6 159.5,253.4 165.8,272.8 172.0,285.8 178.3,247.5 184.5,268.7 190.8,245.6 197.1,243.3 203.3,247.6 209.6,260.2 215.9,272.4 222.1,262.8 228.4,253.5 234.6,260.2 240.9,257.9 247.2,251.9 253.4,252.6 259.7,253.4 266.0,309.6 272.2,293.7 278.5,275.2 284.7,293.2 291.0,253.4 297.3,256.9 303.5,262.5 309.8,272.5 316.1,273.1 322.3,266.6 328.6,264.5 334.8,267.0 341.1,266.1 347.4,269.1 353.6,272.5 359.9,267.7 366.2,264.8 372.4,263.0 378.7,286.4 384.9,283.0 391.2,277.5 397.5,272.6 403.7,267.5 410.0,268.0 416.3,241.7 422.5,245.6 428.8,219.2 435.0,232.7 441.3,244.4 447.6,251.0 453.8,241.9 460.1,239.4 466.4,238.6 472.6,252.1 478.9,290.2 485.1,290.6 491.4,306.3 497.7,295.2 503.9,281.3 510.2,376.4 516.5,358.5 522.7,355.5 529.0,388.6 535.2,388.0 541.5,414.3 547.8,398.5 554.0,419.8 560.3,395.5 566.6,375.3 572.8,388.3 579.1,397.4 585.3,376.9 591.6,380.5 597.9,402.3 604.1,395.4 610.4,424.7 616.7,427.1 622.9,409.4 629.2,422.1 635.5,410.9 641.7,418.1 648.0,421.8 654.2,404.2 660.5,421.4 666.8,426.3 673.0,417.1 679.3,415.0 685.6,372.8 691.8,358.9"/>
<polyline points="128.2,255.6 134.4,256.6 140.7,201.1 147.0,221.0 153.2,209.5 159.5,253.3 165.8,272.6 172.0,285.6 178.3,247.2 184.5,268.1 190.8,245.7 197.1,243.2 203.3,247.2 209.6,260.4 215.9,272.2 222.1,263.1 228.4,253.2 234.6,259.7 240.9,257.3 247.2,251.1 253.4,252.2 259.7,252.3 266.0,308.7 272.2,292.8 278.5,275.1 284.7,293.0 291.0,253.3 297.3,255.7 303.5,262.3 309.8,272.2 316.1,272.3 322.3,266.2 328.6,263.9 334.8,267.2 341.1,266.0 347.4,268.3 353.6,272.5 359.9,266.8 366.2,264.1 372.4,262.2 378.7,286.2 384.9,282.7 391.2,277.0 397.5,272.4 403.7,267.4 410.0,267.6 416.3,241.4 422.5,245.2 428.8,218.2 435.0,231.9 441.3,243.1 447.6,250.3 453.8,241.3 460.1,238.4 466.4,238.8 472.6,252.2 478.9,289.8 485.1,289.2 491.4,305.3 497.7,295.2 503.9,283.9 510.2,383.1 516.5,368.0 522.7,362.3 529.0,397.9 535.2,394.4 541.5,422.7 547.8,406.2 554.0,426.4 560.3,402.9 566.6,382.1 572.8,394.9 579.1,405.4 585.3,383.6 591.6,387.9 597.9,411.1 604.1,404.0 610.4,432.0 616.7,435.7 622.9,413.5 629.2,424.8 635.5,415.9 641.7,421.4 648.0,425.0 654.2,407.4 660.5,424.2 666.8,426.4 673.0,418.9 679.3,415.4 685.6,374.2 691.8,362.5"/>
<polyline points="128.2,255.6 134.4,256.2 140.7,200.5 147.0,220.2 153.2,208.8 159.5,252.8 165.8,272.3 172.0,285.5 178.3,246.8 184.5,267.9 190.8,245.3 197.1,242.6 203.3,247.1 209.6,259.7 215.9,272.2 222.1,262.3 228.4,252.9 234.6,258.8 240.9,256.8 247.2,250.6 253.4,251.8 259.7,252.7 266.0,308.4 272.2,292.8 278.5,274.4 284.7,292.2 291.0,252.3 297.3,255.4 303.5,261.1 309.8,271.2 316.1,271.6 322.3,265.6 328.6,262.8 334.8,265.4 341.1,264.9 347.4,267.8 353.6,271.6 359.9,265.5 366.2,263.5 372.4,260.3 378.7,284.2 384.9,280.8 391.2,275.1 397.5,271.2 403.7,264.6 410.0,265.6 416.3,239.8 422.5,242.3 428.8,216.2 435.0,229.4 441.3,241.3 447.6,247.5 453.8,238.4 460.1,235.7 466.4,235.2 472.6,249.2 478.9,286.7 485.1,286.5 491.4,302.4 497.7,291.9 503.9,279.2 510.2,376.7 516.5,359.4 522.7,354.4 529.0,388.9 535.2,386.1 541.5,411.8 547.8,396.8 554.0,419.1 560.3,395.4 566.6,375.5 572.8,387.5 579.1,399.1 585.3,378.7 591.6,381.2 597.9,403.7 604.1,398.0 610.4,427.4 616.7,432.0 622.9,408.8 629.2,422.9 635.5,414.7 641.7,418.6 648.0,423.4 654.2,405.9 660.5,424.0 666.8,427.8 673.0,418.3 679.3,415.5 685.6,373.4 691.8,359.8"/>
<polyline points="128.2,255.6 134.4,256.0 140.7,200.1 147.0,219.7 153.2,208.4 159.5,252.5 165.8,272.2 172.0,285.0 178.3,246.5 184.5,268.2 190.8,245.4 197.1,242.0 203.3,247.5 209.6,259.7 215.9,271.7 222.1,262.3 228.4,252.6 234.6,258.2 240.9,256.4 247.2,250.0 253.4,251.1 259.7,251.6 266.0,308.0 272.2,292.2 278.5,274.3 284.7,291.8 291.0,252.0 297.3,254.7 303.5,260.6 309.8,271.3 316.1,271.6 322.3,265.1 328.6,263.1 334.8,265.2 341.1,264.6 347.4,266.9 353.6,270.9 359.9,265.2 366.2,262.8 372.4,260.1 378.7,284.4 384.9,279.9 391.2,275.0 397.5,269.5 403.7,264.4 410.0,265.1 416.3,238.1 422.5,241.7 428.8,215.3 435.0,228.4 441.3,240.5 447.6,247.1 453.8,237.9 460.1,234.9 466.4,234.2 472.6,248.0 478.9,285.6 485.1,284.4 491.4,299.8 497.7,293.2 503.9,284.0 510.2,389.3 516.5,377.3 522.7,372.3 529.0,407.8 535.2,403.8 541.5,433.0 547.8,415.7 554.0,439.7 560.3,415.0 566.6,393.7 572.8,409.5 579.1,418.2 585.3,395.5 591.6,399.4 597.9,420.9 604.1,413.3 610.4,441.9 616.7,445.5 622.9,425.2 629.2,436.2 635.5,425.5 641.7,430.9 648.0,433.8 654.2,415.3 660.5,431.7 666.8,435.7 673.0,427.5 679.3,423.0 685.6,385.3 691.8,376.1"/>
<polyline points="128.2,255.6 134.4,255.8 140.7,199.8 147.0,219.5 153.2,208.2 159.5,252.5 165.8,272.1 172.0,285.2 178.3,246.3 184.5,268.1 190.8,245.2 197.1,242.1 203.3,247.0 209.6,259.6 215.9,272.2 222.1,262.4 228.4,253.1 234.6,258.7 240.9,256.6 247.2,250.4 253.4,250.9 259.7,251.8 266.0,307.8 272.2,291.9 278.5,274.0 284.7,292.0 291.0,252.2 297.3,254.4 303.5,260.9 309.8,270.9 316.1,271.2 322.3,265.2 328.6,262.4 334.8,264.7 341.1,264.1 347.4,266.8 353.6,271.1 359.9,264.7 366.2,262.1 372.4,259.5 378.7,283.2 384.9,279.3 391.2,273.5 397.5,268.7 403.7,263.8 410.0,263.9 416.3,237.5 422.5,240.6 428.8,213.6 435.0,227.5 441.3,239.6 447.6,245.6 453.8,237.1 460.1,234.6 466.4,233.7 472.6,247.4 478.9,285.0 485.1,284.9 491.4,300.7 497.7,292.5 503.9,283.7 510.2,383.9 516.5,371.0 522.7,365.4 529.0,399.9 535.2,397.1 541.5,425.9 547.8,408.9 554.0,431.5 560.3,407.8 566.6,387.7 572.8,398.6 579.1,410.0 585.3,390.1 591.6,394.5 597.9,416.1 604.1,406.6 610.4,436.5 616.7,440.0 622.9,416.2 629.2,431.0 635.5,420.8 641.7,425.4 648.0,430.1 654.2,410.9 660.5,426.5 666.8,431.2 673.0,421.0 679.3,420.3 685.6,379.7 691.8,368.4"/>
<polyline points="128.2,255.6 134.4,257.2 140.7,208.9 147.0,231.5 153.2,221.2 159.5,260.9 165.8,278.0 172.0,292.5 178.3,254.7 184.5,275.4 190.8,254.4 197.1,251.8 203.3,256.2 209.6,269.7 215.9,282.1 222.1,272.9 228.4,264.1 234.6,271.2 240.9,269.0 247.2,262.4 253.4,263.8 259.7,263.9 266.0,320.4 272.2,303.4 278.5,284.7 284.7,304.3 291.0,265.1 297.3,268.0 303.5,274.4 309.8,284.9 316.1,285.5 322.3,278.9 328.6,277.2 334.8,279.7 341.1,279.7 347.4,282.4 353.6,286.8 359.9,281.5 366.2,279.2 372.4,277.3 378.7,302.0 384.9,299.3 391.2,293.8 397.5,289.6 403.7,284.7 410.0,285.6 416.3,261.3 422.5,263.6 428.8,239.7 435.0,251.4 441.3,263.0 447.6,269.4 453.8,261.0 460.1,257.8 466.4,257.3 472.6,271.3 478.9,308.0 485.1,308.1 491.4,324.3 497.7,311.2 503.9,296.1 510.2,390.4 516.5,370.5 522.7,364.0 529.0,401.3 535.2,397.6 541.5,426.9 547.8,409.5 554.0,431.7 560.3,407.5 566.6,385.2 572.8,399.2 579.1,409.9 585.3,387.6 591.6,393.0 597.9,413.9 604.1,407.8 610.4,434.4 616.7,439.7 622.9,418.5 629.2,433.1 635.5,422.1 641.7,429.0 648.0,430.9 654.2,415.0 660.5,431.3 666.8,435.2 673.0,425.9 679.3,424.7 685.6,383.3 691.8,372.0"/>
<polyline points="128.2,255.6 134.4,256.2 140.7,200.5 147.0,220.4 153.2,208.8 159.5,252.8 165.8,272.4 172.0,285.4 178.3,246.3 184.5,268.4 190.8,245.1 197.1,242.9 203.3,247.2 209.6,259.9 215.9,272.3 222.1,263.0 228.4,253.6 234.6,259.5 240.9,256.6 247.2,250.8 253.4,251.9 259.7,252.2 266.0,308.9 272.2,292.8 278.5,274.5 284.7,292.1 291.0,251.8 297.3,255.0 303.5,261.5 309.8,271.2 316.1,271.5 322.3,265.8 328.6,262.9 334.8,265.5 341.1,264.8 347.4,267.6 353.6,270.9 359.9,265.4 366.2,263.3 372.4,260.6 378.7,284.3 384.9,280.5 391.2,275.0 397.5,270.8 403.7,264.9 410.0,265.7 416.3,239.3 422.5,243.2 428.8,216.6 435.0,229.8 441.3,241.8 447.6,247.4 453.8,239.1 460.1,235.7 466.4,235.4 472.6,248.3 478.9,286.3 485.1,285.8 491.4,300.9 497.7,293.7 503.9,285.1 510.2,386.5 516.5,374.0 522.7,368.8 529.0,403.0 535.2,400.1 541.5,428.5 547.8,413.3 554.0,434.1 560.3,410.6 566.6,390.4 572.8,402.9 579.1,413.9 585.3,391.7 591.6,394.7 597.9,416.5 604.1,408.3 610.4,437.2 616.7,441.1 622.9,419.7 629.2,431.9 635.5,419.6 641.7,426.7 648.0,430.7 654.2,413.9 660.5,429.8 666.8,433.1 673.0,425.5 679.3,422.3 685.6,383.1 691.8,372.8"/>
<polyline points="128.2,255.6 134.4,256.9 140.7,201.6 147.0,221.6 153.2,209.8 159.5,253.4 165.8,272.8 172.0,286.1 178.3,247.2 184.5,268.7 190.8,245.8 197.1,243.3 203.3,247.6 209.6,260.7 215.9,272.6 222.1,263.3 228.4,253.4 234.6,259.7 240.9,257.6 247.2,251.0 253.4,252.0 259.7,252.8 266.0,309.0 272.2,293.5 278.5,275.7 284.7,293.6 291.0,253.9 297.3,256.2 303.5,263.4 309.8,273.4 316.1,273.7 322.3,267.6 328.6,264.5 334.8,266.9 341.1,266.3 347.4,269.9 353.6,273.6 359.9,267.4 366.2,265.6 372.4,263.1 378.7,287.5 384.9,283.3 391.2,278.4 397.5,273.7 403.7,268.9 410.0,268.6 416.3,243.0 422.5,245.7 428.8,219.2 435.0,233.1 441.3,245.2 447.6,251.1 453.8,242.5 460.1,239.9 466.4,239.6 472.6,253.5 478.9,290.5 485.1,292.4 491.4,307.1 497.7,298.1 503.9,286.3 510.2,386.4 516.5,373.9 522.7,367.0 529.0,402.5 535.2,399.3 541.5,427.2 547.8,410.6 554.0,430.6 560.3,408.9 566.6,386.6 572.8,402.3 579.1,411.4 585.3,388.8 591.6,393.4 597.9,415.4 604.1,409.2 610.4,435.8 616.7,438.2 622.9,417.5 629.2,430.8 635.5,421.3 641.7,428.6 648.0,432.0 654.2,414.1 660.5,430.6 666.8,432.8 673.0,426.1 679.3,422.7 685.6,382.0 691.8,369.1"/>
</g>
</g>
<!-- axes frame -->
<rect x="100" y="67" width="619.6" height="423" fill="none" stroke="#2a2a2a" stroke-width="1.2"/>
<!-- ticks -->
<g stroke="#262626" stroke-width="1">
<line x1="128.2" y1="490" x2="128.2" y2="494"/><line x1="253.4" y1="490" x2="253.4" y2="494"/>
<line x1="378.7" y1="490" x2="378.7" y2="494"/><line x1="503.9" y1="490" x2="503.9" y2="494"/>
<line x1="629.2" y1="490" x2="629.2" y2="494"/>
<line x1="96" y1="482.5" x2="100" y2="482.5"/><line x1="96" y1="425.8" x2="100" y2="425.8"/>
<line x1="96" y1="369.1" x2="100" y2="369.1"/><line x1="96" y1="312.4" x2="100" y2="312.4"/>
<line x1="96" y1="255.6" x2="100" y2="255.6"/><line x1="96" y1="198.9" x2="100" y2="198.9"/>
<line x1="96" y1="142.2" x2="100" y2="142.2"/><line x1="96" y1="85.5" x2="100" y2="85.5"/>
</g>
<g font-size="11.1" text-anchor="middle">
<text x="128.2" y="506">0</text><text x="253.4" y="506">20</text><text x="378.7" y="506">40</text>
<text x="503.9" y="506">60</text><text x="629.2" y="506">80</text>
</g>
<g font-size="11.1" text-anchor="end">
<text x="92" y="485.9">3.0</text><text x="92" y="429.2">3.5</text><text x="92" y="372.5">4.0</text>
<text x="92" y="315.8">4.5</text><text x="92" y="259.0">5.0</text><text x="92" y="202.3">5.5</text>
<text x="92" y="145.6">6.0</text><text x="92" y="88.9">6.5</text>
</g>
<text x="410" y="521.5" font-size="11.1" text-anchor="middle">Timestep</text>
<text transform="translate(67.2,278.2) rotate(-90)" font-size="11.1" text-anchor="middle">Token Price USD</text>
<text x="410" y="60.5" font-size="13.33" text-anchor="middle">Token Emission Runs Comparison</text>
<!-- legend -->
<rect x="606.2" y="72.7" width="108.4" height="68.7" rx="2.2" ry="2.2" fill="#ffffff" fill-opacity="0.8" stroke="#d4d4d4" stroke-width="1"/>
<g stroke-width="4.4" stroke-linecap="butt">
<line x1="608.2" y1="81.9" x2="634.6" y2="81.9" stroke="#92C6FF"/>
<line x1="608.2" y1="98.3" x2="634.6" y2="98.3" stroke="#97F0AA"/>
<line x1="608.2" y1="114.7" x2="634.6" y2="114.7" stroke="#FF9F9A"/>
<line x1="608.2" y1="131.1" x2="634.6" y2="131.1" stroke="#D0BBFF"/>
</g>
<g font-size="11.1">
<text x="642" y="85.9">Control</text><text x="642" y="102.3">Net Zero</text>
<text x="642" y="118.7">Deflationary</text><text x="642" y="135.1">Inflationary</text>
</g>
</svg>
</body></html>
